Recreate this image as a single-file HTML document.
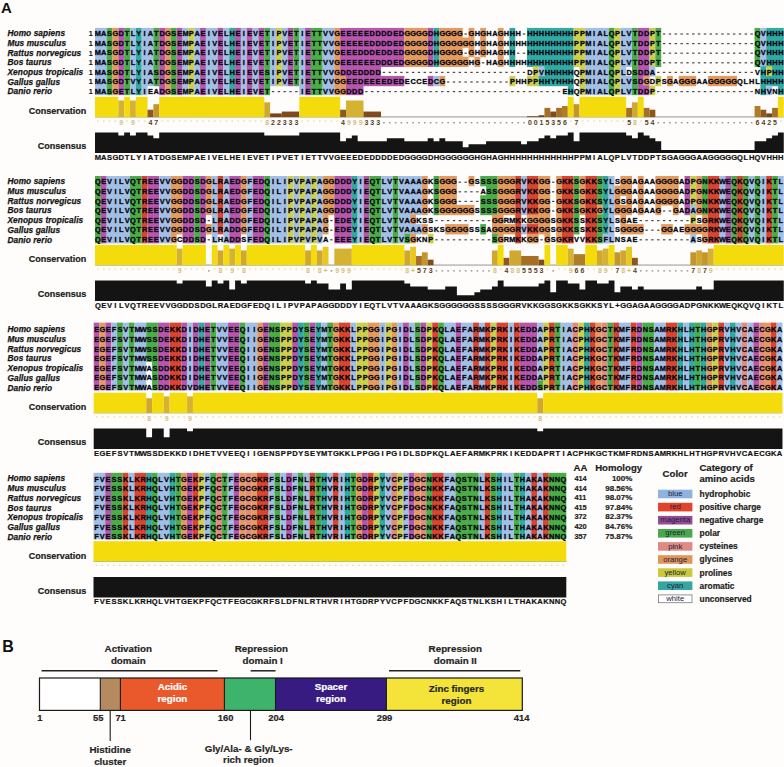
<!DOCTYPE html><html><head><meta charset="utf-8"><style>html,body{margin:0;padding:0;background:#fefdfb;width:784px;height:767px;overflow:hidden}svg{display:block}.sq{font:bold 7.4px "Liberation Sans",sans-serif;fill:#050510;stroke:#050510;stroke-opacity:0.7;stroke-width:0.45}.nm{font:italic bold 8.3px "Liberation Sans",sans-serif;fill:#141414;stroke:#141414;stroke-width:0.25;letter-spacing:0.09px}.lb{font:bold 9px "Liberation Sans",sans-serif;fill:#1a1a1a;stroke:#1a1a1a;stroke-width:0.2}.cs{font:bold 7.6px "Liberation Sans",sans-serif;fill:#111;stroke:#111;stroke-width:0.2}.cn{font:bold 7px "Liberation Sans",sans-serif}.n1{font:bold 8px "Liberation Sans",sans-serif;fill:#1a1a1a}</style></head><body>
<svg width="784" height="767" viewBox="0 0 784 767">
<rect width="784" height="767" fill="#fefdfb"/>
<text x="1.0" y="12.9" style="font:bold 15px 'Liberation Sans',sans-serif;fill:#111">A</text>
<text class="nm" x="7.4" y="36.1">Homo sapiens</text>
<text class="n1" x="88.4" y="36.3">1</text>
<text class="nm" x="7.4" y="45.83">Mus musculus</text>
<text class="n1" x="88.4" y="45.9">1</text>
<text class="nm" x="7.4" y="55.56">Rattus norvegicus</text>
<text class="n1" x="88.4" y="55.5">1</text>
<text class="nm" x="7.4" y="65.29">Bos taurus</text>
<text class="n1" x="88.4" y="65.1">1</text>
<text class="nm" x="7.4" y="75.02">Xenopus tropicalis</text>
<text class="n1" x="88.4" y="74.7">1</text>
<text class="nm" x="7.4" y="84.75">Gallus gallus</text>
<text class="n1" x="88.4" y="84.3">1</text>
<text class="nm" x="7.4" y="94.48">Danio rerio</text>
<text class="n1" x="88.4" y="93.9">1</text>
<rect x="95" y="27.9" width="11.67" height="10.3" fill="#a2bfe5"/>
<rect x="106.67" y="27.9" width="5.84" height="10.3" fill="#4aad45"/>
<rect x="112.51" y="27.9" width="5.84" height="10.3" fill="#e59b5c"/>
<rect x="118.35" y="27.9" width="5.84" height="10.3" fill="#b856ad"/>
<rect x="124.19" y="27.9" width="5.84" height="10.3" fill="#4aad45"/>
<rect x="130.02" y="27.9" width="5.84" height="10.3" fill="#a2bfe5"/>
<rect x="135.86" y="27.9" width="5.84" height="10.3" fill="#30aaa2"/>
<rect x="141.7" y="27.9" width="11.67" height="10.3" fill="#a2bfe5"/>
<rect x="153.37" y="27.9" width="5.84" height="10.3" fill="#4aad45"/>
<rect x="159.21" y="27.9" width="5.84" height="10.3" fill="#b856ad"/>
<rect x="165.04" y="27.9" width="5.84" height="10.3" fill="#e59b5c"/>
<rect x="170.88" y="27.9" width="5.84" height="10.3" fill="#4aad45"/>
<rect x="176.72" y="27.9" width="5.84" height="10.3" fill="#b856ad"/>
<rect x="182.56" y="27.9" width="5.84" height="10.3" fill="#a2bfe5"/>
<rect x="188.39" y="27.9" width="5.84" height="10.3" fill="#cdd04a"/>
<rect x="194.23" y="27.9" width="5.84" height="10.3" fill="#a2bfe5"/>
<rect x="200.07" y="27.9" width="5.84" height="10.3" fill="#b856ad"/>
<rect x="205.9" y="27.9" width="11.67" height="10.3" fill="#a2bfe5"/>
<rect x="217.58" y="27.9" width="5.84" height="10.3" fill="#b856ad"/>
<rect x="223.41" y="27.9" width="5.84" height="10.3" fill="#a2bfe5"/>
<rect x="229.25" y="27.9" width="5.84" height="10.3" fill="#30aaa2"/>
<rect x="235.09" y="27.9" width="5.84" height="10.3" fill="#b856ad"/>
<rect x="240.92" y="27.9" width="5.84" height="10.3" fill="#a2bfe5"/>
<rect x="246.76" y="27.9" width="5.84" height="10.3" fill="#b856ad"/>
<rect x="252.6" y="27.9" width="5.84" height="10.3" fill="#a2bfe5"/>
<rect x="258.44" y="27.9" width="5.84" height="10.3" fill="#b856ad"/>
<rect x="264.27" y="27.9" width="5.84" height="10.3" fill="#4aad45"/>
<rect x="270.11" y="27.9" width="5.84" height="10.3" fill="#a2bfe5"/>
<rect x="275.95" y="27.9" width="5.84" height="10.3" fill="#cdd04a"/>
<rect x="281.78" y="27.9" width="5.84" height="10.3" fill="#a2bfe5"/>
<rect x="287.62" y="27.9" width="5.84" height="10.3" fill="#b856ad"/>
<rect x="293.46" y="27.9" width="5.84" height="10.3" fill="#4aad45"/>
<rect x="299.29" y="27.9" width="5.84" height="10.3" fill="#a2bfe5"/>
<rect x="305.13" y="27.9" width="5.84" height="10.3" fill="#b856ad"/>
<rect x="310.97" y="27.9" width="11.67" height="10.3" fill="#4aad45"/>
<rect x="322.64" y="27.9" width="11.67" height="10.3" fill="#a2bfe5"/>
<rect x="334.32" y="27.9" width="5.84" height="10.3" fill="#e59b5c"/>
<rect x="340.15" y="27.9" width="64.21" height="10.3" fill="#b856ad"/>
<rect x="404.36" y="27.9" width="23.35" height="10.3" fill="#e59b5c"/>
<rect x="427.71" y="27.9" width="5.84" height="10.3" fill="#b856ad"/>
<rect x="433.55" y="27.9" width="5.84" height="10.3" fill="#30aaa2"/>
<rect x="439.38" y="27.9" width="23.35" height="10.3" fill="#e59b5c"/>
<rect x="468.57" y="27.9" width="5.84" height="10.3" fill="#e59b5c"/>
<rect x="480.24" y="27.9" width="5.84" height="10.3" fill="#e59b5c"/>
<rect x="497.75" y="27.9" width="5.84" height="10.3" fill="#e59b5c"/>
<rect x="509.43" y="27.9" width="5.84" height="10.3" fill="#30aaa2"/>
<rect x="526.94" y="27.9" width="46.7" height="10.3" fill="#30aaa2"/>
<rect x="573.63" y="27.9" width="11.67" height="10.3" fill="#cdd04a"/>
<rect x="585.31" y="27.9" width="23.35" height="10.3" fill="#a2bfe5"/>
<rect x="608.66" y="27.9" width="5.84" height="10.3" fill="#4aad45"/>
<rect x="614.49" y="27.9" width="5.84" height="10.3" fill="#cdd04a"/>
<rect x="620.33" y="27.9" width="11.67" height="10.3" fill="#a2bfe5"/>
<rect x="632" y="27.9" width="5.84" height="10.3" fill="#4aad45"/>
<rect x="637.84" y="27.9" width="11.67" height="10.3" fill="#b856ad"/>
<rect x="649.51" y="27.9" width="5.84" height="10.3" fill="#cdd04a"/>
<rect x="655.35" y="27.9" width="5.84" height="10.3" fill="#4aad45"/>
<rect x="754.58" y="27.9" width="5.84" height="10.3" fill="#4aad45"/>
<rect x="760.42" y="27.9" width="5.84" height="10.3" fill="#a2bfe5"/>
<rect x="766.25" y="27.9" width="17.51" height="10.3" fill="#30aaa2"/>
<rect x="95" y="37.5" width="11.67" height="10.3" fill="#a2bfe5"/>
<rect x="106.67" y="37.5" width="5.84" height="10.3" fill="#4aad45"/>
<rect x="112.51" y="37.5" width="5.84" height="10.3" fill="#e59b5c"/>
<rect x="118.35" y="37.5" width="5.84" height="10.3" fill="#b856ad"/>
<rect x="124.19" y="37.5" width="5.84" height="10.3" fill="#4aad45"/>
<rect x="130.02" y="37.5" width="5.84" height="10.3" fill="#a2bfe5"/>
<rect x="135.86" y="37.5" width="5.84" height="10.3" fill="#30aaa2"/>
<rect x="141.7" y="37.5" width="11.67" height="10.3" fill="#a2bfe5"/>
<rect x="153.37" y="37.5" width="5.84" height="10.3" fill="#4aad45"/>
<rect x="159.21" y="37.5" width="5.84" height="10.3" fill="#b856ad"/>
<rect x="165.04" y="37.5" width="5.84" height="10.3" fill="#e59b5c"/>
<rect x="170.88" y="37.5" width="5.84" height="10.3" fill="#4aad45"/>
<rect x="176.72" y="37.5" width="5.84" height="10.3" fill="#b856ad"/>
<rect x="182.56" y="37.5" width="5.84" height="10.3" fill="#a2bfe5"/>
<rect x="188.39" y="37.5" width="5.84" height="10.3" fill="#cdd04a"/>
<rect x="194.23" y="37.5" width="5.84" height="10.3" fill="#a2bfe5"/>
<rect x="200.07" y="37.5" width="5.84" height="10.3" fill="#b856ad"/>
<rect x="205.9" y="37.5" width="11.67" height="10.3" fill="#a2bfe5"/>
<rect x="217.58" y="37.5" width="5.84" height="10.3" fill="#b856ad"/>
<rect x="223.41" y="37.5" width="5.84" height="10.3" fill="#a2bfe5"/>
<rect x="229.25" y="37.5" width="5.84" height="10.3" fill="#30aaa2"/>
<rect x="235.09" y="37.5" width="5.84" height="10.3" fill="#b856ad"/>
<rect x="240.92" y="37.5" width="5.84" height="10.3" fill="#a2bfe5"/>
<rect x="246.76" y="37.5" width="5.84" height="10.3" fill="#b856ad"/>
<rect x="252.6" y="37.5" width="5.84" height="10.3" fill="#a2bfe5"/>
<rect x="258.44" y="37.5" width="5.84" height="10.3" fill="#b856ad"/>
<rect x="264.27" y="37.5" width="5.84" height="10.3" fill="#4aad45"/>
<rect x="270.11" y="37.5" width="5.84" height="10.3" fill="#a2bfe5"/>
<rect x="275.95" y="37.5" width="5.84" height="10.3" fill="#cdd04a"/>
<rect x="281.78" y="37.5" width="5.84" height="10.3" fill="#a2bfe5"/>
<rect x="287.62" y="37.5" width="5.84" height="10.3" fill="#b856ad"/>
<rect x="293.46" y="37.5" width="5.84" height="10.3" fill="#4aad45"/>
<rect x="299.29" y="37.5" width="5.84" height="10.3" fill="#a2bfe5"/>
<rect x="305.13" y="37.5" width="5.84" height="10.3" fill="#b856ad"/>
<rect x="310.97" y="37.5" width="11.67" height="10.3" fill="#4aad45"/>
<rect x="322.64" y="37.5" width="11.67" height="10.3" fill="#a2bfe5"/>
<rect x="334.32" y="37.5" width="5.84" height="10.3" fill="#e59b5c"/>
<rect x="340.15" y="37.5" width="64.21" height="10.3" fill="#b856ad"/>
<rect x="404.36" y="37.5" width="23.35" height="10.3" fill="#e59b5c"/>
<rect x="427.71" y="37.5" width="5.84" height="10.3" fill="#b856ad"/>
<rect x="433.55" y="37.5" width="5.84" height="10.3" fill="#30aaa2"/>
<rect x="439.38" y="37.5" width="35.02" height="10.3" fill="#e59b5c"/>
<rect x="480.24" y="37.5" width="5.84" height="10.3" fill="#e59b5c"/>
<rect x="497.75" y="37.5" width="5.84" height="10.3" fill="#e59b5c"/>
<rect x="509.43" y="37.5" width="5.84" height="10.3" fill="#30aaa2"/>
<rect x="526.94" y="37.5" width="46.7" height="10.3" fill="#30aaa2"/>
<rect x="573.63" y="37.5" width="11.67" height="10.3" fill="#cdd04a"/>
<rect x="585.31" y="37.5" width="23.35" height="10.3" fill="#a2bfe5"/>
<rect x="608.66" y="37.5" width="5.84" height="10.3" fill="#4aad45"/>
<rect x="614.49" y="37.5" width="5.84" height="10.3" fill="#cdd04a"/>
<rect x="620.33" y="37.5" width="11.67" height="10.3" fill="#a2bfe5"/>
<rect x="632" y="37.5" width="5.84" height="10.3" fill="#4aad45"/>
<rect x="637.84" y="37.5" width="11.67" height="10.3" fill="#b856ad"/>
<rect x="649.51" y="37.5" width="5.84" height="10.3" fill="#cdd04a"/>
<rect x="655.35" y="37.5" width="5.84" height="10.3" fill="#4aad45"/>
<rect x="754.58" y="37.5" width="5.84" height="10.3" fill="#4aad45"/>
<rect x="760.42" y="37.5" width="5.84" height="10.3" fill="#a2bfe5"/>
<rect x="766.25" y="37.5" width="17.51" height="10.3" fill="#30aaa2"/>
<rect x="95" y="47.1" width="11.67" height="10.3" fill="#a2bfe5"/>
<rect x="106.67" y="47.1" width="5.84" height="10.3" fill="#4aad45"/>
<rect x="112.51" y="47.1" width="5.84" height="10.3" fill="#e59b5c"/>
<rect x="118.35" y="47.1" width="5.84" height="10.3" fill="#b856ad"/>
<rect x="124.19" y="47.1" width="5.84" height="10.3" fill="#4aad45"/>
<rect x="130.02" y="47.1" width="5.84" height="10.3" fill="#a2bfe5"/>
<rect x="135.86" y="47.1" width="5.84" height="10.3" fill="#30aaa2"/>
<rect x="141.7" y="47.1" width="11.67" height="10.3" fill="#a2bfe5"/>
<rect x="153.37" y="47.1" width="5.84" height="10.3" fill="#4aad45"/>
<rect x="159.21" y="47.1" width="5.84" height="10.3" fill="#b856ad"/>
<rect x="165.04" y="47.1" width="5.84" height="10.3" fill="#e59b5c"/>
<rect x="170.88" y="47.1" width="5.84" height="10.3" fill="#4aad45"/>
<rect x="176.72" y="47.1" width="5.84" height="10.3" fill="#b856ad"/>
<rect x="182.56" y="47.1" width="5.84" height="10.3" fill="#a2bfe5"/>
<rect x="188.39" y="47.1" width="5.84" height="10.3" fill="#cdd04a"/>
<rect x="194.23" y="47.1" width="5.84" height="10.3" fill="#a2bfe5"/>
<rect x="200.07" y="47.1" width="5.84" height="10.3" fill="#b856ad"/>
<rect x="205.9" y="47.1" width="11.67" height="10.3" fill="#a2bfe5"/>
<rect x="217.58" y="47.1" width="5.84" height="10.3" fill="#b856ad"/>
<rect x="223.41" y="47.1" width="5.84" height="10.3" fill="#a2bfe5"/>
<rect x="229.25" y="47.1" width="5.84" height="10.3" fill="#30aaa2"/>
<rect x="235.09" y="47.1" width="5.84" height="10.3" fill="#b856ad"/>
<rect x="240.92" y="47.1" width="5.84" height="10.3" fill="#a2bfe5"/>
<rect x="246.76" y="47.1" width="5.84" height="10.3" fill="#b856ad"/>
<rect x="252.6" y="47.1" width="5.84" height="10.3" fill="#a2bfe5"/>
<rect x="258.44" y="47.1" width="5.84" height="10.3" fill="#b856ad"/>
<rect x="264.27" y="47.1" width="5.84" height="10.3" fill="#4aad45"/>
<rect x="270.11" y="47.1" width="5.84" height="10.3" fill="#a2bfe5"/>
<rect x="275.95" y="47.1" width="5.84" height="10.3" fill="#cdd04a"/>
<rect x="281.78" y="47.1" width="5.84" height="10.3" fill="#a2bfe5"/>
<rect x="287.62" y="47.1" width="5.84" height="10.3" fill="#b856ad"/>
<rect x="293.46" y="47.1" width="5.84" height="10.3" fill="#4aad45"/>
<rect x="299.29" y="47.1" width="5.84" height="10.3" fill="#a2bfe5"/>
<rect x="305.13" y="47.1" width="5.84" height="10.3" fill="#b856ad"/>
<rect x="310.97" y="47.1" width="11.67" height="10.3" fill="#4aad45"/>
<rect x="322.64" y="47.1" width="11.67" height="10.3" fill="#a2bfe5"/>
<rect x="334.32" y="47.1" width="5.84" height="10.3" fill="#e59b5c"/>
<rect x="340.15" y="47.1" width="64.21" height="10.3" fill="#b856ad"/>
<rect x="404.36" y="47.1" width="23.35" height="10.3" fill="#e59b5c"/>
<rect x="427.71" y="47.1" width="5.84" height="10.3" fill="#b856ad"/>
<rect x="433.55" y="47.1" width="5.84" height="10.3" fill="#30aaa2"/>
<rect x="439.38" y="47.1" width="23.35" height="10.3" fill="#e59b5c"/>
<rect x="468.57" y="47.1" width="5.84" height="10.3" fill="#e59b5c"/>
<rect x="480.24" y="47.1" width="5.84" height="10.3" fill="#e59b5c"/>
<rect x="497.75" y="47.1" width="5.84" height="10.3" fill="#e59b5c"/>
<rect x="509.43" y="47.1" width="5.84" height="10.3" fill="#30aaa2"/>
<rect x="526.94" y="47.1" width="46.7" height="10.3" fill="#30aaa2"/>
<rect x="573.63" y="47.1" width="11.67" height="10.3" fill="#cdd04a"/>
<rect x="585.31" y="47.1" width="23.35" height="10.3" fill="#a2bfe5"/>
<rect x="608.66" y="47.1" width="5.84" height="10.3" fill="#4aad45"/>
<rect x="614.49" y="47.1" width="5.84" height="10.3" fill="#cdd04a"/>
<rect x="620.33" y="47.1" width="11.67" height="10.3" fill="#a2bfe5"/>
<rect x="632" y="47.1" width="5.84" height="10.3" fill="#4aad45"/>
<rect x="637.84" y="47.1" width="11.67" height="10.3" fill="#b856ad"/>
<rect x="649.51" y="47.1" width="5.84" height="10.3" fill="#cdd04a"/>
<rect x="655.35" y="47.1" width="5.84" height="10.3" fill="#4aad45"/>
<rect x="754.58" y="47.1" width="5.84" height="10.3" fill="#4aad45"/>
<rect x="760.42" y="47.1" width="5.84" height="10.3" fill="#a2bfe5"/>
<rect x="766.25" y="47.1" width="17.51" height="10.3" fill="#30aaa2"/>
<rect x="95" y="56.7" width="11.67" height="10.3" fill="#a2bfe5"/>
<rect x="106.67" y="56.7" width="5.84" height="10.3" fill="#4aad45"/>
<rect x="112.51" y="56.7" width="5.84" height="10.3" fill="#e59b5c"/>
<rect x="118.35" y="56.7" width="5.84" height="10.3" fill="#b856ad"/>
<rect x="124.19" y="56.7" width="5.84" height="10.3" fill="#4aad45"/>
<rect x="130.02" y="56.7" width="5.84" height="10.3" fill="#a2bfe5"/>
<rect x="135.86" y="56.7" width="5.84" height="10.3" fill="#30aaa2"/>
<rect x="141.7" y="56.7" width="11.67" height="10.3" fill="#a2bfe5"/>
<rect x="153.37" y="56.7" width="5.84" height="10.3" fill="#4aad45"/>
<rect x="159.21" y="56.7" width="5.84" height="10.3" fill="#b856ad"/>
<rect x="165.04" y="56.7" width="5.84" height="10.3" fill="#e59b5c"/>
<rect x="170.88" y="56.7" width="5.84" height="10.3" fill="#4aad45"/>
<rect x="176.72" y="56.7" width="5.84" height="10.3" fill="#b856ad"/>
<rect x="182.56" y="56.7" width="5.84" height="10.3" fill="#a2bfe5"/>
<rect x="188.39" y="56.7" width="5.84" height="10.3" fill="#cdd04a"/>
<rect x="194.23" y="56.7" width="5.84" height="10.3" fill="#a2bfe5"/>
<rect x="200.07" y="56.7" width="5.84" height="10.3" fill="#b856ad"/>
<rect x="205.9" y="56.7" width="11.67" height="10.3" fill="#a2bfe5"/>
<rect x="217.58" y="56.7" width="5.84" height="10.3" fill="#b856ad"/>
<rect x="223.41" y="56.7" width="5.84" height="10.3" fill="#a2bfe5"/>
<rect x="229.25" y="56.7" width="5.84" height="10.3" fill="#30aaa2"/>
<rect x="235.09" y="56.7" width="5.84" height="10.3" fill="#b856ad"/>
<rect x="240.92" y="56.7" width="5.84" height="10.3" fill="#a2bfe5"/>
<rect x="246.76" y="56.7" width="5.84" height="10.3" fill="#b856ad"/>
<rect x="252.6" y="56.7" width="5.84" height="10.3" fill="#a2bfe5"/>
<rect x="258.44" y="56.7" width="5.84" height="10.3" fill="#b856ad"/>
<rect x="264.27" y="56.7" width="5.84" height="10.3" fill="#4aad45"/>
<rect x="270.11" y="56.7" width="5.84" height="10.3" fill="#a2bfe5"/>
<rect x="275.95" y="56.7" width="5.84" height="10.3" fill="#cdd04a"/>
<rect x="281.78" y="56.7" width="5.84" height="10.3" fill="#a2bfe5"/>
<rect x="287.62" y="56.7" width="5.84" height="10.3" fill="#b856ad"/>
<rect x="293.46" y="56.7" width="5.84" height="10.3" fill="#4aad45"/>
<rect x="299.29" y="56.7" width="5.84" height="10.3" fill="#a2bfe5"/>
<rect x="305.13" y="56.7" width="5.84" height="10.3" fill="#b856ad"/>
<rect x="310.97" y="56.7" width="11.67" height="10.3" fill="#4aad45"/>
<rect x="322.64" y="56.7" width="11.67" height="10.3" fill="#a2bfe5"/>
<rect x="334.32" y="56.7" width="5.84" height="10.3" fill="#e59b5c"/>
<rect x="340.15" y="56.7" width="64.21" height="10.3" fill="#b856ad"/>
<rect x="404.36" y="56.7" width="23.35" height="10.3" fill="#e59b5c"/>
<rect x="427.71" y="56.7" width="5.84" height="10.3" fill="#b856ad"/>
<rect x="433.55" y="56.7" width="5.84" height="10.3" fill="#30aaa2"/>
<rect x="439.38" y="56.7" width="29.18" height="10.3" fill="#e59b5c"/>
<rect x="474.4" y="56.7" width="5.84" height="10.3" fill="#e59b5c"/>
<rect x="497.75" y="56.7" width="5.84" height="10.3" fill="#e59b5c"/>
<rect x="509.43" y="56.7" width="5.84" height="10.3" fill="#30aaa2"/>
<rect x="526.94" y="56.7" width="46.7" height="10.3" fill="#30aaa2"/>
<rect x="573.63" y="56.7" width="11.67" height="10.3" fill="#cdd04a"/>
<rect x="585.31" y="56.7" width="23.35" height="10.3" fill="#a2bfe5"/>
<rect x="608.66" y="56.7" width="5.84" height="10.3" fill="#4aad45"/>
<rect x="614.49" y="56.7" width="5.84" height="10.3" fill="#cdd04a"/>
<rect x="620.33" y="56.7" width="11.67" height="10.3" fill="#a2bfe5"/>
<rect x="632" y="56.7" width="5.84" height="10.3" fill="#4aad45"/>
<rect x="637.84" y="56.7" width="11.67" height="10.3" fill="#b856ad"/>
<rect x="649.51" y="56.7" width="5.84" height="10.3" fill="#cdd04a"/>
<rect x="655.35" y="56.7" width="5.84" height="10.3" fill="#4aad45"/>
<rect x="754.58" y="56.7" width="5.84" height="10.3" fill="#4aad45"/>
<rect x="760.42" y="56.7" width="5.84" height="10.3" fill="#a2bfe5"/>
<rect x="766.25" y="56.7" width="17.51" height="10.3" fill="#30aaa2"/>
<rect x="95" y="66.3" width="11.67" height="10.3" fill="#a2bfe5"/>
<rect x="106.67" y="66.3" width="5.84" height="10.3" fill="#4aad45"/>
<rect x="112.51" y="66.3" width="5.84" height="10.3" fill="#e59b5c"/>
<rect x="118.35" y="66.3" width="5.84" height="10.3" fill="#b856ad"/>
<rect x="124.19" y="66.3" width="5.84" height="10.3" fill="#4aad45"/>
<rect x="130.02" y="66.3" width="5.84" height="10.3" fill="#a2bfe5"/>
<rect x="135.86" y="66.3" width="5.84" height="10.3" fill="#30aaa2"/>
<rect x="141.7" y="66.3" width="11.67" height="10.3" fill="#a2bfe5"/>
<rect x="153.37" y="66.3" width="5.84" height="10.3" fill="#4aad45"/>
<rect x="159.21" y="66.3" width="5.84" height="10.3" fill="#b856ad"/>
<rect x="165.04" y="66.3" width="5.84" height="10.3" fill="#e59b5c"/>
<rect x="170.88" y="66.3" width="5.84" height="10.3" fill="#4aad45"/>
<rect x="176.72" y="66.3" width="5.84" height="10.3" fill="#b856ad"/>
<rect x="182.56" y="66.3" width="5.84" height="10.3" fill="#a2bfe5"/>
<rect x="188.39" y="66.3" width="5.84" height="10.3" fill="#cdd04a"/>
<rect x="194.23" y="66.3" width="5.84" height="10.3" fill="#a2bfe5"/>
<rect x="200.07" y="66.3" width="5.84" height="10.3" fill="#b856ad"/>
<rect x="205.9" y="66.3" width="11.67" height="10.3" fill="#a2bfe5"/>
<rect x="217.58" y="66.3" width="5.84" height="10.3" fill="#b856ad"/>
<rect x="223.41" y="66.3" width="5.84" height="10.3" fill="#a2bfe5"/>
<rect x="229.25" y="66.3" width="5.84" height="10.3" fill="#30aaa2"/>
<rect x="235.09" y="66.3" width="5.84" height="10.3" fill="#b856ad"/>
<rect x="240.92" y="66.3" width="5.84" height="10.3" fill="#a2bfe5"/>
<rect x="246.76" y="66.3" width="5.84" height="10.3" fill="#b856ad"/>
<rect x="252.6" y="66.3" width="5.84" height="10.3" fill="#a2bfe5"/>
<rect x="258.44" y="66.3" width="5.84" height="10.3" fill="#b856ad"/>
<rect x="264.27" y="66.3" width="5.84" height="10.3" fill="#4aad45"/>
<rect x="270.11" y="66.3" width="5.84" height="10.3" fill="#a2bfe5"/>
<rect x="275.95" y="66.3" width="5.84" height="10.3" fill="#cdd04a"/>
<rect x="281.78" y="66.3" width="5.84" height="10.3" fill="#a2bfe5"/>
<rect x="287.62" y="66.3" width="5.84" height="10.3" fill="#b856ad"/>
<rect x="293.46" y="66.3" width="5.84" height="10.3" fill="#4aad45"/>
<rect x="299.29" y="66.3" width="5.84" height="10.3" fill="#a2bfe5"/>
<rect x="305.13" y="66.3" width="5.84" height="10.3" fill="#b856ad"/>
<rect x="310.97" y="66.3" width="11.67" height="10.3" fill="#4aad45"/>
<rect x="322.64" y="66.3" width="11.67" height="10.3" fill="#a2bfe5"/>
<rect x="334.32" y="66.3" width="5.84" height="10.3" fill="#e59b5c"/>
<rect x="340.15" y="66.3" width="40.86" height="10.3" fill="#b856ad"/>
<rect x="532.77" y="66.3" width="5.84" height="10.3" fill="#cdd04a"/>
<rect x="538.61" y="66.3" width="5.84" height="10.3" fill="#a2bfe5"/>
<rect x="544.45" y="66.3" width="29.18" height="10.3" fill="#30aaa2"/>
<rect x="579.47" y="66.3" width="5.84" height="10.3" fill="#cdd04a"/>
<rect x="585.31" y="66.3" width="23.35" height="10.3" fill="#a2bfe5"/>
<rect x="608.66" y="66.3" width="5.84" height="10.3" fill="#4aad45"/>
<rect x="614.49" y="66.3" width="5.84" height="10.3" fill="#cdd04a"/>
<rect x="620.33" y="66.3" width="5.84" height="10.3" fill="#a2bfe5"/>
<rect x="632" y="66.3" width="5.84" height="10.3" fill="#4aad45"/>
<rect x="637.84" y="66.3" width="11.67" height="10.3" fill="#b856ad"/>
<rect x="649.51" y="66.3" width="5.84" height="10.3" fill="#a2bfe5"/>
<rect x="760.42" y="66.3" width="5.84" height="10.3" fill="#30aaa2"/>
<rect x="766.25" y="66.3" width="5.84" height="10.3" fill="#cdd04a"/>
<rect x="772.09" y="66.3" width="11.67" height="10.3" fill="#30aaa2"/>
<rect x="95" y="75.9" width="11.67" height="10.3" fill="#a2bfe5"/>
<rect x="106.67" y="75.9" width="5.84" height="10.3" fill="#4aad45"/>
<rect x="112.51" y="75.9" width="5.84" height="10.3" fill="#e59b5c"/>
<rect x="118.35" y="75.9" width="5.84" height="10.3" fill="#b856ad"/>
<rect x="124.19" y="75.9" width="5.84" height="10.3" fill="#4aad45"/>
<rect x="130.02" y="75.9" width="5.84" height="10.3" fill="#a2bfe5"/>
<rect x="135.86" y="75.9" width="5.84" height="10.3" fill="#30aaa2"/>
<rect x="141.7" y="75.9" width="11.67" height="10.3" fill="#a2bfe5"/>
<rect x="153.37" y="75.9" width="5.84" height="10.3" fill="#4aad45"/>
<rect x="159.21" y="75.9" width="5.84" height="10.3" fill="#b856ad"/>
<rect x="165.04" y="75.9" width="5.84" height="10.3" fill="#e59b5c"/>
<rect x="170.88" y="75.9" width="5.84" height="10.3" fill="#4aad45"/>
<rect x="176.72" y="75.9" width="5.84" height="10.3" fill="#b856ad"/>
<rect x="182.56" y="75.9" width="5.84" height="10.3" fill="#a2bfe5"/>
<rect x="188.39" y="75.9" width="5.84" height="10.3" fill="#cdd04a"/>
<rect x="194.23" y="75.9" width="5.84" height="10.3" fill="#a2bfe5"/>
<rect x="200.07" y="75.9" width="5.84" height="10.3" fill="#b856ad"/>
<rect x="205.9" y="75.9" width="11.67" height="10.3" fill="#a2bfe5"/>
<rect x="217.58" y="75.9" width="5.84" height="10.3" fill="#b856ad"/>
<rect x="223.41" y="75.9" width="5.84" height="10.3" fill="#a2bfe5"/>
<rect x="229.25" y="75.9" width="5.84" height="10.3" fill="#30aaa2"/>
<rect x="235.09" y="75.9" width="5.84" height="10.3" fill="#b856ad"/>
<rect x="240.92" y="75.9" width="5.84" height="10.3" fill="#a2bfe5"/>
<rect x="246.76" y="75.9" width="5.84" height="10.3" fill="#b856ad"/>
<rect x="252.6" y="75.9" width="5.84" height="10.3" fill="#a2bfe5"/>
<rect x="258.44" y="75.9" width="5.84" height="10.3" fill="#b856ad"/>
<rect x="264.27" y="75.9" width="5.84" height="10.3" fill="#4aad45"/>
<rect x="270.11" y="75.9" width="5.84" height="10.3" fill="#a2bfe5"/>
<rect x="275.95" y="75.9" width="5.84" height="10.3" fill="#cdd04a"/>
<rect x="281.78" y="75.9" width="5.84" height="10.3" fill="#a2bfe5"/>
<rect x="287.62" y="75.9" width="5.84" height="10.3" fill="#b856ad"/>
<rect x="293.46" y="75.9" width="5.84" height="10.3" fill="#4aad45"/>
<rect x="299.29" y="75.9" width="5.84" height="10.3" fill="#a2bfe5"/>
<rect x="305.13" y="75.9" width="5.84" height="10.3" fill="#b856ad"/>
<rect x="310.97" y="75.9" width="11.67" height="10.3" fill="#4aad45"/>
<rect x="322.64" y="75.9" width="11.67" height="10.3" fill="#a2bfe5"/>
<rect x="334.32" y="75.9" width="11.67" height="10.3" fill="#e59b5c"/>
<rect x="345.99" y="75.9" width="58.37" height="10.3" fill="#b856ad"/>
<rect x="427.71" y="75.9" width="5.84" height="10.3" fill="#b856ad"/>
<rect x="433.55" y="75.9" width="5.84" height="10.3" fill="#a2bfe5"/>
<rect x="439.38" y="75.9" width="5.84" height="10.3" fill="#e59b5c"/>
<rect x="509.43" y="75.9" width="5.84" height="10.3" fill="#cdd04a"/>
<rect x="526.94" y="75.9" width="11.67" height="10.3" fill="#cdd04a"/>
<rect x="538.61" y="75.9" width="35.02" height="10.3" fill="#30aaa2"/>
<rect x="579.47" y="75.9" width="5.84" height="10.3" fill="#cdd04a"/>
<rect x="585.31" y="75.9" width="23.35" height="10.3" fill="#a2bfe5"/>
<rect x="608.66" y="75.9" width="5.84" height="10.3" fill="#4aad45"/>
<rect x="614.49" y="75.9" width="5.84" height="10.3" fill="#cdd04a"/>
<rect x="620.33" y="75.9" width="11.67" height="10.3" fill="#a2bfe5"/>
<rect x="632" y="75.9" width="5.84" height="10.3" fill="#4aad45"/>
<rect x="637.84" y="75.9" width="5.84" height="10.3" fill="#b856ad"/>
<rect x="643.68" y="75.9" width="5.84" height="10.3" fill="#e59b5c"/>
<rect x="655.35" y="75.9" width="5.84" height="10.3" fill="#cdd04a"/>
<rect x="667.03" y="75.9" width="5.84" height="10.3" fill="#e59b5c"/>
<rect x="678.7" y="75.9" width="17.51" height="10.3" fill="#e59b5c"/>
<rect x="707.88" y="75.9" width="29.18" height="10.3" fill="#e59b5c"/>
<rect x="760.42" y="75.9" width="23.35" height="10.3" fill="#30aaa2"/>
<rect x="95" y="85.5" width="11.67" height="9.65" fill="#a2bfe5"/>
<rect x="106.67" y="85.5" width="5.84" height="9.65" fill="#4aad45"/>
<rect x="112.51" y="85.5" width="5.84" height="9.65" fill="#e59b5c"/>
<rect x="118.35" y="85.5" width="5.84" height="9.65" fill="#b856ad"/>
<rect x="124.19" y="85.5" width="5.84" height="9.65" fill="#4aad45"/>
<rect x="130.02" y="85.5" width="5.84" height="9.65" fill="#a2bfe5"/>
<rect x="135.86" y="85.5" width="5.84" height="9.65" fill="#30aaa2"/>
<rect x="141.7" y="85.5" width="5.84" height="9.65" fill="#a2bfe5"/>
<rect x="159.21" y="85.5" width="5.84" height="9.65" fill="#b856ad"/>
<rect x="165.04" y="85.5" width="5.84" height="9.65" fill="#e59b5c"/>
<rect x="170.88" y="85.5" width="5.84" height="9.65" fill="#4aad45"/>
<rect x="176.72" y="85.5" width="5.84" height="9.65" fill="#b856ad"/>
<rect x="182.56" y="85.5" width="5.84" height="9.65" fill="#a2bfe5"/>
<rect x="188.39" y="85.5" width="5.84" height="9.65" fill="#cdd04a"/>
<rect x="194.23" y="85.5" width="5.84" height="9.65" fill="#a2bfe5"/>
<rect x="200.07" y="85.5" width="5.84" height="9.65" fill="#b856ad"/>
<rect x="205.9" y="85.5" width="11.67" height="9.65" fill="#a2bfe5"/>
<rect x="217.58" y="85.5" width="5.84" height="9.65" fill="#b856ad"/>
<rect x="223.41" y="85.5" width="5.84" height="9.65" fill="#a2bfe5"/>
<rect x="229.25" y="85.5" width="5.84" height="9.65" fill="#30aaa2"/>
<rect x="235.09" y="85.5" width="5.84" height="9.65" fill="#b856ad"/>
<rect x="240.92" y="85.5" width="5.84" height="9.65" fill="#a2bfe5"/>
<rect x="246.76" y="85.5" width="5.84" height="9.65" fill="#b856ad"/>
<rect x="252.6" y="85.5" width="5.84" height="9.65" fill="#a2bfe5"/>
<rect x="258.44" y="85.5" width="5.84" height="9.65" fill="#b856ad"/>
<rect x="264.27" y="85.5" width="5.84" height="9.65" fill="#4aad45"/>
<rect x="299.29" y="85.5" width="5.84" height="9.65" fill="#a2bfe5"/>
<rect x="305.13" y="85.5" width="5.84" height="9.65" fill="#b856ad"/>
<rect x="310.97" y="85.5" width="11.67" height="9.65" fill="#4aad45"/>
<rect x="322.64" y="85.5" width="11.67" height="9.65" fill="#a2bfe5"/>
<rect x="334.32" y="85.5" width="11.67" height="9.65" fill="#e59b5c"/>
<rect x="345.99" y="85.5" width="17.51" height="9.65" fill="#b856ad"/>
<rect x="567.8" y="85.5" width="5.84" height="9.65" fill="#30aaa2"/>
<rect x="579.47" y="85.5" width="5.84" height="9.65" fill="#cdd04a"/>
<rect x="585.31" y="85.5" width="23.35" height="9.65" fill="#a2bfe5"/>
<rect x="608.66" y="85.5" width="5.84" height="9.65" fill="#4aad45"/>
<rect x="614.49" y="85.5" width="5.84" height="9.65" fill="#cdd04a"/>
<rect x="620.33" y="85.5" width="11.67" height="9.65" fill="#a2bfe5"/>
<rect x="632" y="85.5" width="5.84" height="9.65" fill="#4aad45"/>
<rect x="637.84" y="85.5" width="11.67" height="9.65" fill="#b856ad"/>
<rect x="649.51" y="85.5" width="5.84" height="9.65" fill="#cdd04a"/>
<rect x="760.42" y="85.5" width="5.84" height="9.65" fill="#30aaa2"/>
<rect x="766.25" y="85.5" width="5.84" height="9.65" fill="#a2bfe5"/>
<rect x="777.93" y="85.5" width="5.84" height="9.65" fill="#30aaa2"/>
<text class="sq" text-anchor="middle" x="97.92 103.76 109.59 115.43 121.27 127.1 132.94 138.78 144.61 150.45 156.29 162.13 167.96 173.8 179.64 185.47 191.31 197.15 202.98 208.82 214.66 220.5 226.33 232.17 238.01 243.84 249.68 255.52 261.35 267.19 273.03 278.87 284.7 290.54 296.38 302.21 308.05 313.89 319.72 325.56 331.4 337.24 343.07 348.91 354.75 360.58 366.42 372.26 378.09 383.93 389.77 395.61 401.44 407.28 413.12 418.95 424.79 430.63 436.46 442.3 448.14 453.98 459.81 471.49 477.32 483.16 489 494.83 500.67 506.51 512.35 518.18 529.86 535.69 541.53 547.37 553.2 559.04 564.88 570.72 576.55 582.39 588.23 594.06 599.9 605.74 611.57 617.41 623.25 629.09 634.92 640.76 646.6 652.43 658.27 757.5 763.34 769.17 775.01 780.85" y="36.2">MASGDTLYIATDGSEMPAEIVELHEIEVETIPVETIETTVVGEEEEEDDDDEDGGGGDHGGGGGHGHAGHHHHHHHHHHHPPMIALQPLVTDDPTQVHHH</text>
<rect x="464.45" y="33.4" width="2.4" height="1.2" fill="#4a4a4a"/>
<rect x="522.82" y="33.4" width="2.4" height="1.2" fill="#4a4a4a"/>
<rect x="662.91" y="33.4" width="2.4" height="1.2" fill="#4a4a4a"/>
<rect x="668.74" y="33.4" width="2.4" height="1.2" fill="#4a4a4a"/>
<rect x="674.58" y="33.4" width="2.4" height="1.2" fill="#4a4a4a"/>
<rect x="680.42" y="33.4" width="2.4" height="1.2" fill="#4a4a4a"/>
<rect x="686.26" y="33.4" width="2.4" height="1.2" fill="#4a4a4a"/>
<rect x="692.09" y="33.4" width="2.4" height="1.2" fill="#4a4a4a"/>
<rect x="697.93" y="33.4" width="2.4" height="1.2" fill="#4a4a4a"/>
<rect x="703.77" y="33.4" width="2.4" height="1.2" fill="#4a4a4a"/>
<rect x="709.6" y="33.4" width="2.4" height="1.2" fill="#4a4a4a"/>
<rect x="715.44" y="33.4" width="2.4" height="1.2" fill="#4a4a4a"/>
<rect x="721.28" y="33.4" width="2.4" height="1.2" fill="#4a4a4a"/>
<rect x="727.11" y="33.4" width="2.4" height="1.2" fill="#4a4a4a"/>
<rect x="732.95" y="33.4" width="2.4" height="1.2" fill="#4a4a4a"/>
<rect x="738.79" y="33.4" width="2.4" height="1.2" fill="#4a4a4a"/>
<rect x="744.63" y="33.4" width="2.4" height="1.2" fill="#4a4a4a"/>
<rect x="750.46" y="33.4" width="2.4" height="1.2" fill="#4a4a4a"/>
<text class="sq" text-anchor="middle" x="97.92 103.76 109.59 115.43 121.27 127.1 132.94 138.78 144.61 150.45 156.29 162.13 167.96 173.8 179.64 185.47 191.31 197.15 202.98 208.82 214.66 220.5 226.33 232.17 238.01 243.84 249.68 255.52 261.35 267.19 273.03 278.87 284.7 290.54 296.38 302.21 308.05 313.89 319.72 325.56 331.4 337.24 343.07 348.91 354.75 360.58 366.42 372.26 378.09 383.93 389.77 395.61 401.44 407.28 413.12 418.95 424.79 430.63 436.46 442.3 448.14 453.98 459.81 465.65 471.49 477.32 483.16 489 494.83 500.67 506.51 512.35 518.18 524.02 529.86 535.69 541.53 547.37 553.2 559.04 564.88 570.72 576.55 582.39 588.23 594.06 599.9 605.74 611.57 617.41 623.25 629.09 634.92 640.76 646.6 652.43 658.27 757.5 763.34 769.17 775.01 780.85" y="45.8">MASGDTLYIATDGSEMPAEIVELHEIEVETIPVETIETTVVGEEEEEDDDDEDGGGGDHGGGGGGHGHAGHHHHHHHHHHHHPPMIALQPLVTDDPTQVHHH</text>
<rect x="662.91" y="43" width="2.4" height="1.2" fill="#4a4a4a"/>
<rect x="668.74" y="43" width="2.4" height="1.2" fill="#4a4a4a"/>
<rect x="674.58" y="43" width="2.4" height="1.2" fill="#4a4a4a"/>
<rect x="680.42" y="43" width="2.4" height="1.2" fill="#4a4a4a"/>
<rect x="686.26" y="43" width="2.4" height="1.2" fill="#4a4a4a"/>
<rect x="692.09" y="43" width="2.4" height="1.2" fill="#4a4a4a"/>
<rect x="697.93" y="43" width="2.4" height="1.2" fill="#4a4a4a"/>
<rect x="703.77" y="43" width="2.4" height="1.2" fill="#4a4a4a"/>
<rect x="709.6" y="43" width="2.4" height="1.2" fill="#4a4a4a"/>
<rect x="715.44" y="43" width="2.4" height="1.2" fill="#4a4a4a"/>
<rect x="721.28" y="43" width="2.4" height="1.2" fill="#4a4a4a"/>
<rect x="727.11" y="43" width="2.4" height="1.2" fill="#4a4a4a"/>
<rect x="732.95" y="43" width="2.4" height="1.2" fill="#4a4a4a"/>
<rect x="738.79" y="43" width="2.4" height="1.2" fill="#4a4a4a"/>
<rect x="744.63" y="43" width="2.4" height="1.2" fill="#4a4a4a"/>
<rect x="750.46" y="43" width="2.4" height="1.2" fill="#4a4a4a"/>
<text class="sq" text-anchor="middle" x="97.92 103.76 109.59 115.43 121.27 127.1 132.94 138.78 144.61 150.45 156.29 162.13 167.96 173.8 179.64 185.47 191.31 197.15 202.98 208.82 214.66 220.5 226.33 232.17 238.01 243.84 249.68 255.52 261.35 267.19 273.03 278.87 284.7 290.54 296.38 302.21 308.05 313.89 319.72 325.56 331.4 337.24 343.07 348.91 354.75 360.58 366.42 372.26 378.09 383.93 389.77 395.61 401.44 407.28 413.12 418.95 424.79 430.63 436.46 442.3 448.14 453.98 459.81 471.49 477.32 483.16 489 494.83 500.67 506.51 512.35 529.86 535.69 541.53 547.37 553.2 559.04 564.88 570.72 576.55 582.39 588.23 594.06 599.9 605.74 611.57 617.41 623.25 629.09 634.92 640.76 646.6 652.43 658.27 757.5 763.34 769.17 775.01 780.85" y="55.4">MASGDTLYIATDGSEMPAEIVELHEIEVETIPVETIETTVVGEEEDDDEDDEDGGGGDHGGGGGHGHAGHHHHHHHHHHPPMIALQPLVTDDPTQVHHH</text>
<rect x="464.45" y="52.6" width="2.4" height="1.2" fill="#4a4a4a"/>
<rect x="516.98" y="52.6" width="2.4" height="1.2" fill="#4a4a4a"/>
<rect x="522.82" y="52.6" width="2.4" height="1.2" fill="#4a4a4a"/>
<rect x="662.91" y="52.6" width="2.4" height="1.2" fill="#4a4a4a"/>
<rect x="668.74" y="52.6" width="2.4" height="1.2" fill="#4a4a4a"/>
<rect x="674.58" y="52.6" width="2.4" height="1.2" fill="#4a4a4a"/>
<rect x="680.42" y="52.6" width="2.4" height="1.2" fill="#4a4a4a"/>
<rect x="686.26" y="52.6" width="2.4" height="1.2" fill="#4a4a4a"/>
<rect x="692.09" y="52.6" width="2.4" height="1.2" fill="#4a4a4a"/>
<rect x="697.93" y="52.6" width="2.4" height="1.2" fill="#4a4a4a"/>
<rect x="703.77" y="52.6" width="2.4" height="1.2" fill="#4a4a4a"/>
<rect x="709.6" y="52.6" width="2.4" height="1.2" fill="#4a4a4a"/>
<rect x="715.44" y="52.6" width="2.4" height="1.2" fill="#4a4a4a"/>
<rect x="721.28" y="52.6" width="2.4" height="1.2" fill="#4a4a4a"/>
<rect x="727.11" y="52.6" width="2.4" height="1.2" fill="#4a4a4a"/>
<rect x="732.95" y="52.6" width="2.4" height="1.2" fill="#4a4a4a"/>
<rect x="738.79" y="52.6" width="2.4" height="1.2" fill="#4a4a4a"/>
<rect x="744.63" y="52.6" width="2.4" height="1.2" fill="#4a4a4a"/>
<rect x="750.46" y="52.6" width="2.4" height="1.2" fill="#4a4a4a"/>
<text class="sq" text-anchor="middle" x="97.92 103.76 109.59 115.43 121.27 127.1 132.94 138.78 144.61 150.45 156.29 162.13 167.96 173.8 179.64 185.47 191.31 197.15 202.98 208.82 214.66 220.5 226.33 232.17 238.01 243.84 249.68 255.52 261.35 267.19 273.03 278.87 284.7 290.54 296.38 302.21 308.05 313.89 319.72 325.56 331.4 337.24 343.07 348.91 354.75 360.58 366.42 372.26 378.09 383.93 389.77 395.61 401.44 407.28 413.12 418.95 424.79 430.63 436.46 442.3 448.14 453.98 459.81 465.65 471.49 477.32 489 494.83 500.67 506.51 512.35 518.18 524.02 529.86 535.69 541.53 547.37 553.2 559.04 564.88 570.72 576.55 582.39 588.23 594.06 599.9 605.74 611.57 617.41 623.25 629.09 634.92 640.76 646.6 652.43 658.27 757.5 763.34 769.17 775.01 780.85" y="65">MASGDTLYIATDGSEMPAEIVELHEIEVETIPVETIETTVVGEEEEEEDDDEDGGGGDHGGGGGHGHAGHHHHHHHHHHHHPPMIALQPLVTDDPTQVHHH</text>
<rect x="481.96" y="62.2" width="2.4" height="1.2" fill="#4a4a4a"/>
<rect x="662.91" y="62.2" width="2.4" height="1.2" fill="#4a4a4a"/>
<rect x="668.74" y="62.2" width="2.4" height="1.2" fill="#4a4a4a"/>
<rect x="674.58" y="62.2" width="2.4" height="1.2" fill="#4a4a4a"/>
<rect x="680.42" y="62.2" width="2.4" height="1.2" fill="#4a4a4a"/>
<rect x="686.26" y="62.2" width="2.4" height="1.2" fill="#4a4a4a"/>
<rect x="692.09" y="62.2" width="2.4" height="1.2" fill="#4a4a4a"/>
<rect x="697.93" y="62.2" width="2.4" height="1.2" fill="#4a4a4a"/>
<rect x="703.77" y="62.2" width="2.4" height="1.2" fill="#4a4a4a"/>
<rect x="709.6" y="62.2" width="2.4" height="1.2" fill="#4a4a4a"/>
<rect x="715.44" y="62.2" width="2.4" height="1.2" fill="#4a4a4a"/>
<rect x="721.28" y="62.2" width="2.4" height="1.2" fill="#4a4a4a"/>
<rect x="727.11" y="62.2" width="2.4" height="1.2" fill="#4a4a4a"/>
<rect x="732.95" y="62.2" width="2.4" height="1.2" fill="#4a4a4a"/>
<rect x="738.79" y="62.2" width="2.4" height="1.2" fill="#4a4a4a"/>
<rect x="744.63" y="62.2" width="2.4" height="1.2" fill="#4a4a4a"/>
<rect x="750.46" y="62.2" width="2.4" height="1.2" fill="#4a4a4a"/>
<text class="sq" text-anchor="middle" x="97.92 103.76 109.59 115.43 121.27 127.1 132.94 138.78 144.61 150.45 156.29 162.13 167.96 173.8 179.64 185.47 191.31 197.15 202.98 208.82 214.66 220.5 226.33 232.17 238.01 243.84 249.68 255.52 261.35 267.19 273.03 278.87 284.7 290.54 296.38 302.21 308.05 313.89 319.72 325.56 331.4 337.24 343.07 348.91 354.75 360.58 366.42 372.26 378.09 529.86 535.69 541.53 547.37 553.2 559.04 564.88 570.72 576.55 582.39 588.23 594.06 599.9 605.74 611.57 617.41 623.25 629.09 634.92 640.76 646.6 652.43 757.5 763.34 769.17 775.01 780.85" y="74.6">MASGDTLYIASDGSEMPAEIVELHEIEVESIPVETIETTVVGDDEDDDDDPVHHHHHQPMIALQPLDSDDAVHPHH</text>
<rect x="382.73" y="71.8" width="2.4" height="1.2" fill="#4a4a4a"/>
<rect x="388.57" y="71.8" width="2.4" height="1.2" fill="#4a4a4a"/>
<rect x="394.41" y="71.8" width="2.4" height="1.2" fill="#4a4a4a"/>
<rect x="400.24" y="71.8" width="2.4" height="1.2" fill="#4a4a4a"/>
<rect x="406.08" y="71.8" width="2.4" height="1.2" fill="#4a4a4a"/>
<rect x="411.92" y="71.8" width="2.4" height="1.2" fill="#4a4a4a"/>
<rect x="417.75" y="71.8" width="2.4" height="1.2" fill="#4a4a4a"/>
<rect x="423.59" y="71.8" width="2.4" height="1.2" fill="#4a4a4a"/>
<rect x="429.43" y="71.8" width="2.4" height="1.2" fill="#4a4a4a"/>
<rect x="435.26" y="71.8" width="2.4" height="1.2" fill="#4a4a4a"/>
<rect x="441.1" y="71.8" width="2.4" height="1.2" fill="#4a4a4a"/>
<rect x="446.94" y="71.8" width="2.4" height="1.2" fill="#4a4a4a"/>
<rect x="452.78" y="71.8" width="2.4" height="1.2" fill="#4a4a4a"/>
<rect x="458.61" y="71.8" width="2.4" height="1.2" fill="#4a4a4a"/>
<rect x="464.45" y="71.8" width="2.4" height="1.2" fill="#4a4a4a"/>
<rect x="470.29" y="71.8" width="2.4" height="1.2" fill="#4a4a4a"/>
<rect x="476.12" y="71.8" width="2.4" height="1.2" fill="#4a4a4a"/>
<rect x="481.96" y="71.8" width="2.4" height="1.2" fill="#4a4a4a"/>
<rect x="487.8" y="71.8" width="2.4" height="1.2" fill="#4a4a4a"/>
<rect x="493.63" y="71.8" width="2.4" height="1.2" fill="#4a4a4a"/>
<rect x="499.47" y="71.8" width="2.4" height="1.2" fill="#4a4a4a"/>
<rect x="505.31" y="71.8" width="2.4" height="1.2" fill="#4a4a4a"/>
<rect x="511.15" y="71.8" width="2.4" height="1.2" fill="#4a4a4a"/>
<rect x="516.98" y="71.8" width="2.4" height="1.2" fill="#4a4a4a"/>
<rect x="522.82" y="71.8" width="2.4" height="1.2" fill="#4a4a4a"/>
<rect x="657.07" y="71.8" width="2.4" height="1.2" fill="#4a4a4a"/>
<rect x="662.91" y="71.8" width="2.4" height="1.2" fill="#4a4a4a"/>
<rect x="668.74" y="71.8" width="2.4" height="1.2" fill="#4a4a4a"/>
<rect x="674.58" y="71.8" width="2.4" height="1.2" fill="#4a4a4a"/>
<rect x="680.42" y="71.8" width="2.4" height="1.2" fill="#4a4a4a"/>
<rect x="686.26" y="71.8" width="2.4" height="1.2" fill="#4a4a4a"/>
<rect x="692.09" y="71.8" width="2.4" height="1.2" fill="#4a4a4a"/>
<rect x="697.93" y="71.8" width="2.4" height="1.2" fill="#4a4a4a"/>
<rect x="703.77" y="71.8" width="2.4" height="1.2" fill="#4a4a4a"/>
<rect x="709.6" y="71.8" width="2.4" height="1.2" fill="#4a4a4a"/>
<rect x="715.44" y="71.8" width="2.4" height="1.2" fill="#4a4a4a"/>
<rect x="721.28" y="71.8" width="2.4" height="1.2" fill="#4a4a4a"/>
<rect x="727.11" y="71.8" width="2.4" height="1.2" fill="#4a4a4a"/>
<rect x="732.95" y="71.8" width="2.4" height="1.2" fill="#4a4a4a"/>
<rect x="738.79" y="71.8" width="2.4" height="1.2" fill="#4a4a4a"/>
<rect x="744.63" y="71.8" width="2.4" height="1.2" fill="#4a4a4a"/>
<rect x="750.46" y="71.8" width="2.4" height="1.2" fill="#4a4a4a"/>
<text class="sq" text-anchor="middle" x="97.92 103.76 109.59 115.43 121.27 127.1 132.94 138.78 144.61 150.45 156.29 162.13 167.96 173.8 179.64 185.47 191.31 197.15 202.98 208.82 214.66 220.5 226.33 232.17 238.01 243.84 249.68 255.52 261.35 267.19 273.03 278.87 284.7 290.54 296.38 302.21 308.05 313.89 319.72 325.56 331.4 337.24 343.07 348.91 354.75 360.58 366.42 372.26 378.09 383.93 389.77 395.61 401.44 407.28 413.12 418.95 424.79 430.63 436.46 442.3 512.35 518.18 524.02 529.86 535.69 541.53 547.37 553.2 559.04 564.88 570.72 576.55 582.39 588.23 594.06 599.9 605.74 611.57 617.41 623.25 629.09 634.92 640.76 646.6 652.43 658.27 664.11 669.94 675.78 681.62 687.46 693.29 699.13 704.97 710.8 716.64 722.48 728.31 734.15 739.99 745.83 751.66 757.5 763.34 769.17 775.01 780.85" y="84.2">MASGDTVYIATDGSEMPAEIVELHEIEVETIPVETIETTVVGGEEDEEEEDEDECCEDCGPHHPPHHYHHHQPMIALQPLVSDGDPSGAGGGAAGGGGGQLHLHHHH</text>
<rect x="446.94" y="81.4" width="2.4" height="1.2" fill="#4a4a4a"/>
<rect x="452.78" y="81.4" width="2.4" height="1.2" fill="#4a4a4a"/>
<rect x="458.61" y="81.4" width="2.4" height="1.2" fill="#4a4a4a"/>
<rect x="464.45" y="81.4" width="2.4" height="1.2" fill="#4a4a4a"/>
<rect x="470.29" y="81.4" width="2.4" height="1.2" fill="#4a4a4a"/>
<rect x="476.12" y="81.4" width="2.4" height="1.2" fill="#4a4a4a"/>
<rect x="481.96" y="81.4" width="2.4" height="1.2" fill="#4a4a4a"/>
<rect x="487.8" y="81.4" width="2.4" height="1.2" fill="#4a4a4a"/>
<rect x="493.63" y="81.4" width="2.4" height="1.2" fill="#4a4a4a"/>
<rect x="499.47" y="81.4" width="2.4" height="1.2" fill="#4a4a4a"/>
<rect x="505.31" y="81.4" width="2.4" height="1.2" fill="#4a4a4a"/>
<text class="sq" text-anchor="middle" x="97.92 103.76 109.59 115.43 121.27 127.1 132.94 138.78 144.61 150.45 156.29 162.13 167.96 173.8 179.64 185.47 191.31 197.15 202.98 208.82 214.66 220.5 226.33 232.17 238.01 243.84 249.68 255.52 261.35 267.19 302.21 308.05 313.89 319.72 325.56 331.4 337.24 343.07 348.91 354.75 360.58 564.88 570.72 576.55 582.39 588.23 594.06 599.9 605.74 611.57 617.41 623.25 629.09 634.92 640.76 646.6 652.43 757.5 763.34 769.17 775.01 780.85" y="93.8">MASGETLYIEADGSEMPAEIVELHEIEVETIETTVVGGDDDEHQPMIALQPLVTDDPNHVNH</text>
<rect x="271.83" y="91" width="2.4" height="1.2" fill="#4a4a4a"/>
<rect x="277.67" y="91" width="2.4" height="1.2" fill="#4a4a4a"/>
<rect x="283.5" y="91" width="2.4" height="1.2" fill="#4a4a4a"/>
<rect x="289.34" y="91" width="2.4" height="1.2" fill="#4a4a4a"/>
<rect x="295.18" y="91" width="2.4" height="1.2" fill="#4a4a4a"/>
<rect x="365.22" y="91" width="2.4" height="1.2" fill="#4a4a4a"/>
<rect x="371.06" y="91" width="2.4" height="1.2" fill="#4a4a4a"/>
<rect x="376.89" y="91" width="2.4" height="1.2" fill="#4a4a4a"/>
<rect x="382.73" y="91" width="2.4" height="1.2" fill="#4a4a4a"/>
<rect x="388.57" y="91" width="2.4" height="1.2" fill="#4a4a4a"/>
<rect x="394.41" y="91" width="2.4" height="1.2" fill="#4a4a4a"/>
<rect x="400.24" y="91" width="2.4" height="1.2" fill="#4a4a4a"/>
<rect x="406.08" y="91" width="2.4" height="1.2" fill="#4a4a4a"/>
<rect x="411.92" y="91" width="2.4" height="1.2" fill="#4a4a4a"/>
<rect x="417.75" y="91" width="2.4" height="1.2" fill="#4a4a4a"/>
<rect x="423.59" y="91" width="2.4" height="1.2" fill="#4a4a4a"/>
<rect x="429.43" y="91" width="2.4" height="1.2" fill="#4a4a4a"/>
<rect x="435.26" y="91" width="2.4" height="1.2" fill="#4a4a4a"/>
<rect x="441.1" y="91" width="2.4" height="1.2" fill="#4a4a4a"/>
<rect x="446.94" y="91" width="2.4" height="1.2" fill="#4a4a4a"/>
<rect x="452.78" y="91" width="2.4" height="1.2" fill="#4a4a4a"/>
<rect x="458.61" y="91" width="2.4" height="1.2" fill="#4a4a4a"/>
<rect x="464.45" y="91" width="2.4" height="1.2" fill="#4a4a4a"/>
<rect x="470.29" y="91" width="2.4" height="1.2" fill="#4a4a4a"/>
<rect x="476.12" y="91" width="2.4" height="1.2" fill="#4a4a4a"/>
<rect x="481.96" y="91" width="2.4" height="1.2" fill="#4a4a4a"/>
<rect x="487.8" y="91" width="2.4" height="1.2" fill="#4a4a4a"/>
<rect x="493.63" y="91" width="2.4" height="1.2" fill="#4a4a4a"/>
<rect x="499.47" y="91" width="2.4" height="1.2" fill="#4a4a4a"/>
<rect x="505.31" y="91" width="2.4" height="1.2" fill="#4a4a4a"/>
<rect x="511.15" y="91" width="2.4" height="1.2" fill="#4a4a4a"/>
<rect x="516.98" y="91" width="2.4" height="1.2" fill="#4a4a4a"/>
<rect x="522.82" y="91" width="2.4" height="1.2" fill="#4a4a4a"/>
<rect x="528.66" y="91" width="2.4" height="1.2" fill="#4a4a4a"/>
<rect x="534.49" y="91" width="2.4" height="1.2" fill="#4a4a4a"/>
<rect x="540.33" y="91" width="2.4" height="1.2" fill="#4a4a4a"/>
<rect x="546.17" y="91" width="2.4" height="1.2" fill="#4a4a4a"/>
<rect x="552" y="91" width="2.4" height="1.2" fill="#4a4a4a"/>
<rect x="557.84" y="91" width="2.4" height="1.2" fill="#4a4a4a"/>
<rect x="657.07" y="91" width="2.4" height="1.2" fill="#4a4a4a"/>
<rect x="662.91" y="91" width="2.4" height="1.2" fill="#4a4a4a"/>
<rect x="668.74" y="91" width="2.4" height="1.2" fill="#4a4a4a"/>
<rect x="674.58" y="91" width="2.4" height="1.2" fill="#4a4a4a"/>
<rect x="680.42" y="91" width="2.4" height="1.2" fill="#4a4a4a"/>
<rect x="686.26" y="91" width="2.4" height="1.2" fill="#4a4a4a"/>
<rect x="692.09" y="91" width="2.4" height="1.2" fill="#4a4a4a"/>
<rect x="697.93" y="91" width="2.4" height="1.2" fill="#4a4a4a"/>
<rect x="703.77" y="91" width="2.4" height="1.2" fill="#4a4a4a"/>
<rect x="709.6" y="91" width="2.4" height="1.2" fill="#4a4a4a"/>
<rect x="715.44" y="91" width="2.4" height="1.2" fill="#4a4a4a"/>
<rect x="721.28" y="91" width="2.4" height="1.2" fill="#4a4a4a"/>
<rect x="727.11" y="91" width="2.4" height="1.2" fill="#4a4a4a"/>
<rect x="732.95" y="91" width="2.4" height="1.2" fill="#4a4a4a"/>
<rect x="738.79" y="91" width="2.4" height="1.2" fill="#4a4a4a"/>
<rect x="744.63" y="91" width="2.4" height="1.2" fill="#4a4a4a"/>
<rect x="750.46" y="91" width="2.4" height="1.2" fill="#4a4a4a"/>
<text class="lb" text-anchor="end" x="86.2" y="114.2">Conservation</text>
<rect x="95" y="116.5" width="688.77" height="0.9" fill="#8a8a8a"/>
<rect x="95" y="96.8" width="23.35" height="20.3" fill="rgb(244,220,12)"/>
<rect x="118.35" y="100.49" width="5.84" height="16.61" fill="rgb(214,178,50)"/>
<rect x="124.19" y="96.8" width="5.84" height="20.3" fill="rgb(244,220,12)"/>
<rect x="130.02" y="100.49" width="5.84" height="16.61" fill="rgb(214,178,50)"/>
<rect x="135.86" y="96.8" width="11.67" height="20.3" fill="rgb(244,220,12)"/>
<rect x="147.53" y="109.72" width="5.84" height="7.38" fill="rgb(140,88,30)"/>
<rect x="153.37" y="104.18" width="5.84" height="12.92" fill="rgb(195,150,45)"/>
<rect x="159.21" y="96.8" width="105.07" height="20.3" fill="rgb(244,220,12)"/>
<rect x="264.27" y="102.34" width="5.84" height="14.76" fill="rgb(208,168,48)"/>
<rect x="270.11" y="113.41" width="11.67" height="3.69" fill="rgb(120,68,24)"/>
<rect x="281.78" y="111.56" width="17.51" height="5.54" fill="rgb(128,74,26)"/>
<rect x="299.29" y="96.8" width="40.86" height="20.3" fill="rgb(244,220,12)"/>
<rect x="340.15" y="109.72" width="5.84" height="7.38" fill="rgb(140,88,30)"/>
<rect x="345.99" y="100.49" width="17.51" height="16.61" fill="rgb(214,178,50)"/>
<rect x="363.5" y="111.56" width="17.51" height="5.54" fill="rgb(128,74,26)"/>
<rect x="526.94" y="116.3" width="11.67" height="0.8" fill="rgb(112,62,22)"/>
<rect x="538.61" y="115.25" width="5.84" height="1.85" fill="rgb(115,65,22)"/>
<rect x="544.45" y="107.87" width="5.84" height="9.23" fill="rgb(165,112,38)"/>
<rect x="550.29" y="111.56" width="5.84" height="5.54" fill="rgb(128,74,26)"/>
<rect x="556.12" y="107.87" width="5.84" height="9.23" fill="rgb(165,112,38)"/>
<rect x="561.96" y="106.03" width="5.84" height="11.07" fill="rgb(175,125,40)"/>
<rect x="567.8" y="96.8" width="5.84" height="20.3" fill="rgb(244,220,12)"/>
<rect x="573.63" y="104.18" width="5.84" height="12.92" fill="rgb(195,150,45)"/>
<rect x="579.47" y="96.8" width="46.7" height="20.3" fill="rgb(244,220,12)"/>
<rect x="626.17" y="107.87" width="5.84" height="9.23" fill="rgb(165,112,38)"/>
<rect x="632" y="102.34" width="5.84" height="14.76" fill="rgb(208,168,48)"/>
<rect x="637.84" y="96.8" width="5.84" height="20.3" fill="rgb(244,220,12)"/>
<rect x="643.68" y="107.87" width="5.84" height="9.23" fill="rgb(165,112,38)"/>
<rect x="649.51" y="109.72" width="5.84" height="7.38" fill="rgb(140,88,30)"/>
<rect x="754.58" y="106.03" width="5.84" height="11.07" fill="rgb(175,125,40)"/>
<rect x="760.42" y="109.72" width="5.84" height="7.38" fill="rgb(140,88,30)"/>
<rect x="766.25" y="113.41" width="5.84" height="3.69" fill="rgb(120,68,24)"/>
<rect x="772.09" y="107.87" width="5.84" height="9.23" fill="rgb(165,112,38)"/>
<rect x="777.93" y="96.8" width="5.84" height="20.3" fill="rgb(244,220,12)"/>
<rect x="97.12" y="120.4" width="1.6" height="1.2" fill="#e6dc8c"/>
<rect x="102.96" y="120.4" width="1.6" height="1.2" fill="#e6dc8c"/>
<rect x="108.79" y="120.4" width="1.6" height="1.2" fill="#e6dc8c"/>
<rect x="114.63" y="120.4" width="1.6" height="1.2" fill="#e6dc8c"/>
<text class="cn" text-anchor="middle" x="121.27" y="124.6" fill="rgb(214,190,130)">9</text>
<rect x="126.3" y="120.4" width="1.6" height="1.2" fill="#e6dc8c"/>
<text class="cn" text-anchor="middle" x="132.94" y="124.6" fill="rgb(214,190,130)">9</text>
<rect x="137.98" y="120.4" width="1.6" height="1.2" fill="#e6dc8c"/>
<rect x="143.81" y="120.4" width="1.6" height="1.2" fill="#e6dc8c"/>
<text class="cn" text-anchor="middle" x="150.45" y="124.6" fill="rgb(88,62,38)">4</text>
<text class="cn" text-anchor="middle" x="156.29" y="124.6" fill="rgb(88,62,38)">7</text>
<rect x="161.33" y="120.4" width="1.6" height="1.2" fill="#e6dc8c"/>
<rect x="167.16" y="120.4" width="1.6" height="1.2" fill="#e6dc8c"/>
<rect x="173" y="120.4" width="1.6" height="1.2" fill="#e6dc8c"/>
<rect x="178.84" y="120.4" width="1.6" height="1.2" fill="#e6dc8c"/>
<rect x="184.67" y="120.4" width="1.6" height="1.2" fill="#e6dc8c"/>
<rect x="190.51" y="120.4" width="1.6" height="1.2" fill="#e6dc8c"/>
<rect x="196.35" y="120.4" width="1.6" height="1.2" fill="#e6dc8c"/>
<rect x="202.18" y="120.4" width="1.6" height="1.2" fill="#e6dc8c"/>
<rect x="208.02" y="120.4" width="1.6" height="1.2" fill="#e6dc8c"/>
<rect x="213.86" y="120.4" width="1.6" height="1.2" fill="#e6dc8c"/>
<rect x="219.7" y="120.4" width="1.6" height="1.2" fill="#e6dc8c"/>
<rect x="225.53" y="120.4" width="1.6" height="1.2" fill="#e6dc8c"/>
<rect x="231.37" y="120.4" width="1.6" height="1.2" fill="#e6dc8c"/>
<rect x="237.21" y="120.4" width="1.6" height="1.2" fill="#e6dc8c"/>
<rect x="243.04" y="120.4" width="1.6" height="1.2" fill="#e6dc8c"/>
<rect x="248.88" y="120.4" width="1.6" height="1.2" fill="#e6dc8c"/>
<rect x="254.72" y="120.4" width="1.6" height="1.2" fill="#e6dc8c"/>
<rect x="260.55" y="120.4" width="1.6" height="1.2" fill="#e6dc8c"/>
<text class="cn" text-anchor="middle" x="267.19" y="124.6" fill="rgb(214,190,130)">8</text>
<text class="cn" text-anchor="middle" x="273.03" y="124.6" fill="rgb(88,62,38)">2</text>
<text class="cn" text-anchor="middle" x="278.87" y="124.6" fill="rgb(88,62,38)">2</text>
<text class="cn" text-anchor="middle" x="284.7" y="124.6" fill="rgb(88,62,38)">3</text>
<text class="cn" text-anchor="middle" x="290.54" y="124.6" fill="rgb(88,62,38)">3</text>
<text class="cn" text-anchor="middle" x="296.38" y="124.6" fill="rgb(88,62,38)">3</text>
<rect x="301.41" y="120.4" width="1.6" height="1.2" fill="#e6dc8c"/>
<rect x="307.25" y="120.4" width="1.6" height="1.2" fill="#e6dc8c"/>
<rect x="313.09" y="120.4" width="1.6" height="1.2" fill="#e6dc8c"/>
<rect x="318.92" y="120.4" width="1.6" height="1.2" fill="#e6dc8c"/>
<rect x="324.76" y="120.4" width="1.6" height="1.2" fill="#e6dc8c"/>
<rect x="330.6" y="120.4" width="1.6" height="1.2" fill="#e6dc8c"/>
<rect x="336.44" y="120.4" width="1.6" height="1.2" fill="#e6dc8c"/>
<text class="cn" text-anchor="middle" x="343.07" y="124.6" fill="rgb(88,62,38)">4</text>
<text class="cn" text-anchor="middle" x="348.91" y="124.6" fill="rgb(214,190,130)">9</text>
<text class="cn" text-anchor="middle" x="354.75" y="124.6" fill="rgb(214,190,130)">9</text>
<text class="cn" text-anchor="middle" x="360.58" y="124.6" fill="rgb(214,190,130)">9</text>
<text class="cn" text-anchor="middle" x="366.42" y="124.6" fill="rgb(88,62,38)">3</text>
<text class="cn" text-anchor="middle" x="372.26" y="124.6" fill="rgb(88,62,38)">3</text>
<text class="cn" text-anchor="middle" x="378.09" y="124.6" fill="rgb(88,62,38)">3</text>
<rect x="383.13" y="122.3" width="1.6" height="1.0" fill="#6a6a6a"/>
<rect x="388.97" y="122.3" width="1.6" height="1.0" fill="#6a6a6a"/>
<rect x="394.81" y="122.3" width="1.6" height="1.0" fill="#6a6a6a"/>
<rect x="400.64" y="122.3" width="1.6" height="1.0" fill="#6a6a6a"/>
<rect x="406.48" y="122.3" width="1.6" height="1.0" fill="#6a6a6a"/>
<rect x="412.32" y="122.3" width="1.6" height="1.0" fill="#6a6a6a"/>
<rect x="418.15" y="122.3" width="1.6" height="1.0" fill="#6a6a6a"/>
<rect x="423.99" y="122.3" width="1.6" height="1.0" fill="#6a6a6a"/>
<rect x="429.83" y="122.3" width="1.6" height="1.0" fill="#6a6a6a"/>
<rect x="435.66" y="122.3" width="1.6" height="1.0" fill="#6a6a6a"/>
<rect x="441.5" y="122.3" width="1.6" height="1.0" fill="#6a6a6a"/>
<rect x="447.34" y="122.3" width="1.6" height="1.0" fill="#6a6a6a"/>
<rect x="453.18" y="122.3" width="1.6" height="1.0" fill="#6a6a6a"/>
<rect x="459.01" y="122.3" width="1.6" height="1.0" fill="#6a6a6a"/>
<rect x="464.85" y="122.3" width="1.6" height="1.0" fill="#6a6a6a"/>
<rect x="470.69" y="122.3" width="1.6" height="1.0" fill="#6a6a6a"/>
<rect x="476.52" y="122.3" width="1.6" height="1.0" fill="#6a6a6a"/>
<rect x="482.36" y="122.3" width="1.6" height="1.0" fill="#6a6a6a"/>
<rect x="488.2" y="122.3" width="1.6" height="1.0" fill="#6a6a6a"/>
<rect x="494.03" y="122.3" width="1.6" height="1.0" fill="#6a6a6a"/>
<rect x="499.87" y="122.3" width="1.6" height="1.0" fill="#6a6a6a"/>
<rect x="505.71" y="122.3" width="1.6" height="1.0" fill="#6a6a6a"/>
<rect x="511.55" y="122.3" width="1.6" height="1.0" fill="#6a6a6a"/>
<rect x="517.38" y="122.3" width="1.6" height="1.0" fill="#6a6a6a"/>
<rect x="523.22" y="122.3" width="1.6" height="1.0" fill="#6a6a6a"/>
<text class="cn" text-anchor="middle" x="529.86" y="124.6" fill="rgb(88,62,38)">0</text>
<text class="cn" text-anchor="middle" x="535.69" y="124.6" fill="rgb(88,62,38)">0</text>
<text class="cn" text-anchor="middle" x="541.53" y="124.6" fill="rgb(88,62,38)">1</text>
<text class="cn" text-anchor="middle" x="547.37" y="124.6" fill="rgb(88,62,38)">5</text>
<text class="cn" text-anchor="middle" x="553.2" y="124.6" fill="rgb(88,62,38)">3</text>
<text class="cn" text-anchor="middle" x="559.04" y="124.6" fill="rgb(88,62,38)">5</text>
<text class="cn" text-anchor="middle" x="564.88" y="124.6" fill="rgb(88,62,38)">6</text>
<rect x="569.92" y="120.4" width="1.6" height="1.2" fill="#e6dc8c"/>
<text class="cn" text-anchor="middle" x="576.55" y="124.6" fill="rgb(88,62,38)">7</text>
<rect x="581.59" y="120.4" width="1.6" height="1.2" fill="#e6dc8c"/>
<rect x="587.43" y="120.4" width="1.6" height="1.2" fill="#e6dc8c"/>
<rect x="593.26" y="120.4" width="1.6" height="1.2" fill="#e6dc8c"/>
<rect x="599.1" y="120.4" width="1.6" height="1.2" fill="#e6dc8c"/>
<rect x="604.94" y="120.4" width="1.6" height="1.2" fill="#e6dc8c"/>
<rect x="610.77" y="120.4" width="1.6" height="1.2" fill="#e6dc8c"/>
<rect x="616.61" y="120.4" width="1.6" height="1.2" fill="#e6dc8c"/>
<rect x="622.45" y="120.4" width="1.6" height="1.2" fill="#e6dc8c"/>
<text class="cn" text-anchor="middle" x="629.09" y="124.6" fill="rgb(88,62,38)">5</text>
<text class="cn" text-anchor="middle" x="634.92" y="124.6" fill="rgb(214,190,130)">8</text>
<rect x="639.96" y="120.4" width="1.6" height="1.2" fill="#e6dc8c"/>
<text class="cn" text-anchor="middle" x="646.6" y="124.6" fill="rgb(88,62,38)">5</text>
<text class="cn" text-anchor="middle" x="652.43" y="124.6" fill="rgb(88,62,38)">4</text>
<rect x="657.47" y="122.3" width="1.6" height="1.0" fill="#6a6a6a"/>
<rect x="663.31" y="122.3" width="1.6" height="1.0" fill="#6a6a6a"/>
<rect x="669.14" y="122.3" width="1.6" height="1.0" fill="#6a6a6a"/>
<rect x="674.98" y="122.3" width="1.6" height="1.0" fill="#6a6a6a"/>
<rect x="680.82" y="122.3" width="1.6" height="1.0" fill="#6a6a6a"/>
<rect x="686.66" y="122.3" width="1.6" height="1.0" fill="#6a6a6a"/>
<rect x="692.49" y="122.3" width="1.6" height="1.0" fill="#6a6a6a"/>
<rect x="698.33" y="122.3" width="1.6" height="1.0" fill="#6a6a6a"/>
<rect x="704.17" y="122.3" width="1.6" height="1.0" fill="#6a6a6a"/>
<rect x="710" y="122.3" width="1.6" height="1.0" fill="#6a6a6a"/>
<rect x="715.84" y="122.3" width="1.6" height="1.0" fill="#6a6a6a"/>
<rect x="721.68" y="122.3" width="1.6" height="1.0" fill="#6a6a6a"/>
<rect x="727.51" y="122.3" width="1.6" height="1.0" fill="#6a6a6a"/>
<rect x="733.35" y="122.3" width="1.6" height="1.0" fill="#6a6a6a"/>
<rect x="739.19" y="122.3" width="1.6" height="1.0" fill="#6a6a6a"/>
<rect x="745.03" y="122.3" width="1.6" height="1.0" fill="#6a6a6a"/>
<rect x="750.86" y="122.3" width="1.6" height="1.0" fill="#6a6a6a"/>
<text class="cn" text-anchor="middle" x="757.5" y="124.6" fill="rgb(88,62,38)">6</text>
<text class="cn" text-anchor="middle" x="763.34" y="124.6" fill="rgb(88,62,38)">4</text>
<text class="cn" text-anchor="middle" x="769.17" y="124.6" fill="rgb(88,62,38)">2</text>
<text class="cn" text-anchor="middle" x="775.01" y="124.6" fill="rgb(88,62,38)">5</text>
<rect x="780.05" y="120.4" width="1.6" height="1.2" fill="#e6dc8c"/>
<text class="lb" text-anchor="end" x="86.2" y="149.3">Consensus</text>
<path d="M95 153 L95 132.5 L100.84 132.5 L100.84 132.5 L106.67 132.5 L106.67 132.5 L112.51 132.5 L112.51 132.5 L118.35 132.5 L118.35 135.43 L124.19 135.43 L124.19 132.5 L130.02 132.5 L130.02 135.43 L135.86 135.43 L135.86 132.5 L141.7 132.5 L141.7 132.5 L147.53 132.5 L147.53 135.43 L153.37 135.43 L153.37 138.36 L159.21 138.36 L159.21 132.5 L165.04 132.5 L165.04 132.5 L170.88 132.5 L170.88 132.5 L176.72 132.5 L176.72 132.5 L182.55 132.5 L182.56 132.5 L188.39 132.5 L188.39 132.5 L194.23 132.5 L194.23 132.5 L200.07 132.5 L200.07 132.5 L205.9 132.5 L205.9 132.5 L211.74 132.5 L211.74 132.5 L217.58 132.5 L217.58 132.5 L223.41 132.5 L223.41 132.5 L229.25 132.5 L229.25 132.5 L235.09 132.5 L235.09 132.5 L240.92 132.5 L240.92 132.5 L246.76 132.5 L246.76 132.5 L252.6 132.5 L252.6 132.5 L258.44 132.5 L258.44 132.5 L264.27 132.5 L264.27 135.43 L270.11 135.43 L270.11 135.43 L275.95 135.43 L275.95 135.43 L281.78 135.43 L281.78 135.43 L287.62 135.43 L287.62 135.43 L293.46 135.43 L293.46 135.43 L299.29 135.43 L299.29 132.5 L305.13 132.5 L305.13 132.5 L310.97 132.5 L310.97 132.5 L316.81 132.5 L316.81 132.5 L322.64 132.5 L322.64 132.5 L328.48 132.5 L328.48 132.5 L334.32 132.5 L334.32 132.5 L340.15 132.5 L340.15 141.29 L345.99 141.29 L345.99 138.36 L351.83 138.36 L351.83 135.43 L357.66 135.43 L357.66 141.29 L363.5 141.29 L363.5 141.29 L369.34 141.29 L369.34 141.29 L375.18 141.29 L375.18 141.29 L381.01 141.29 L381.01 141.29 L386.85 141.29 L386.85 138.36 L392.69 138.36 L392.69 138.36 L398.52 138.36 L398.52 138.36 L404.36 138.36 L404.36 141.29 L410.2 141.29 L410.2 141.29 L416.03 141.29 L416.03 141.29 L421.87 141.29 L421.87 141.29 L427.71 141.29 L427.71 138.36 L433.55 138.36 L433.55 141.29 L439.38 141.29 L439.38 138.36 L445.22 138.36 L445.22 141.29 L451.06 141.29 L451.06 141.29 L456.89 141.29 L456.89 141.29 L462.73 141.29 L462.73 147.14 L468.57 147.14 L468.57 144.21 L474.4 144.21 L474.4 144.21 L480.24 144.21 L480.24 144.21 L486.08 144.21 L486.08 141.29 L491.92 141.29 L491.92 141.29 L497.75 141.29 L497.75 141.29 L503.59 141.29 L503.59 141.29 L509.43 141.29 L509.43 141.29 L515.26 141.29 L515.26 141.29 L521.1 141.29 L521.1 144.21 L526.94 144.21 L526.94 141.29 L532.77 141.29 L532.77 141.29 L538.61 141.29 L538.61 138.36 L544.45 138.36 L544.45 135.43 L550.29 135.43 L550.29 138.36 L556.12 138.36 L556.12 135.43 L561.96 135.43 L561.96 135.43 L567.8 135.43 L567.8 132.5 L573.63 132.5 L573.63 141.29 L579.47 141.29 L579.47 132.5 L585.31 132.5 L585.31 132.5 L591.14 132.5 L591.14 132.5 L596.98 132.5 L596.98 132.5 L602.82 132.5 L602.82 132.5 L608.66 132.5 L608.66 132.5 L614.49 132.5 L614.49 132.5 L620.33 132.5 L620.33 132.5 L626.17 132.5 L626.17 135.43 L632 135.43 L632 138.36 L637.84 138.36 L637.84 132.5 L643.68 132.5 L643.68 135.43 L649.51 135.43 L649.51 138.36 L655.35 138.36 L655.35 141.29 L661.19 141.29 L661.19 150.07 L667.03 150.07 L667.03 150.07 L672.86 150.07 L672.86 150.07 L678.7 150.07 L678.7 150.07 L684.54 150.07 L684.54 150.07 L690.37 150.07 L690.37 150.07 L696.21 150.07 L696.21 150.07 L702.05 150.07 L702.05 150.07 L707.88 150.07 L707.88 150.07 L713.72 150.07 L713.72 150.07 L719.56 150.07 L719.56 150.07 L725.4 150.07 L725.4 150.07 L731.23 150.07 L731.23 150.07 L737.07 150.07 L737.07 150.07 L742.91 150.07 L742.91 150.07 L748.74 150.07 L748.74 150.07 L754.58 150.07 L754.58 141.29 L760.42 141.29 L760.42 141.29 L766.25 141.29 L766.25 138.36 L772.09 138.36 L772.09 135.43 L777.93 135.43 L777.93 132.5 L783.77 132.5 L783.77 153 Z" fill="#141414"/>
<text class="cs" text-anchor="middle" x="97.92 103.76 109.59 115.43 121.27 127.1 132.94 138.78 144.61 150.45 156.29 162.13 167.96 173.8 179.64 185.47 191.31 197.15 202.98 208.82 214.66 220.5 226.33 232.17 238.01 243.84 249.68 255.52 261.35 267.19 273.03 278.87 284.7 290.54 296.38 302.21 308.05 313.89 319.72 325.56 331.4 337.24 343.07 348.91 354.75 360.58 366.42 372.26 378.09 383.93 389.77 395.61 401.44 407.28 413.12 418.95 424.79 430.63 436.46 442.3 448.14 453.98 459.81 465.65 471.49 477.32 483.16 489 494.83 500.67 506.51 512.35 518.18 524.02 529.86 535.69 541.53 547.37 553.2 559.04 564.88 570.72 576.55 582.39 588.23 594.06 599.9 605.74 611.57 617.41 623.25 629.09 634.92 640.76 646.6 652.43 658.27 664.11 669.94 675.78 681.62 687.46 693.29 699.13 704.97 710.8 716.64 722.48 728.31 734.15 739.99 745.83 751.66 757.5 763.34 769.17 775.01 780.85" y="159.9">MASGDTLYIATDGSEMPAEIVELHEIEVETIPVETIETTVVGEEEDEDDDDEDGGGGDHGGGGGGHGHAGHHHHHHHHHHHHPPMIALQPLVTDDPTSGAGGGAAGGGGGQLHQVHHH</text>
<text class="nm" x="7.4" y="184.3">Homo sapiens</text>
<text class="nm" x="7.4" y="194.03">Mus musculus</text>
<text class="nm" x="7.4" y="203.76">Rattus norvegicus</text>
<text class="nm" x="7.4" y="213.49">Bos taurus</text>
<text class="nm" x="7.4" y="223.22">Xenopus tropicalis</text>
<text class="nm" x="7.4" y="232.95">Gallus gallus</text>
<text class="nm" x="7.4" y="242.68">Danio rerio</text>
<rect x="95" y="176" width="5.84" height="10.32" fill="#4aad45"/>
<rect x="100.84" y="176" width="5.84" height="10.32" fill="#b856ad"/>
<rect x="106.67" y="176" width="23.35" height="10.32" fill="#a2bfe5"/>
<rect x="130.02" y="176" width="11.67" height="10.32" fill="#4aad45"/>
<rect x="141.7" y="176" width="5.84" height="10.32" fill="#d9452f"/>
<rect x="147.53" y="176" width="11.67" height="10.32" fill="#b856ad"/>
<rect x="159.21" y="176" width="11.67" height="10.32" fill="#a2bfe5"/>
<rect x="170.88" y="176" width="11.67" height="10.32" fill="#e59b5c"/>
<rect x="182.56" y="176" width="11.67" height="10.32" fill="#b856ad"/>
<rect x="194.23" y="176" width="5.84" height="10.32" fill="#4aad45"/>
<rect x="200.07" y="176" width="5.84" height="10.32" fill="#b856ad"/>
<rect x="205.9" y="176" width="5.84" height="10.32" fill="#e59b5c"/>
<rect x="211.74" y="176" width="5.84" height="10.32" fill="#a2bfe5"/>
<rect x="217.58" y="176" width="5.84" height="10.32" fill="#d9452f"/>
<rect x="223.41" y="176" width="5.84" height="10.32" fill="#a2bfe5"/>
<rect x="229.25" y="176" width="11.67" height="10.32" fill="#b856ad"/>
<rect x="240.92" y="176" width="5.84" height="10.32" fill="#e59b5c"/>
<rect x="246.76" y="176" width="5.84" height="10.32" fill="#a2bfe5"/>
<rect x="252.6" y="176" width="11.67" height="10.32" fill="#b856ad"/>
<rect x="264.27" y="176" width="5.84" height="10.32" fill="#4aad45"/>
<rect x="270.11" y="176" width="17.51" height="10.32" fill="#a2bfe5"/>
<rect x="287.62" y="176" width="5.84" height="10.32" fill="#cdd04a"/>
<rect x="293.46" y="176" width="5.84" height="10.32" fill="#a2bfe5"/>
<rect x="299.29" y="176" width="5.84" height="10.32" fill="#cdd04a"/>
<rect x="305.13" y="176" width="5.84" height="10.32" fill="#a2bfe5"/>
<rect x="310.97" y="176" width="5.84" height="10.32" fill="#cdd04a"/>
<rect x="316.81" y="176" width="5.84" height="10.32" fill="#a2bfe5"/>
<rect x="322.64" y="176" width="11.67" height="10.32" fill="#e59b5c"/>
<rect x="334.32" y="176" width="17.51" height="10.32" fill="#b856ad"/>
<rect x="351.83" y="176" width="5.84" height="10.32" fill="#30aaa2"/>
<rect x="357.66" y="176" width="5.84" height="10.32" fill="#a2bfe5"/>
<rect x="363.5" y="176" width="5.84" height="10.32" fill="#b856ad"/>
<rect x="369.34" y="176" width="11.67" height="10.32" fill="#4aad45"/>
<rect x="381.01" y="176" width="11.67" height="10.32" fill="#a2bfe5"/>
<rect x="392.69" y="176" width="5.84" height="10.32" fill="#4aad45"/>
<rect x="398.52" y="176" width="23.35" height="10.32" fill="#a2bfe5"/>
<rect x="421.87" y="176" width="5.84" height="10.32" fill="#e59b5c"/>
<rect x="433.55" y="176" width="5.84" height="10.32" fill="#4aad45"/>
<rect x="439.38" y="176" width="17.51" height="10.32" fill="#e59b5c"/>
<rect x="468.57" y="176" width="5.84" height="10.32" fill="#e59b5c"/>
<rect x="480.24" y="176" width="17.51" height="10.32" fill="#4aad45"/>
<rect x="497.75" y="176" width="17.51" height="10.32" fill="#e59b5c"/>
<rect x="515.26" y="176" width="5.84" height="10.32" fill="#d9452f"/>
<rect x="521.1" y="176" width="5.84" height="10.32" fill="#a2bfe5"/>
<rect x="526.94" y="176" width="11.67" height="10.32" fill="#d9452f"/>
<rect x="538.61" y="176" width="11.67" height="10.32" fill="#e59b5c"/>
<rect x="556.12" y="176" width="5.84" height="10.32" fill="#e59b5c"/>
<rect x="561.96" y="176" width="11.67" height="10.32" fill="#d9452f"/>
<rect x="573.63" y="176" width="5.84" height="10.32" fill="#4aad45"/>
<rect x="579.47" y="176" width="5.84" height="10.32" fill="#e59b5c"/>
<rect x="585.31" y="176" width="11.67" height="10.32" fill="#d9452f"/>
<rect x="596.98" y="176" width="5.84" height="10.32" fill="#4aad45"/>
<rect x="602.82" y="176" width="5.84" height="10.32" fill="#30aaa2"/>
<rect x="608.66" y="176" width="5.84" height="10.32" fill="#a2bfe5"/>
<rect x="620.33" y="176" width="11.67" height="10.32" fill="#e59b5c"/>
<rect x="637.84" y="176" width="5.84" height="10.32" fill="#e59b5c"/>
<rect x="655.35" y="176" width="23.35" height="10.32" fill="#e59b5c"/>
<rect x="684.54" y="176" width="5.84" height="10.32" fill="#b856ad"/>
<rect x="690.37" y="176" width="5.84" height="10.32" fill="#cdd04a"/>
<rect x="696.21" y="176" width="5.84" height="10.32" fill="#e59b5c"/>
<rect x="702.05" y="176" width="5.84" height="10.32" fill="#4aad45"/>
<rect x="707.88" y="176" width="11.67" height="10.32" fill="#d9452f"/>
<rect x="719.56" y="176" width="5.84" height="10.32" fill="#a2bfe5"/>
<rect x="725.4" y="176" width="5.84" height="10.32" fill="#b856ad"/>
<rect x="731.23" y="176" width="5.84" height="10.32" fill="#4aad45"/>
<rect x="737.07" y="176" width="5.84" height="10.32" fill="#d9452f"/>
<rect x="742.91" y="176" width="5.84" height="10.32" fill="#4aad45"/>
<rect x="748.74" y="176" width="5.84" height="10.32" fill="#a2bfe5"/>
<rect x="754.58" y="176" width="5.84" height="10.32" fill="#4aad45"/>
<rect x="760.42" y="176" width="5.84" height="10.32" fill="#a2bfe5"/>
<rect x="766.25" y="176" width="5.84" height="10.32" fill="#d9452f"/>
<rect x="772.09" y="176" width="5.84" height="10.32" fill="#4aad45"/>
<rect x="777.93" y="176" width="5.84" height="10.32" fill="#a2bfe5"/>
<rect x="95" y="185.62" width="5.84" height="10.32" fill="#4aad45"/>
<rect x="100.84" y="185.62" width="5.84" height="10.32" fill="#b856ad"/>
<rect x="106.67" y="185.62" width="23.35" height="10.32" fill="#a2bfe5"/>
<rect x="130.02" y="185.62" width="11.67" height="10.32" fill="#4aad45"/>
<rect x="141.7" y="185.62" width="5.84" height="10.32" fill="#d9452f"/>
<rect x="147.53" y="185.62" width="11.67" height="10.32" fill="#b856ad"/>
<rect x="159.21" y="185.62" width="11.67" height="10.32" fill="#a2bfe5"/>
<rect x="170.88" y="185.62" width="11.67" height="10.32" fill="#e59b5c"/>
<rect x="182.56" y="185.62" width="11.67" height="10.32" fill="#b856ad"/>
<rect x="194.23" y="185.62" width="5.84" height="10.32" fill="#4aad45"/>
<rect x="200.07" y="185.62" width="5.84" height="10.32" fill="#b856ad"/>
<rect x="205.9" y="185.62" width="5.84" height="10.32" fill="#e59b5c"/>
<rect x="211.74" y="185.62" width="5.84" height="10.32" fill="#a2bfe5"/>
<rect x="217.58" y="185.62" width="5.84" height="10.32" fill="#d9452f"/>
<rect x="223.41" y="185.62" width="5.84" height="10.32" fill="#a2bfe5"/>
<rect x="229.25" y="185.62" width="11.67" height="10.32" fill="#b856ad"/>
<rect x="240.92" y="185.62" width="5.84" height="10.32" fill="#e59b5c"/>
<rect x="246.76" y="185.62" width="5.84" height="10.32" fill="#a2bfe5"/>
<rect x="252.6" y="185.62" width="11.67" height="10.32" fill="#b856ad"/>
<rect x="264.27" y="185.62" width="5.84" height="10.32" fill="#4aad45"/>
<rect x="270.11" y="185.62" width="17.51" height="10.32" fill="#a2bfe5"/>
<rect x="287.62" y="185.62" width="5.84" height="10.32" fill="#cdd04a"/>
<rect x="293.46" y="185.62" width="5.84" height="10.32" fill="#a2bfe5"/>
<rect x="299.29" y="185.62" width="5.84" height="10.32" fill="#cdd04a"/>
<rect x="305.13" y="185.62" width="5.84" height="10.32" fill="#a2bfe5"/>
<rect x="310.97" y="185.62" width="5.84" height="10.32" fill="#cdd04a"/>
<rect x="316.81" y="185.62" width="5.84" height="10.32" fill="#a2bfe5"/>
<rect x="322.64" y="185.62" width="11.67" height="10.32" fill="#e59b5c"/>
<rect x="334.32" y="185.62" width="17.51" height="10.32" fill="#b856ad"/>
<rect x="351.83" y="185.62" width="5.84" height="10.32" fill="#30aaa2"/>
<rect x="357.66" y="185.62" width="5.84" height="10.32" fill="#a2bfe5"/>
<rect x="363.5" y="185.62" width="5.84" height="10.32" fill="#b856ad"/>
<rect x="369.34" y="185.62" width="11.67" height="10.32" fill="#4aad45"/>
<rect x="381.01" y="185.62" width="11.67" height="10.32" fill="#a2bfe5"/>
<rect x="392.69" y="185.62" width="5.84" height="10.32" fill="#4aad45"/>
<rect x="398.52" y="185.62" width="23.35" height="10.32" fill="#a2bfe5"/>
<rect x="421.87" y="185.62" width="5.84" height="10.32" fill="#e59b5c"/>
<rect x="433.55" y="185.62" width="5.84" height="10.32" fill="#4aad45"/>
<rect x="439.38" y="185.62" width="17.51" height="10.32" fill="#e59b5c"/>
<rect x="486.08" y="185.62" width="11.67" height="10.32" fill="#4aad45"/>
<rect x="497.75" y="185.62" width="17.51" height="10.32" fill="#e59b5c"/>
<rect x="515.26" y="185.62" width="5.84" height="10.32" fill="#d9452f"/>
<rect x="521.1" y="185.62" width="5.84" height="10.32" fill="#a2bfe5"/>
<rect x="526.94" y="185.62" width="11.67" height="10.32" fill="#d9452f"/>
<rect x="538.61" y="185.62" width="11.67" height="10.32" fill="#e59b5c"/>
<rect x="556.12" y="185.62" width="5.84" height="10.32" fill="#e59b5c"/>
<rect x="561.96" y="185.62" width="11.67" height="10.32" fill="#d9452f"/>
<rect x="573.63" y="185.62" width="5.84" height="10.32" fill="#4aad45"/>
<rect x="579.47" y="185.62" width="5.84" height="10.32" fill="#e59b5c"/>
<rect x="585.31" y="185.62" width="11.67" height="10.32" fill="#d9452f"/>
<rect x="596.98" y="185.62" width="5.84" height="10.32" fill="#4aad45"/>
<rect x="602.82" y="185.62" width="5.84" height="10.32" fill="#30aaa2"/>
<rect x="608.66" y="185.62" width="5.84" height="10.32" fill="#a2bfe5"/>
<rect x="614.49" y="185.62" width="17.51" height="10.32" fill="#e59b5c"/>
<rect x="637.84" y="185.62" width="5.84" height="10.32" fill="#e59b5c"/>
<rect x="655.35" y="185.62" width="23.35" height="10.32" fill="#e59b5c"/>
<rect x="684.54" y="185.62" width="5.84" height="10.32" fill="#b856ad"/>
<rect x="690.37" y="185.62" width="5.84" height="10.32" fill="#cdd04a"/>
<rect x="696.21" y="185.62" width="5.84" height="10.32" fill="#e59b5c"/>
<rect x="702.05" y="185.62" width="5.84" height="10.32" fill="#4aad45"/>
<rect x="707.88" y="185.62" width="11.67" height="10.32" fill="#d9452f"/>
<rect x="719.56" y="185.62" width="5.84" height="10.32" fill="#a2bfe5"/>
<rect x="725.4" y="185.62" width="5.84" height="10.32" fill="#b856ad"/>
<rect x="731.23" y="185.62" width="5.84" height="10.32" fill="#4aad45"/>
<rect x="737.07" y="185.62" width="5.84" height="10.32" fill="#d9452f"/>
<rect x="742.91" y="185.62" width="5.84" height="10.32" fill="#4aad45"/>
<rect x="748.74" y="185.62" width="5.84" height="10.32" fill="#a2bfe5"/>
<rect x="754.58" y="185.62" width="5.84" height="10.32" fill="#4aad45"/>
<rect x="760.42" y="185.62" width="5.84" height="10.32" fill="#a2bfe5"/>
<rect x="766.25" y="185.62" width="5.84" height="10.32" fill="#d9452f"/>
<rect x="772.09" y="185.62" width="5.84" height="10.32" fill="#4aad45"/>
<rect x="777.93" y="185.62" width="5.84" height="10.32" fill="#a2bfe5"/>
<rect x="95" y="195.24" width="5.84" height="10.32" fill="#4aad45"/>
<rect x="100.84" y="195.24" width="5.84" height="10.32" fill="#b856ad"/>
<rect x="106.67" y="195.24" width="23.35" height="10.32" fill="#a2bfe5"/>
<rect x="130.02" y="195.24" width="11.67" height="10.32" fill="#4aad45"/>
<rect x="141.7" y="195.24" width="5.84" height="10.32" fill="#d9452f"/>
<rect x="147.53" y="195.24" width="11.67" height="10.32" fill="#b856ad"/>
<rect x="159.21" y="195.24" width="11.67" height="10.32" fill="#a2bfe5"/>
<rect x="170.88" y="195.24" width="11.67" height="10.32" fill="#e59b5c"/>
<rect x="182.56" y="195.24" width="11.67" height="10.32" fill="#b856ad"/>
<rect x="194.23" y="195.24" width="5.84" height="10.32" fill="#4aad45"/>
<rect x="200.07" y="195.24" width="5.84" height="10.32" fill="#b856ad"/>
<rect x="205.9" y="195.24" width="5.84" height="10.32" fill="#e59b5c"/>
<rect x="211.74" y="195.24" width="5.84" height="10.32" fill="#a2bfe5"/>
<rect x="217.58" y="195.24" width="5.84" height="10.32" fill="#d9452f"/>
<rect x="223.41" y="195.24" width="5.84" height="10.32" fill="#a2bfe5"/>
<rect x="229.25" y="195.24" width="11.67" height="10.32" fill="#b856ad"/>
<rect x="240.92" y="195.24" width="5.84" height="10.32" fill="#e59b5c"/>
<rect x="246.76" y="195.24" width="5.84" height="10.32" fill="#a2bfe5"/>
<rect x="252.6" y="195.24" width="11.67" height="10.32" fill="#b856ad"/>
<rect x="264.27" y="195.24" width="5.84" height="10.32" fill="#4aad45"/>
<rect x="270.11" y="195.24" width="17.51" height="10.32" fill="#a2bfe5"/>
<rect x="287.62" y="195.24" width="5.84" height="10.32" fill="#cdd04a"/>
<rect x="293.46" y="195.24" width="5.84" height="10.32" fill="#a2bfe5"/>
<rect x="299.29" y="195.24" width="5.84" height="10.32" fill="#cdd04a"/>
<rect x="305.13" y="195.24" width="5.84" height="10.32" fill="#a2bfe5"/>
<rect x="310.97" y="195.24" width="5.84" height="10.32" fill="#cdd04a"/>
<rect x="316.81" y="195.24" width="5.84" height="10.32" fill="#a2bfe5"/>
<rect x="322.64" y="195.24" width="11.67" height="10.32" fill="#e59b5c"/>
<rect x="334.32" y="195.24" width="17.51" height="10.32" fill="#b856ad"/>
<rect x="351.83" y="195.24" width="5.84" height="10.32" fill="#30aaa2"/>
<rect x="357.66" y="195.24" width="5.84" height="10.32" fill="#a2bfe5"/>
<rect x="363.5" y="195.24" width="5.84" height="10.32" fill="#b856ad"/>
<rect x="369.34" y="195.24" width="11.67" height="10.32" fill="#4aad45"/>
<rect x="381.01" y="195.24" width="11.67" height="10.32" fill="#a2bfe5"/>
<rect x="392.69" y="195.24" width="5.84" height="10.32" fill="#4aad45"/>
<rect x="398.52" y="195.24" width="23.35" height="10.32" fill="#a2bfe5"/>
<rect x="421.87" y="195.24" width="5.84" height="10.32" fill="#e59b5c"/>
<rect x="433.55" y="195.24" width="5.84" height="10.32" fill="#4aad45"/>
<rect x="439.38" y="195.24" width="17.51" height="10.32" fill="#e59b5c"/>
<rect x="480.24" y="195.24" width="17.51" height="10.32" fill="#4aad45"/>
<rect x="497.75" y="195.24" width="17.51" height="10.32" fill="#e59b5c"/>
<rect x="515.26" y="195.24" width="5.84" height="10.32" fill="#d9452f"/>
<rect x="521.1" y="195.24" width="5.84" height="10.32" fill="#a2bfe5"/>
<rect x="526.94" y="195.24" width="11.67" height="10.32" fill="#d9452f"/>
<rect x="538.61" y="195.24" width="11.67" height="10.32" fill="#e59b5c"/>
<rect x="556.12" y="195.24" width="5.84" height="10.32" fill="#e59b5c"/>
<rect x="561.96" y="195.24" width="11.67" height="10.32" fill="#d9452f"/>
<rect x="573.63" y="195.24" width="5.84" height="10.32" fill="#4aad45"/>
<rect x="579.47" y="195.24" width="5.84" height="10.32" fill="#e59b5c"/>
<rect x="585.31" y="195.24" width="11.67" height="10.32" fill="#d9452f"/>
<rect x="596.98" y="195.24" width="5.84" height="10.32" fill="#4aad45"/>
<rect x="602.82" y="195.24" width="5.84" height="10.32" fill="#30aaa2"/>
<rect x="608.66" y="195.24" width="5.84" height="10.32" fill="#a2bfe5"/>
<rect x="614.49" y="195.24" width="5.84" height="10.32" fill="#e59b5c"/>
<rect x="626.17" y="195.24" width="5.84" height="10.32" fill="#e59b5c"/>
<rect x="637.84" y="195.24" width="5.84" height="10.32" fill="#e59b5c"/>
<rect x="655.35" y="195.24" width="23.35" height="10.32" fill="#e59b5c"/>
<rect x="684.54" y="195.24" width="5.84" height="10.32" fill="#b856ad"/>
<rect x="690.37" y="195.24" width="5.84" height="10.32" fill="#cdd04a"/>
<rect x="696.21" y="195.24" width="5.84" height="10.32" fill="#e59b5c"/>
<rect x="702.05" y="195.24" width="5.84" height="10.32" fill="#4aad45"/>
<rect x="707.88" y="195.24" width="11.67" height="10.32" fill="#d9452f"/>
<rect x="719.56" y="195.24" width="5.84" height="10.32" fill="#a2bfe5"/>
<rect x="725.4" y="195.24" width="5.84" height="10.32" fill="#b856ad"/>
<rect x="731.23" y="195.24" width="5.84" height="10.32" fill="#4aad45"/>
<rect x="737.07" y="195.24" width="5.84" height="10.32" fill="#d9452f"/>
<rect x="742.91" y="195.24" width="5.84" height="10.32" fill="#4aad45"/>
<rect x="748.74" y="195.24" width="5.84" height="10.32" fill="#a2bfe5"/>
<rect x="754.58" y="195.24" width="5.84" height="10.32" fill="#4aad45"/>
<rect x="760.42" y="195.24" width="5.84" height="10.32" fill="#a2bfe5"/>
<rect x="766.25" y="195.24" width="5.84" height="10.32" fill="#d9452f"/>
<rect x="772.09" y="195.24" width="5.84" height="10.32" fill="#4aad45"/>
<rect x="777.93" y="195.24" width="5.84" height="10.32" fill="#a2bfe5"/>
<rect x="95" y="204.86" width="5.84" height="10.32" fill="#4aad45"/>
<rect x="100.84" y="204.86" width="5.84" height="10.32" fill="#b856ad"/>
<rect x="106.67" y="204.86" width="23.35" height="10.32" fill="#a2bfe5"/>
<rect x="130.02" y="204.86" width="11.67" height="10.32" fill="#4aad45"/>
<rect x="141.7" y="204.86" width="5.84" height="10.32" fill="#d9452f"/>
<rect x="147.53" y="204.86" width="11.67" height="10.32" fill="#b856ad"/>
<rect x="159.21" y="204.86" width="11.67" height="10.32" fill="#a2bfe5"/>
<rect x="170.88" y="204.86" width="11.67" height="10.32" fill="#e59b5c"/>
<rect x="182.56" y="204.86" width="11.67" height="10.32" fill="#b856ad"/>
<rect x="194.23" y="204.86" width="5.84" height="10.32" fill="#4aad45"/>
<rect x="200.07" y="204.86" width="5.84" height="10.32" fill="#b856ad"/>
<rect x="205.9" y="204.86" width="5.84" height="10.32" fill="#e59b5c"/>
<rect x="211.74" y="204.86" width="5.84" height="10.32" fill="#a2bfe5"/>
<rect x="217.58" y="204.86" width="5.84" height="10.32" fill="#d9452f"/>
<rect x="223.41" y="204.86" width="5.84" height="10.32" fill="#a2bfe5"/>
<rect x="229.25" y="204.86" width="11.67" height="10.32" fill="#b856ad"/>
<rect x="240.92" y="204.86" width="5.84" height="10.32" fill="#e59b5c"/>
<rect x="246.76" y="204.86" width="5.84" height="10.32" fill="#a2bfe5"/>
<rect x="252.6" y="204.86" width="11.67" height="10.32" fill="#b856ad"/>
<rect x="264.27" y="204.86" width="5.84" height="10.32" fill="#4aad45"/>
<rect x="270.11" y="204.86" width="17.51" height="10.32" fill="#a2bfe5"/>
<rect x="287.62" y="204.86" width="5.84" height="10.32" fill="#cdd04a"/>
<rect x="293.46" y="204.86" width="5.84" height="10.32" fill="#a2bfe5"/>
<rect x="299.29" y="204.86" width="5.84" height="10.32" fill="#cdd04a"/>
<rect x="305.13" y="204.86" width="5.84" height="10.32" fill="#a2bfe5"/>
<rect x="310.97" y="204.86" width="5.84" height="10.32" fill="#cdd04a"/>
<rect x="316.81" y="204.86" width="5.84" height="10.32" fill="#a2bfe5"/>
<rect x="322.64" y="204.86" width="11.67" height="10.32" fill="#e59b5c"/>
<rect x="334.32" y="204.86" width="17.51" height="10.32" fill="#b856ad"/>
<rect x="351.83" y="204.86" width="5.84" height="10.32" fill="#30aaa2"/>
<rect x="357.66" y="204.86" width="5.84" height="10.32" fill="#a2bfe5"/>
<rect x="363.5" y="204.86" width="5.84" height="10.32" fill="#b856ad"/>
<rect x="369.34" y="204.86" width="11.67" height="10.32" fill="#4aad45"/>
<rect x="381.01" y="204.86" width="11.67" height="10.32" fill="#a2bfe5"/>
<rect x="392.69" y="204.86" width="5.84" height="10.32" fill="#4aad45"/>
<rect x="398.52" y="204.86" width="23.35" height="10.32" fill="#a2bfe5"/>
<rect x="421.87" y="204.86" width="5.84" height="10.32" fill="#e59b5c"/>
<rect x="433.55" y="204.86" width="5.84" height="10.32" fill="#4aad45"/>
<rect x="439.38" y="204.86" width="35.02" height="10.32" fill="#e59b5c"/>
<rect x="480.24" y="204.86" width="17.51" height="10.32" fill="#4aad45"/>
<rect x="497.75" y="204.86" width="17.51" height="10.32" fill="#e59b5c"/>
<rect x="515.26" y="204.86" width="5.84" height="10.32" fill="#d9452f"/>
<rect x="521.1" y="204.86" width="5.84" height="10.32" fill="#a2bfe5"/>
<rect x="526.94" y="204.86" width="11.67" height="10.32" fill="#d9452f"/>
<rect x="538.61" y="204.86" width="11.67" height="10.32" fill="#e59b5c"/>
<rect x="556.12" y="204.86" width="5.84" height="10.32" fill="#e59b5c"/>
<rect x="561.96" y="204.86" width="11.67" height="10.32" fill="#d9452f"/>
<rect x="573.63" y="204.86" width="5.84" height="10.32" fill="#4aad45"/>
<rect x="579.47" y="204.86" width="5.84" height="10.32" fill="#e59b5c"/>
<rect x="585.31" y="204.86" width="11.67" height="10.32" fill="#d9452f"/>
<rect x="596.98" y="204.86" width="5.84" height="10.32" fill="#e59b5c"/>
<rect x="602.82" y="204.86" width="5.84" height="10.32" fill="#30aaa2"/>
<rect x="608.66" y="204.86" width="5.84" height="10.32" fill="#a2bfe5"/>
<rect x="614.49" y="204.86" width="17.51" height="10.32" fill="#e59b5c"/>
<rect x="637.84" y="204.86" width="5.84" height="10.32" fill="#e59b5c"/>
<rect x="655.35" y="204.86" width="5.84" height="10.32" fill="#e59b5c"/>
<rect x="672.86" y="204.86" width="5.84" height="10.32" fill="#e59b5c"/>
<rect x="684.54" y="204.86" width="5.84" height="10.32" fill="#b856ad"/>
<rect x="690.37" y="204.86" width="5.84" height="10.32" fill="#a2bfe5"/>
<rect x="696.21" y="204.86" width="5.84" height="10.32" fill="#e59b5c"/>
<rect x="702.05" y="204.86" width="5.84" height="10.32" fill="#4aad45"/>
<rect x="707.88" y="204.86" width="11.67" height="10.32" fill="#d9452f"/>
<rect x="719.56" y="204.86" width="5.84" height="10.32" fill="#a2bfe5"/>
<rect x="725.4" y="204.86" width="5.84" height="10.32" fill="#b856ad"/>
<rect x="731.23" y="204.86" width="5.84" height="10.32" fill="#4aad45"/>
<rect x="737.07" y="204.86" width="5.84" height="10.32" fill="#d9452f"/>
<rect x="742.91" y="204.86" width="5.84" height="10.32" fill="#4aad45"/>
<rect x="748.74" y="204.86" width="5.84" height="10.32" fill="#a2bfe5"/>
<rect x="754.58" y="204.86" width="5.84" height="10.32" fill="#4aad45"/>
<rect x="760.42" y="204.86" width="5.84" height="10.32" fill="#a2bfe5"/>
<rect x="766.25" y="204.86" width="5.84" height="10.32" fill="#d9452f"/>
<rect x="772.09" y="204.86" width="5.84" height="10.32" fill="#4aad45"/>
<rect x="777.93" y="204.86" width="5.84" height="10.32" fill="#a2bfe5"/>
<rect x="95" y="214.48" width="5.84" height="10.32" fill="#4aad45"/>
<rect x="100.84" y="214.48" width="5.84" height="10.32" fill="#b856ad"/>
<rect x="106.67" y="214.48" width="23.35" height="10.32" fill="#a2bfe5"/>
<rect x="130.02" y="214.48" width="11.67" height="10.32" fill="#4aad45"/>
<rect x="141.7" y="214.48" width="5.84" height="10.32" fill="#d9452f"/>
<rect x="147.53" y="214.48" width="11.67" height="10.32" fill="#b856ad"/>
<rect x="159.21" y="214.48" width="11.67" height="10.32" fill="#a2bfe5"/>
<rect x="170.88" y="214.48" width="11.67" height="10.32" fill="#e59b5c"/>
<rect x="182.56" y="214.48" width="11.67" height="10.32" fill="#b856ad"/>
<rect x="194.23" y="214.48" width="5.84" height="10.32" fill="#4aad45"/>
<rect x="200.07" y="214.48" width="5.84" height="10.32" fill="#b856ad"/>
<rect x="211.74" y="214.48" width="5.84" height="10.32" fill="#a2bfe5"/>
<rect x="217.58" y="214.48" width="5.84" height="10.32" fill="#d9452f"/>
<rect x="223.41" y="214.48" width="5.84" height="10.32" fill="#a2bfe5"/>
<rect x="229.25" y="214.48" width="11.67" height="10.32" fill="#b856ad"/>
<rect x="240.92" y="214.48" width="5.84" height="10.32" fill="#e59b5c"/>
<rect x="246.76" y="214.48" width="5.84" height="10.32" fill="#a2bfe5"/>
<rect x="252.6" y="214.48" width="11.67" height="10.32" fill="#b856ad"/>
<rect x="264.27" y="214.48" width="5.84" height="10.32" fill="#4aad45"/>
<rect x="270.11" y="214.48" width="17.51" height="10.32" fill="#a2bfe5"/>
<rect x="287.62" y="214.48" width="5.84" height="10.32" fill="#cdd04a"/>
<rect x="293.46" y="214.48" width="5.84" height="10.32" fill="#a2bfe5"/>
<rect x="299.29" y="214.48" width="5.84" height="10.32" fill="#cdd04a"/>
<rect x="305.13" y="214.48" width="5.84" height="10.32" fill="#a2bfe5"/>
<rect x="310.97" y="214.48" width="5.84" height="10.32" fill="#cdd04a"/>
<rect x="316.81" y="214.48" width="5.84" height="10.32" fill="#a2bfe5"/>
<rect x="322.64" y="214.48" width="5.84" height="10.32" fill="#e59b5c"/>
<rect x="334.32" y="214.48" width="17.51" height="10.32" fill="#b856ad"/>
<rect x="351.83" y="214.48" width="5.84" height="10.32" fill="#30aaa2"/>
<rect x="357.66" y="214.48" width="5.84" height="10.32" fill="#a2bfe5"/>
<rect x="363.5" y="214.48" width="5.84" height="10.32" fill="#b856ad"/>
<rect x="369.34" y="214.48" width="11.67" height="10.32" fill="#4aad45"/>
<rect x="381.01" y="214.48" width="11.67" height="10.32" fill="#a2bfe5"/>
<rect x="392.69" y="214.48" width="5.84" height="10.32" fill="#4aad45"/>
<rect x="398.52" y="214.48" width="11.67" height="10.32" fill="#a2bfe5"/>
<rect x="410.2" y="214.48" width="5.84" height="10.32" fill="#e59b5c"/>
<rect x="491.92" y="214.48" width="11.67" height="10.32" fill="#e59b5c"/>
<rect x="515.26" y="214.48" width="5.84" height="10.32" fill="#d9452f"/>
<rect x="526.94" y="214.48" width="23.35" height="10.32" fill="#e59b5c"/>
<rect x="556.12" y="214.48" width="5.84" height="10.32" fill="#e59b5c"/>
<rect x="561.96" y="214.48" width="11.67" height="10.32" fill="#d9452f"/>
<rect x="573.63" y="214.48" width="5.84" height="10.32" fill="#4aad45"/>
<rect x="585.31" y="214.48" width="11.67" height="10.32" fill="#d9452f"/>
<rect x="596.98" y="214.48" width="5.84" height="10.32" fill="#4aad45"/>
<rect x="602.82" y="214.48" width="5.84" height="10.32" fill="#30aaa2"/>
<rect x="608.66" y="214.48" width="5.84" height="10.32" fill="#a2bfe5"/>
<rect x="620.33" y="214.48" width="5.84" height="10.32" fill="#e59b5c"/>
<rect x="690.37" y="214.48" width="5.84" height="10.32" fill="#cdd04a"/>
<rect x="702.05" y="214.48" width="5.84" height="10.32" fill="#e59b5c"/>
<rect x="707.88" y="214.48" width="11.67" height="10.32" fill="#d9452f"/>
<rect x="719.56" y="214.48" width="5.84" height="10.32" fill="#a2bfe5"/>
<rect x="725.4" y="214.48" width="5.84" height="10.32" fill="#b856ad"/>
<rect x="731.23" y="214.48" width="5.84" height="10.32" fill="#4aad45"/>
<rect x="737.07" y="214.48" width="5.84" height="10.32" fill="#d9452f"/>
<rect x="742.91" y="214.48" width="5.84" height="10.32" fill="#4aad45"/>
<rect x="748.74" y="214.48" width="5.84" height="10.32" fill="#a2bfe5"/>
<rect x="754.58" y="214.48" width="5.84" height="10.32" fill="#4aad45"/>
<rect x="760.42" y="214.48" width="5.84" height="10.32" fill="#a2bfe5"/>
<rect x="766.25" y="214.48" width="5.84" height="10.32" fill="#d9452f"/>
<rect x="772.09" y="214.48" width="5.84" height="10.32" fill="#4aad45"/>
<rect x="777.93" y="214.48" width="5.84" height="10.32" fill="#a2bfe5"/>
<rect x="95" y="224.1" width="5.84" height="10.32" fill="#4aad45"/>
<rect x="100.84" y="224.1" width="5.84" height="10.32" fill="#b856ad"/>
<rect x="106.67" y="224.1" width="23.35" height="10.32" fill="#a2bfe5"/>
<rect x="130.02" y="224.1" width="11.67" height="10.32" fill="#4aad45"/>
<rect x="141.7" y="224.1" width="5.84" height="10.32" fill="#d9452f"/>
<rect x="147.53" y="224.1" width="11.67" height="10.32" fill="#b856ad"/>
<rect x="159.21" y="224.1" width="11.67" height="10.32" fill="#a2bfe5"/>
<rect x="170.88" y="224.1" width="11.67" height="10.32" fill="#e59b5c"/>
<rect x="182.56" y="224.1" width="11.67" height="10.32" fill="#b856ad"/>
<rect x="194.23" y="224.1" width="5.84" height="10.32" fill="#4aad45"/>
<rect x="200.07" y="224.1" width="5.84" height="10.32" fill="#b856ad"/>
<rect x="205.9" y="224.1" width="5.84" height="10.32" fill="#e59b5c"/>
<rect x="211.74" y="224.1" width="5.84" height="10.32" fill="#a2bfe5"/>
<rect x="217.58" y="224.1" width="5.84" height="10.32" fill="#d9452f"/>
<rect x="223.41" y="224.1" width="5.84" height="10.32" fill="#a2bfe5"/>
<rect x="229.25" y="224.1" width="11.67" height="10.32" fill="#b856ad"/>
<rect x="240.92" y="224.1" width="5.84" height="10.32" fill="#e59b5c"/>
<rect x="246.76" y="224.1" width="5.84" height="10.32" fill="#a2bfe5"/>
<rect x="252.6" y="224.1" width="11.67" height="10.32" fill="#b856ad"/>
<rect x="264.27" y="224.1" width="5.84" height="10.32" fill="#4aad45"/>
<rect x="270.11" y="224.1" width="17.51" height="10.32" fill="#a2bfe5"/>
<rect x="287.62" y="224.1" width="5.84" height="10.32" fill="#cdd04a"/>
<rect x="293.46" y="224.1" width="5.84" height="10.32" fill="#a2bfe5"/>
<rect x="299.29" y="224.1" width="5.84" height="10.32" fill="#cdd04a"/>
<rect x="305.13" y="224.1" width="5.84" height="10.32" fill="#a2bfe5"/>
<rect x="310.97" y="224.1" width="5.84" height="10.32" fill="#cdd04a"/>
<rect x="316.81" y="224.1" width="5.84" height="10.32" fill="#a2bfe5"/>
<rect x="322.64" y="224.1" width="5.84" height="10.32" fill="#e59b5c"/>
<rect x="334.32" y="224.1" width="17.51" height="10.32" fill="#b856ad"/>
<rect x="351.83" y="224.1" width="5.84" height="10.32" fill="#30aaa2"/>
<rect x="357.66" y="224.1" width="5.84" height="10.32" fill="#a2bfe5"/>
<rect x="363.5" y="224.1" width="5.84" height="10.32" fill="#b856ad"/>
<rect x="369.34" y="224.1" width="11.67" height="10.32" fill="#4aad45"/>
<rect x="381.01" y="224.1" width="11.67" height="10.32" fill="#a2bfe5"/>
<rect x="392.69" y="224.1" width="5.84" height="10.32" fill="#4aad45"/>
<rect x="398.52" y="224.1" width="23.35" height="10.32" fill="#a2bfe5"/>
<rect x="421.87" y="224.1" width="5.84" height="10.32" fill="#e59b5c"/>
<rect x="445.22" y="224.1" width="23.35" height="10.32" fill="#e59b5c"/>
<rect x="480.24" y="224.1" width="5.84" height="10.32" fill="#4aad45"/>
<rect x="491.92" y="224.1" width="23.35" height="10.32" fill="#e59b5c"/>
<rect x="515.26" y="224.1" width="5.84" height="10.32" fill="#d9452f"/>
<rect x="521.1" y="224.1" width="5.84" height="10.32" fill="#a2bfe5"/>
<rect x="526.94" y="224.1" width="11.67" height="10.32" fill="#d9452f"/>
<rect x="538.61" y="224.1" width="11.67" height="10.32" fill="#e59b5c"/>
<rect x="556.12" y="224.1" width="5.84" height="10.32" fill="#e59b5c"/>
<rect x="561.96" y="224.1" width="11.67" height="10.32" fill="#d9452f"/>
<rect x="573.63" y="224.1" width="5.84" height="10.32" fill="#4aad45"/>
<rect x="585.31" y="224.1" width="11.67" height="10.32" fill="#d9452f"/>
<rect x="596.98" y="224.1" width="5.84" height="10.32" fill="#4aad45"/>
<rect x="602.82" y="224.1" width="5.84" height="10.32" fill="#30aaa2"/>
<rect x="608.66" y="224.1" width="5.84" height="10.32" fill="#a2bfe5"/>
<rect x="620.33" y="224.1" width="23.35" height="10.32" fill="#e59b5c"/>
<rect x="661.19" y="224.1" width="11.67" height="10.32" fill="#e59b5c"/>
<rect x="684.54" y="224.1" width="23.35" height="10.32" fill="#e59b5c"/>
<rect x="707.88" y="224.1" width="11.67" height="10.32" fill="#d9452f"/>
<rect x="719.56" y="224.1" width="5.84" height="10.32" fill="#a2bfe5"/>
<rect x="725.4" y="224.1" width="5.84" height="10.32" fill="#b856ad"/>
<rect x="731.23" y="224.1" width="5.84" height="10.32" fill="#4aad45"/>
<rect x="737.07" y="224.1" width="5.84" height="10.32" fill="#d9452f"/>
<rect x="742.91" y="224.1" width="5.84" height="10.32" fill="#4aad45"/>
<rect x="748.74" y="224.1" width="5.84" height="10.32" fill="#a2bfe5"/>
<rect x="754.58" y="224.1" width="5.84" height="10.32" fill="#4aad45"/>
<rect x="760.42" y="224.1" width="5.84" height="10.32" fill="#a2bfe5"/>
<rect x="766.25" y="224.1" width="5.84" height="10.32" fill="#d9452f"/>
<rect x="772.09" y="224.1" width="5.84" height="10.32" fill="#4aad45"/>
<rect x="777.93" y="224.1" width="5.84" height="10.32" fill="#a2bfe5"/>
<rect x="95" y="233.72" width="5.84" height="9.67" fill="#4aad45"/>
<rect x="100.84" y="233.72" width="5.84" height="9.67" fill="#b856ad"/>
<rect x="106.67" y="233.72" width="23.35" height="9.67" fill="#a2bfe5"/>
<rect x="130.02" y="233.72" width="11.67" height="9.67" fill="#4aad45"/>
<rect x="141.7" y="233.72" width="5.84" height="9.67" fill="#d9452f"/>
<rect x="147.53" y="233.72" width="11.67" height="9.67" fill="#b856ad"/>
<rect x="159.21" y="233.72" width="11.67" height="9.67" fill="#a2bfe5"/>
<rect x="170.88" y="233.72" width="5.84" height="9.67" fill="#e59b5c"/>
<rect x="182.56" y="233.72" width="11.67" height="9.67" fill="#b856ad"/>
<rect x="194.23" y="233.72" width="5.84" height="9.67" fill="#4aad45"/>
<rect x="200.07" y="233.72" width="5.84" height="9.67" fill="#b856ad"/>
<rect x="211.74" y="233.72" width="5.84" height="9.67" fill="#a2bfe5"/>
<rect x="223.41" y="233.72" width="5.84" height="9.67" fill="#a2bfe5"/>
<rect x="229.25" y="233.72" width="11.67" height="9.67" fill="#b856ad"/>
<rect x="246.76" y="233.72" width="5.84" height="9.67" fill="#a2bfe5"/>
<rect x="252.6" y="233.72" width="11.67" height="9.67" fill="#b856ad"/>
<rect x="264.27" y="233.72" width="5.84" height="9.67" fill="#4aad45"/>
<rect x="270.11" y="233.72" width="17.51" height="9.67" fill="#a2bfe5"/>
<rect x="287.62" y="233.72" width="5.84" height="9.67" fill="#cdd04a"/>
<rect x="293.46" y="233.72" width="5.84" height="9.67" fill="#a2bfe5"/>
<rect x="299.29" y="233.72" width="5.84" height="9.67" fill="#cdd04a"/>
<rect x="305.13" y="233.72" width="5.84" height="9.67" fill="#a2bfe5"/>
<rect x="310.97" y="233.72" width="5.84" height="9.67" fill="#cdd04a"/>
<rect x="316.81" y="233.72" width="5.84" height="9.67" fill="#a2bfe5"/>
<rect x="334.32" y="233.72" width="17.51" height="9.67" fill="#b856ad"/>
<rect x="351.83" y="233.72" width="5.84" height="9.67" fill="#30aaa2"/>
<rect x="357.66" y="233.72" width="5.84" height="9.67" fill="#a2bfe5"/>
<rect x="363.5" y="233.72" width="5.84" height="9.67" fill="#b856ad"/>
<rect x="369.34" y="233.72" width="11.67" height="9.67" fill="#4aad45"/>
<rect x="381.01" y="233.72" width="11.67" height="9.67" fill="#a2bfe5"/>
<rect x="392.69" y="233.72" width="5.84" height="9.67" fill="#4aad45"/>
<rect x="398.52" y="233.72" width="5.84" height="9.67" fill="#a2bfe5"/>
<rect x="404.36" y="233.72" width="5.84" height="9.67" fill="#4aad45"/>
<rect x="410.2" y="233.72" width="5.84" height="9.67" fill="#e59b5c"/>
<rect x="427.71" y="233.72" width="5.84" height="9.67" fill="#cdd04a"/>
<rect x="491.92" y="233.72" width="5.84" height="9.67" fill="#4aad45"/>
<rect x="497.75" y="233.72" width="5.84" height="9.67" fill="#e59b5c"/>
<rect x="515.26" y="233.72" width="5.84" height="9.67" fill="#d9452f"/>
<rect x="526.94" y="233.72" width="11.67" height="9.67" fill="#e59b5c"/>
<rect x="544.45" y="233.72" width="5.84" height="9.67" fill="#e59b5c"/>
<rect x="556.12" y="233.72" width="5.84" height="9.67" fill="#e59b5c"/>
<rect x="561.96" y="233.72" width="11.67" height="9.67" fill="#d9452f"/>
<rect x="585.31" y="233.72" width="11.67" height="9.67" fill="#d9452f"/>
<rect x="596.98" y="233.72" width="5.84" height="9.67" fill="#4aad45"/>
<rect x="602.82" y="233.72" width="11.67" height="9.67" fill="#a2bfe5"/>
<rect x="690.37" y="233.72" width="5.84" height="9.67" fill="#a2bfe5"/>
<rect x="702.05" y="233.72" width="5.84" height="9.67" fill="#e59b5c"/>
<rect x="707.88" y="233.72" width="11.67" height="9.67" fill="#d9452f"/>
<rect x="719.56" y="233.72" width="5.84" height="9.67" fill="#a2bfe5"/>
<rect x="725.4" y="233.72" width="5.84" height="9.67" fill="#b856ad"/>
<rect x="731.23" y="233.72" width="5.84" height="9.67" fill="#4aad45"/>
<rect x="737.07" y="233.72" width="5.84" height="9.67" fill="#d9452f"/>
<rect x="742.91" y="233.72" width="5.84" height="9.67" fill="#4aad45"/>
<rect x="748.74" y="233.72" width="5.84" height="9.67" fill="#a2bfe5"/>
<rect x="754.58" y="233.72" width="5.84" height="9.67" fill="#4aad45"/>
<rect x="760.42" y="233.72" width="5.84" height="9.67" fill="#a2bfe5"/>
<rect x="766.25" y="233.72" width="5.84" height="9.67" fill="#d9452f"/>
<rect x="772.09" y="233.72" width="5.84" height="9.67" fill="#4aad45"/>
<rect x="777.93" y="233.72" width="5.84" height="9.67" fill="#a2bfe5"/>
<text class="sq" text-anchor="middle" x="97.92 103.76 109.59 115.43 121.27 127.1 132.94 138.78 144.61 150.45 156.29 162.13 167.96 173.8 179.64 185.47 191.31 197.15 202.98 208.82 214.66 220.5 226.33 232.17 238.01 243.84 249.68 255.52 261.35 267.19 273.03 278.87 284.7 290.54 296.38 302.21 308.05 313.89 319.72 325.56 331.4 337.24 343.07 348.91 354.75 360.58 366.42 372.26 378.09 383.93 389.77 395.61 401.44 407.28 413.12 418.95 424.79 430.63 436.46 442.3 448.14 453.98 471.49 477.32 483.16 489 494.83 500.67 506.51 512.35 518.18 524.02 529.86 535.69 541.53 547.37 559.04 564.88 570.72 576.55 582.39 588.23 594.06 599.9 605.74 611.57 617.41 623.25 629.09 634.92 640.76 646.6 652.43 658.27 664.11 669.94 675.78 681.62 687.46 693.29 699.13 704.97 710.8 716.64 722.48 728.31 734.15 739.99 745.83 751.66 757.5 763.34 769.17 775.01 780.85" y="184.4">QEVILVQTREEVVGGDDSDGLRAEDGFEDQILIPVPAPAGGDDDYIEQTLVTVAAAGKSGGGGSSSSGGGRVKKGGGKKSGKKSYLSGGAGAAGGGGADPGNKKWEQKQVQIKTL</text>
<rect x="458.61" y="181.6" width="2.4" height="1.2" fill="#4a4a4a"/>
<rect x="464.45" y="181.6" width="2.4" height="1.2" fill="#4a4a4a"/>
<rect x="552" y="181.6" width="2.4" height="1.2" fill="#4a4a4a"/>
<text class="sq" text-anchor="middle" x="97.92 103.76 109.59 115.43 121.27 127.1 132.94 138.78 144.61 150.45 156.29 162.13 167.96 173.8 179.64 185.47 191.31 197.15 202.98 208.82 214.66 220.5 226.33 232.17 238.01 243.84 249.68 255.52 261.35 267.19 273.03 278.87 284.7 290.54 296.38 302.21 308.05 313.89 319.72 325.56 331.4 337.24 343.07 348.91 354.75 360.58 366.42 372.26 378.09 383.93 389.77 395.61 401.44 407.28 413.12 418.95 424.79 430.63 436.46 442.3 448.14 453.98 483.16 489 494.83 500.67 506.51 512.35 518.18 524.02 529.86 535.69 541.53 547.37 559.04 564.88 570.72 576.55 582.39 588.23 594.06 599.9 605.74 611.57 617.41 623.25 629.09 634.92 640.76 646.6 652.43 658.27 664.11 669.94 675.78 681.62 687.46 693.29 699.13 704.97 710.8 716.64 722.48 728.31 734.15 739.99 745.83 751.66 757.5 763.34 769.17 775.01 780.85" y="194">QEVILVQTREEVVGGDDSDGLRAEDGFEDQILIPVPAPAGGDDDYIEQTLVTVAAAGKSGGGASSGGGRVKKGGGKKSGKKSYLGGGAGAAGGGGADPGNKKWEQKQVQIKTL</text>
<rect x="458.61" y="191.2" width="2.4" height="1.2" fill="#4a4a4a"/>
<rect x="464.45" y="191.2" width="2.4" height="1.2" fill="#4a4a4a"/>
<rect x="470.29" y="191.2" width="2.4" height="1.2" fill="#4a4a4a"/>
<rect x="476.12" y="191.2" width="2.4" height="1.2" fill="#4a4a4a"/>
<rect x="552" y="191.2" width="2.4" height="1.2" fill="#4a4a4a"/>
<text class="sq" text-anchor="middle" x="97.92 103.76 109.59 115.43 121.27 127.1 132.94 138.78 144.61 150.45 156.29 162.13 167.96 173.8 179.64 185.47 191.31 197.15 202.98 208.82 214.66 220.5 226.33 232.17 238.01 243.84 249.68 255.52 261.35 267.19 273.03 278.87 284.7 290.54 296.38 302.21 308.05 313.89 319.72 325.56 331.4 337.24 343.07 348.91 354.75 360.58 366.42 372.26 378.09 383.93 389.77 395.61 401.44 407.28 413.12 418.95 424.79 430.63 436.46 442.3 448.14 453.98 483.16 489 494.83 500.67 506.51 512.35 518.18 524.02 529.86 535.69 541.53 547.37 559.04 564.88 570.72 576.55 582.39 588.23 594.06 599.9 605.74 611.57 617.41 623.25 629.09 634.92 640.76 646.6 652.43 658.27 664.11 669.94 675.78 681.62 687.46 693.29 699.13 704.97 710.8 716.64 722.48 728.31 734.15 739.99 745.83 751.66 757.5 763.34 769.17 775.01 780.85" y="203.6">QEVILVQTREEVVGGDDSDGLRAEDGFEDQILIPVPAPAGGDDDYIEQTLVTVAAAGKSGGGSSSGGGRVKKGGGKKSGKKSYLGSGAGAAGGGGADPGNKKWEQKQVQIKTL</text>
<rect x="458.61" y="200.8" width="2.4" height="1.2" fill="#4a4a4a"/>
<rect x="464.45" y="200.8" width="2.4" height="1.2" fill="#4a4a4a"/>
<rect x="470.29" y="200.8" width="2.4" height="1.2" fill="#4a4a4a"/>
<rect x="476.12" y="200.8" width="2.4" height="1.2" fill="#4a4a4a"/>
<rect x="552" y="200.8" width="2.4" height="1.2" fill="#4a4a4a"/>
<text class="sq" text-anchor="middle" x="97.92 103.76 109.59 115.43 121.27 127.1 132.94 138.78 144.61 150.45 156.29 162.13 167.96 173.8 179.64 185.47 191.31 197.15 202.98 208.82 214.66 220.5 226.33 232.17 238.01 243.84 249.68 255.52 261.35 267.19 273.03 278.87 284.7 290.54 296.38 302.21 308.05 313.89 319.72 325.56 331.4 337.24 343.07 348.91 354.75 360.58 366.42 372.26 378.09 383.93 389.77 395.61 401.44 407.28 413.12 418.95 424.79 430.63 436.46 442.3 448.14 453.98 459.81 465.65 471.49 477.32 483.16 489 494.83 500.67 506.51 512.35 518.18 524.02 529.86 535.69 541.53 547.37 559.04 564.88 570.72 576.55 582.39 588.23 594.06 599.9 605.74 611.57 617.41 623.25 629.09 634.92 640.76 646.6 652.43 658.27 675.78 681.62 687.46 693.29 699.13 704.97 710.8 716.64 722.48 728.31 734.15 739.99 745.83 751.66 757.5 763.34 769.17 775.01 780.85" y="213.2">QEVILVQTREEVVGGDDSDGLRAEDGFEDQILIPVPAPAGGDDDYIEQTLVTVAAAGKSGGGGGGSSSSGGGRVKKGGGKKSGKKGYLGGGAGAAGGADAGNKKWEQKQVQIKTL</text>
<rect x="552" y="210.4" width="2.4" height="1.2" fill="#4a4a4a"/>
<rect x="662.91" y="210.4" width="2.4" height="1.2" fill="#4a4a4a"/>
<rect x="668.74" y="210.4" width="2.4" height="1.2" fill="#4a4a4a"/>
<text class="sq" text-anchor="middle" x="97.92 103.76 109.59 115.43 121.27 127.1 132.94 138.78 144.61 150.45 156.29 162.13 167.96 173.8 179.64 185.47 191.31 197.15 202.98 214.66 220.5 226.33 232.17 238.01 243.84 249.68 255.52 261.35 267.19 273.03 278.87 284.7 290.54 296.38 302.21 308.05 313.89 319.72 325.56 337.24 343.07 348.91 354.75 360.58 366.42 372.26 378.09 383.93 389.77 395.61 401.44 407.28 413.12 418.95 424.79 430.63 494.83 500.67 506.51 512.35 518.18 524.02 529.86 535.69 541.53 547.37 553.2 559.04 564.88 570.72 576.55 582.39 588.23 594.06 599.9 605.74 611.57 617.41 623.25 629.09 634.92 693.29 699.13 704.97 710.8 716.64 722.48 728.31 734.15 739.99 745.83 751.66 757.5 763.34 769.17 775.01 780.85" y="222.8">QEVILVQTREEVVGGDDSDLRADDGFEDQILIPVPAPAGEDEYIEQTLVTVAGKSSGGRMKKGGGGSGKKSSKKSYLSGAEPSGRKWEQKQVQIKTL</text>
<rect x="207.62" y="220" width="2.4" height="1.2" fill="#4a4a4a"/>
<rect x="330.2" y="220" width="2.4" height="1.2" fill="#4a4a4a"/>
<rect x="435.26" y="220" width="2.4" height="1.2" fill="#4a4a4a"/>
<rect x="441.1" y="220" width="2.4" height="1.2" fill="#4a4a4a"/>
<rect x="446.94" y="220" width="2.4" height="1.2" fill="#4a4a4a"/>
<rect x="452.78" y="220" width="2.4" height="1.2" fill="#4a4a4a"/>
<rect x="458.61" y="220" width="2.4" height="1.2" fill="#4a4a4a"/>
<rect x="464.45" y="220" width="2.4" height="1.2" fill="#4a4a4a"/>
<rect x="470.29" y="220" width="2.4" height="1.2" fill="#4a4a4a"/>
<rect x="476.12" y="220" width="2.4" height="1.2" fill="#4a4a4a"/>
<rect x="481.96" y="220" width="2.4" height="1.2" fill="#4a4a4a"/>
<rect x="487.8" y="220" width="2.4" height="1.2" fill="#4a4a4a"/>
<rect x="639.56" y="220" width="2.4" height="1.2" fill="#4a4a4a"/>
<rect x="645.4" y="220" width="2.4" height="1.2" fill="#4a4a4a"/>
<rect x="651.23" y="220" width="2.4" height="1.2" fill="#4a4a4a"/>
<rect x="657.07" y="220" width="2.4" height="1.2" fill="#4a4a4a"/>
<rect x="662.91" y="220" width="2.4" height="1.2" fill="#4a4a4a"/>
<rect x="668.74" y="220" width="2.4" height="1.2" fill="#4a4a4a"/>
<rect x="674.58" y="220" width="2.4" height="1.2" fill="#4a4a4a"/>
<rect x="680.42" y="220" width="2.4" height="1.2" fill="#4a4a4a"/>
<rect x="686.26" y="220" width="2.4" height="1.2" fill="#4a4a4a"/>
<text class="sq" text-anchor="middle" x="97.92 103.76 109.59 115.43 121.27 127.1 132.94 138.78 144.61 150.45 156.29 162.13 167.96 173.8 179.64 185.47 191.31 197.15 202.98 208.82 214.66 220.5 226.33 232.17 238.01 243.84 249.68 255.52 261.35 267.19 273.03 278.87 284.7 290.54 296.38 302.21 308.05 313.89 319.72 325.56 337.24 343.07 348.91 354.75 360.58 366.42 372.26 378.09 383.93 389.77 395.61 401.44 407.28 413.12 418.95 424.79 430.63 436.46 442.3 448.14 453.98 459.81 465.65 471.49 477.32 483.16 489 494.83 500.67 506.51 512.35 518.18 524.02 529.86 535.69 541.53 547.37 553.2 559.04 564.88 570.72 576.55 582.39 588.23 594.06 599.9 605.74 611.57 617.41 623.25 629.09 634.92 640.76 664.11 669.94 675.78 681.62 687.46 693.29 699.13 704.97 710.8 716.64 722.48 728.31 734.15 739.99 745.83 751.66 757.5 763.34 769.17 775.01 780.85" y="232.4">QEVILVQTREEVVGGDDSDGLRADDGFEDQILIPVPAPAGEDEYIEQTLVTVAAAGSKSGGGGSSSAGGGGRVKKGGSGKKSSKKSYLSGGGGGGAEGGGGRKWEQKQVQIKTL</text>
<rect x="330.2" y="229.6" width="2.4" height="1.2" fill="#4a4a4a"/>
<rect x="645.4" y="229.6" width="2.4" height="1.2" fill="#4a4a4a"/>
<rect x="651.23" y="229.6" width="2.4" height="1.2" fill="#4a4a4a"/>
<rect x="657.07" y="229.6" width="2.4" height="1.2" fill="#4a4a4a"/>
<text class="sq" text-anchor="middle" x="97.92 103.76 109.59 115.43 121.27 127.1 132.94 138.78 144.61 150.45 156.29 162.13 167.96 173.8 179.64 185.47 191.31 197.15 202.98 214.66 220.5 226.33 232.17 238.01 243.84 249.68 255.52 261.35 267.19 273.03 278.87 284.7 290.54 296.38 302.21 308.05 313.89 319.72 325.56 337.24 343.07 348.91 354.75 360.58 366.42 372.26 378.09 383.93 389.77 395.61 401.44 407.28 413.12 418.95 424.79 430.63 494.83 500.67 506.51 512.35 518.18 524.02 529.86 535.69 547.37 553.2 559.04 564.88 570.72 576.55 582.39 588.23 594.06 599.9 605.74 611.57 617.41 623.25 629.09 634.92 693.29 699.13 704.97 710.8 716.64 722.48 728.31 734.15 739.99 745.83 751.66 757.5 763.34 769.17 775.01 780.85" y="242">QEVILVQTREEVVGCDDSDLHADDSFEDQILIPVPVPVAEEEYIEQTLVTVSGKNPSGRMKKGGGSGKRVVKKSFLNSAEASGRKWEQKQVQIKTL</text>
<rect x="207.62" y="239.2" width="2.4" height="1.2" fill="#4a4a4a"/>
<rect x="330.2" y="239.2" width="2.4" height="1.2" fill="#4a4a4a"/>
<rect x="435.26" y="239.2" width="2.4" height="1.2" fill="#4a4a4a"/>
<rect x="441.1" y="239.2" width="2.4" height="1.2" fill="#4a4a4a"/>
<rect x="446.94" y="239.2" width="2.4" height="1.2" fill="#4a4a4a"/>
<rect x="452.78" y="239.2" width="2.4" height="1.2" fill="#4a4a4a"/>
<rect x="458.61" y="239.2" width="2.4" height="1.2" fill="#4a4a4a"/>
<rect x="464.45" y="239.2" width="2.4" height="1.2" fill="#4a4a4a"/>
<rect x="470.29" y="239.2" width="2.4" height="1.2" fill="#4a4a4a"/>
<rect x="476.12" y="239.2" width="2.4" height="1.2" fill="#4a4a4a"/>
<rect x="481.96" y="239.2" width="2.4" height="1.2" fill="#4a4a4a"/>
<rect x="487.8" y="239.2" width="2.4" height="1.2" fill="#4a4a4a"/>
<rect x="540.33" y="239.2" width="2.4" height="1.2" fill="#4a4a4a"/>
<rect x="639.56" y="239.2" width="2.4" height="1.2" fill="#4a4a4a"/>
<rect x="645.4" y="239.2" width="2.4" height="1.2" fill="#4a4a4a"/>
<rect x="651.23" y="239.2" width="2.4" height="1.2" fill="#4a4a4a"/>
<rect x="657.07" y="239.2" width="2.4" height="1.2" fill="#4a4a4a"/>
<rect x="662.91" y="239.2" width="2.4" height="1.2" fill="#4a4a4a"/>
<rect x="668.74" y="239.2" width="2.4" height="1.2" fill="#4a4a4a"/>
<rect x="674.58" y="239.2" width="2.4" height="1.2" fill="#4a4a4a"/>
<rect x="680.42" y="239.2" width="2.4" height="1.2" fill="#4a4a4a"/>
<rect x="686.26" y="239.2" width="2.4" height="1.2" fill="#4a4a4a"/>
<text class="lb" text-anchor="end" x="86.2" y="262.3">Conservation</text>
<rect x="95" y="264.6" width="688.77" height="0.9" fill="#8a8a8a"/>
<rect x="95" y="244.9" width="81.72" height="20.3" fill="rgb(244,220,12)"/>
<rect x="176.72" y="248.59" width="5.84" height="16.61" fill="rgb(214,178,50)"/>
<rect x="182.56" y="244.9" width="23.35" height="20.3" fill="rgb(244,220,12)"/>
<rect x="211.74" y="244.9" width="5.84" height="20.3" fill="rgb(244,220,12)"/>
<rect x="217.58" y="250.44" width="5.84" height="14.76" fill="rgb(208,168,48)"/>
<rect x="223.41" y="244.9" width="5.84" height="20.3" fill="rgb(244,220,12)"/>
<rect x="229.25" y="248.59" width="5.84" height="16.61" fill="rgb(214,178,50)"/>
<rect x="235.09" y="244.9" width="5.84" height="20.3" fill="rgb(244,220,12)"/>
<rect x="240.92" y="250.44" width="5.84" height="14.76" fill="rgb(208,168,48)"/>
<rect x="246.76" y="244.9" width="58.37" height="20.3" fill="rgb(244,220,12)"/>
<rect x="305.13" y="250.44" width="5.84" height="14.76" fill="rgb(208,168,48)"/>
<rect x="310.97" y="244.9" width="5.84" height="20.3" fill="rgb(244,220,12)"/>
<rect x="316.81" y="250.44" width="5.84" height="14.76" fill="rgb(208,168,48)"/>
<rect x="322.64" y="246.75" width="5.84" height="18.45" fill="rgb(230,200,30)"/>
<rect x="334.32" y="248.59" width="17.51" height="16.61" fill="rgb(214,178,50)"/>
<rect x="351.83" y="244.9" width="52.53" height="20.3" fill="rgb(244,220,12)"/>
<rect x="404.36" y="250.44" width="5.84" height="14.76" fill="rgb(208,168,48)"/>
<rect x="410.2" y="246.75" width="5.84" height="18.45" fill="rgb(230,200,30)"/>
<rect x="416.03" y="255.97" width="5.84" height="9.23" fill="rgb(165,112,38)"/>
<rect x="421.87" y="252.28" width="5.84" height="12.92" fill="rgb(195,150,45)"/>
<rect x="427.71" y="259.66" width="5.84" height="5.54" fill="rgb(128,74,26)"/>
<rect x="491.92" y="250.44" width="5.84" height="14.76" fill="rgb(208,168,48)"/>
<rect x="497.75" y="244.9" width="5.84" height="20.3" fill="rgb(244,220,12)"/>
<rect x="503.59" y="257.82" width="5.84" height="7.38" fill="rgb(140,88,30)"/>
<rect x="509.43" y="250.44" width="11.67" height="14.76" fill="rgb(208,168,48)"/>
<rect x="521.1" y="255.97" width="17.51" height="9.23" fill="rgb(165,112,38)"/>
<rect x="538.61" y="259.66" width="5.84" height="5.54" fill="rgb(128,74,26)"/>
<rect x="544.45" y="244.9" width="5.84" height="20.3" fill="rgb(244,220,12)"/>
<rect x="556.12" y="244.9" width="11.67" height="20.3" fill="rgb(244,220,12)"/>
<rect x="567.8" y="248.59" width="5.84" height="16.61" fill="rgb(214,178,50)"/>
<rect x="573.63" y="254.13" width="11.67" height="11.07" fill="rgb(175,125,40)"/>
<rect x="585.31" y="244.9" width="11.67" height="20.3" fill="rgb(244,220,12)"/>
<rect x="596.98" y="250.44" width="5.84" height="14.76" fill="rgb(208,168,48)"/>
<rect x="602.82" y="248.59" width="5.84" height="16.61" fill="rgb(214,178,50)"/>
<rect x="608.66" y="244.9" width="5.84" height="20.3" fill="rgb(244,220,12)"/>
<rect x="614.49" y="252.28" width="5.84" height="12.92" fill="rgb(195,150,45)"/>
<rect x="620.33" y="250.44" width="5.84" height="14.76" fill="rgb(208,168,48)"/>
<rect x="626.17" y="246.75" width="5.84" height="18.45" fill="rgb(230,200,30)"/>
<rect x="632" y="257.82" width="5.84" height="7.38" fill="rgb(140,88,30)"/>
<rect x="690.37" y="252.28" width="5.84" height="12.92" fill="rgb(195,150,45)"/>
<rect x="696.21" y="250.44" width="5.84" height="14.76" fill="rgb(208,168,48)"/>
<rect x="702.05" y="252.28" width="5.84" height="12.92" fill="rgb(195,150,45)"/>
<rect x="707.88" y="248.59" width="5.84" height="16.61" fill="rgb(214,178,50)"/>
<rect x="713.72" y="244.9" width="70.04" height="20.3" fill="rgb(244,220,12)"/>
<rect x="97.12" y="268.5" width="1.6" height="1.2" fill="#e6dc8c"/>
<rect x="102.96" y="268.5" width="1.6" height="1.2" fill="#e6dc8c"/>
<rect x="108.79" y="268.5" width="1.6" height="1.2" fill="#e6dc8c"/>
<rect x="114.63" y="268.5" width="1.6" height="1.2" fill="#e6dc8c"/>
<rect x="120.47" y="268.5" width="1.6" height="1.2" fill="#e6dc8c"/>
<rect x="126.3" y="268.5" width="1.6" height="1.2" fill="#e6dc8c"/>
<rect x="132.14" y="268.5" width="1.6" height="1.2" fill="#e6dc8c"/>
<rect x="137.98" y="268.5" width="1.6" height="1.2" fill="#e6dc8c"/>
<rect x="143.81" y="268.5" width="1.6" height="1.2" fill="#e6dc8c"/>
<rect x="149.65" y="268.5" width="1.6" height="1.2" fill="#e6dc8c"/>
<rect x="155.49" y="268.5" width="1.6" height="1.2" fill="#e6dc8c"/>
<rect x="161.33" y="268.5" width="1.6" height="1.2" fill="#e6dc8c"/>
<rect x="167.16" y="268.5" width="1.6" height="1.2" fill="#e6dc8c"/>
<rect x="173" y="268.5" width="1.6" height="1.2" fill="#e6dc8c"/>
<text class="cn" text-anchor="middle" x="179.64" y="272.7" fill="rgb(214,190,130)">9</text>
<rect x="184.67" y="268.5" width="1.6" height="1.2" fill="#e6dc8c"/>
<rect x="190.51" y="268.5" width="1.6" height="1.2" fill="#e6dc8c"/>
<rect x="196.35" y="268.5" width="1.6" height="1.2" fill="#e6dc8c"/>
<rect x="202.18" y="268.5" width="1.6" height="1.2" fill="#e6dc8c"/>
<rect x="208.02" y="270.4" width="1.6" height="1.0" fill="#6a6a6a"/>
<rect x="213.86" y="268.5" width="1.6" height="1.2" fill="#e6dc8c"/>
<text class="cn" text-anchor="middle" x="220.5" y="272.7" fill="rgb(214,190,130)">8</text>
<rect x="225.53" y="268.5" width="1.6" height="1.2" fill="#e6dc8c"/>
<text class="cn" text-anchor="middle" x="232.17" y="272.7" fill="rgb(214,190,130)">9</text>
<rect x="237.21" y="268.5" width="1.6" height="1.2" fill="#e6dc8c"/>
<text class="cn" text-anchor="middle" x="243.84" y="272.7" fill="rgb(214,190,130)">8</text>
<rect x="248.88" y="268.5" width="1.6" height="1.2" fill="#e6dc8c"/>
<rect x="254.72" y="268.5" width="1.6" height="1.2" fill="#e6dc8c"/>
<rect x="260.55" y="268.5" width="1.6" height="1.2" fill="#e6dc8c"/>
<rect x="266.39" y="268.5" width="1.6" height="1.2" fill="#e6dc8c"/>
<rect x="272.23" y="268.5" width="1.6" height="1.2" fill="#e6dc8c"/>
<rect x="278.07" y="268.5" width="1.6" height="1.2" fill="#e6dc8c"/>
<rect x="283.9" y="268.5" width="1.6" height="1.2" fill="#e6dc8c"/>
<rect x="289.74" y="268.5" width="1.6" height="1.2" fill="#e6dc8c"/>
<rect x="295.58" y="268.5" width="1.6" height="1.2" fill="#e6dc8c"/>
<rect x="301.41" y="268.5" width="1.6" height="1.2" fill="#e6dc8c"/>
<text class="cn" text-anchor="middle" x="308.05" y="272.7" fill="rgb(214,190,130)">8</text>
<rect x="313.09" y="268.5" width="1.6" height="1.2" fill="#e6dc8c"/>
<text class="cn" text-anchor="middle" x="319.72" y="272.7" fill="rgb(214,190,130)">8</text>
<text class="cn" text-anchor="middle" x="325.56" y="272.7" fill="#d8c060">+</text>
<rect x="330.6" y="270.4" width="1.6" height="1.0" fill="#6a6a6a"/>
<text class="cn" text-anchor="middle" x="337.24" y="272.7" fill="rgb(214,190,130)">9</text>
<text class="cn" text-anchor="middle" x="343.07" y="272.7" fill="rgb(214,190,130)">9</text>
<text class="cn" text-anchor="middle" x="348.91" y="272.7" fill="rgb(214,190,130)">9</text>
<rect x="353.95" y="268.5" width="1.6" height="1.2" fill="#e6dc8c"/>
<rect x="359.78" y="268.5" width="1.6" height="1.2" fill="#e6dc8c"/>
<rect x="365.62" y="268.5" width="1.6" height="1.2" fill="#e6dc8c"/>
<rect x="371.46" y="268.5" width="1.6" height="1.2" fill="#e6dc8c"/>
<rect x="377.29" y="268.5" width="1.6" height="1.2" fill="#e6dc8c"/>
<rect x="383.13" y="268.5" width="1.6" height="1.2" fill="#e6dc8c"/>
<rect x="388.97" y="268.5" width="1.6" height="1.2" fill="#e6dc8c"/>
<rect x="394.81" y="268.5" width="1.6" height="1.2" fill="#e6dc8c"/>
<rect x="400.64" y="268.5" width="1.6" height="1.2" fill="#e6dc8c"/>
<text class="cn" text-anchor="middle" x="407.28" y="272.7" fill="rgb(214,190,130)">8</text>
<text class="cn" text-anchor="middle" x="413.12" y="272.7" fill="#d8c060">+</text>
<text class="cn" text-anchor="middle" x="418.95" y="272.7" fill="rgb(88,62,38)">5</text>
<text class="cn" text-anchor="middle" x="424.79" y="272.7" fill="rgb(88,62,38)">7</text>
<text class="cn" text-anchor="middle" x="430.63" y="272.7" fill="rgb(88,62,38)">3</text>
<rect x="435.66" y="270.4" width="1.6" height="1.0" fill="#6a6a6a"/>
<rect x="441.5" y="270.4" width="1.6" height="1.0" fill="#6a6a6a"/>
<rect x="447.34" y="270.4" width="1.6" height="1.0" fill="#6a6a6a"/>
<rect x="453.18" y="270.4" width="1.6" height="1.0" fill="#6a6a6a"/>
<rect x="459.01" y="270.4" width="1.6" height="1.0" fill="#6a6a6a"/>
<rect x="464.85" y="270.4" width="1.6" height="1.0" fill="#6a6a6a"/>
<rect x="470.69" y="270.4" width="1.6" height="1.0" fill="#6a6a6a"/>
<rect x="476.52" y="270.4" width="1.6" height="1.0" fill="#6a6a6a"/>
<rect x="482.36" y="270.4" width="1.6" height="1.0" fill="#6a6a6a"/>
<rect x="488.2" y="270.4" width="1.6" height="1.0" fill="#6a6a6a"/>
<text class="cn" text-anchor="middle" x="494.83" y="272.7" fill="rgb(214,190,130)">8</text>
<rect x="499.87" y="268.5" width="1.6" height="1.2" fill="#e6dc8c"/>
<text class="cn" text-anchor="middle" x="506.51" y="272.7" fill="rgb(88,62,38)">4</text>
<text class="cn" text-anchor="middle" x="512.35" y="272.7" fill="rgb(214,190,130)">8</text>
<text class="cn" text-anchor="middle" x="518.18" y="272.7" fill="rgb(214,190,130)">8</text>
<text class="cn" text-anchor="middle" x="524.02" y="272.7" fill="rgb(88,62,38)">5</text>
<text class="cn" text-anchor="middle" x="529.86" y="272.7" fill="rgb(88,62,38)">5</text>
<text class="cn" text-anchor="middle" x="535.69" y="272.7" fill="rgb(88,62,38)">5</text>
<text class="cn" text-anchor="middle" x="541.53" y="272.7" fill="rgb(88,62,38)">3</text>
<rect x="546.57" y="268.5" width="1.6" height="1.2" fill="#e6dc8c"/>
<rect x="552.4" y="270.4" width="1.6" height="1.0" fill="#6a6a6a"/>
<rect x="558.24" y="268.5" width="1.6" height="1.2" fill="#e6dc8c"/>
<rect x="564.08" y="268.5" width="1.6" height="1.2" fill="#e6dc8c"/>
<text class="cn" text-anchor="middle" x="570.72" y="272.7" fill="rgb(214,190,130)">9</text>
<text class="cn" text-anchor="middle" x="576.55" y="272.7" fill="rgb(88,62,38)">6</text>
<text class="cn" text-anchor="middle" x="582.39" y="272.7" fill="rgb(88,62,38)">6</text>
<rect x="587.43" y="268.5" width="1.6" height="1.2" fill="#e6dc8c"/>
<rect x="593.26" y="268.5" width="1.6" height="1.2" fill="#e6dc8c"/>
<text class="cn" text-anchor="middle" x="599.9" y="272.7" fill="rgb(214,190,130)">8</text>
<text class="cn" text-anchor="middle" x="605.74" y="272.7" fill="rgb(214,190,130)">9</text>
<rect x="610.77" y="268.5" width="1.6" height="1.2" fill="#e6dc8c"/>
<text class="cn" text-anchor="middle" x="617.41" y="272.7" fill="rgb(88,62,38)">7</text>
<text class="cn" text-anchor="middle" x="623.25" y="272.7" fill="rgb(214,190,130)">8</text>
<text class="cn" text-anchor="middle" x="629.09" y="272.7" fill="#d8c060">+</text>
<text class="cn" text-anchor="middle" x="634.92" y="272.7" fill="rgb(88,62,38)">4</text>
<rect x="639.96" y="270.4" width="1.6" height="1.0" fill="#6a6a6a"/>
<rect x="645.8" y="270.4" width="1.6" height="1.0" fill="#6a6a6a"/>
<rect x="651.63" y="270.4" width="1.6" height="1.0" fill="#6a6a6a"/>
<rect x="657.47" y="270.4" width="1.6" height="1.0" fill="#6a6a6a"/>
<rect x="663.31" y="270.4" width="1.6" height="1.0" fill="#6a6a6a"/>
<rect x="669.14" y="270.4" width="1.6" height="1.0" fill="#6a6a6a"/>
<rect x="674.98" y="270.4" width="1.6" height="1.0" fill="#6a6a6a"/>
<rect x="680.82" y="270.4" width="1.6" height="1.0" fill="#6a6a6a"/>
<rect x="686.66" y="270.4" width="1.6" height="1.0" fill="#6a6a6a"/>
<text class="cn" text-anchor="middle" x="693.29" y="272.7" fill="rgb(88,62,38)">7</text>
<text class="cn" text-anchor="middle" x="699.13" y="272.7" fill="rgb(214,190,130)">8</text>
<text class="cn" text-anchor="middle" x="704.97" y="272.7" fill="rgb(88,62,38)">7</text>
<text class="cn" text-anchor="middle" x="710.8" y="272.7" fill="rgb(214,190,130)">9</text>
<rect x="715.84" y="268.5" width="1.6" height="1.2" fill="#e6dc8c"/>
<rect x="721.68" y="268.5" width="1.6" height="1.2" fill="#e6dc8c"/>
<rect x="727.51" y="268.5" width="1.6" height="1.2" fill="#e6dc8c"/>
<rect x="733.35" y="268.5" width="1.6" height="1.2" fill="#e6dc8c"/>
<rect x="739.19" y="268.5" width="1.6" height="1.2" fill="#e6dc8c"/>
<rect x="745.03" y="268.5" width="1.6" height="1.2" fill="#e6dc8c"/>
<rect x="750.86" y="268.5" width="1.6" height="1.2" fill="#e6dc8c"/>
<rect x="756.7" y="268.5" width="1.6" height="1.2" fill="#e6dc8c"/>
<rect x="762.54" y="268.5" width="1.6" height="1.2" fill="#e6dc8c"/>
<rect x="768.37" y="268.5" width="1.6" height="1.2" fill="#e6dc8c"/>
<rect x="774.21" y="268.5" width="1.6" height="1.2" fill="#e6dc8c"/>
<rect x="780.05" y="268.5" width="1.6" height="1.2" fill="#e6dc8c"/>
<text class="lb" text-anchor="end" x="86.2" y="297.4">Consensus</text>
<path d="M95 301.1 L95 280.6 L100.84 280.6 L100.84 280.6 L106.67 280.6 L106.67 280.6 L112.51 280.6 L112.51 280.6 L118.35 280.6 L118.35 280.6 L124.19 280.6 L124.19 280.6 L130.02 280.6 L130.02 280.6 L135.86 280.6 L135.86 280.6 L141.7 280.6 L141.7 280.6 L147.53 280.6 L147.53 280.6 L153.37 280.6 L153.37 280.6 L159.21 280.6 L159.21 280.6 L165.04 280.6 L165.04 280.6 L170.88 280.6 L170.88 280.6 L176.72 280.6 L176.72 283.53 L182.55 283.53 L182.56 280.6 L188.39 280.6 L188.39 280.6 L194.23 280.6 L194.23 280.6 L200.07 280.6 L200.07 280.6 L205.9 280.6 L205.9 286.46 L211.74 286.46 L211.74 280.6 L217.58 280.6 L217.58 283.53 L223.41 283.53 L223.41 280.6 L229.25 280.6 L229.25 289.39 L235.09 289.39 L235.09 280.6 L240.92 280.6 L240.92 283.53 L246.76 283.53 L246.76 280.6 L252.6 280.6 L252.6 280.6 L258.44 280.6 L258.44 280.6 L264.27 280.6 L264.27 280.6 L270.11 280.6 L270.11 280.6 L275.95 280.6 L275.95 280.6 L281.78 280.6 L281.78 280.6 L287.62 280.6 L287.62 280.6 L293.46 280.6 L293.46 280.6 L299.29 280.6 L299.29 280.6 L305.13 280.6 L305.13 283.53 L310.97 283.53 L310.97 280.6 L316.81 280.6 L316.81 283.53 L322.64 283.53 L322.64 283.53 L328.48 283.53 L328.48 289.39 L334.32 289.39 L334.32 289.39 L340.15 289.39 L340.15 283.53 L345.99 283.53 L345.99 289.39 L351.83 289.39 L351.83 280.6 L357.66 280.6 L357.66 280.6 L363.5 280.6 L363.5 280.6 L369.34 280.6 L369.34 280.6 L375.18 280.6 L375.18 280.6 L381.01 280.6 L381.01 280.6 L386.85 280.6 L386.85 280.6 L392.69 280.6 L392.69 280.6 L398.52 280.6 L398.52 280.6 L404.36 280.6 L404.36 283.53 L410.2 283.53 L410.2 286.46 L416.03 286.46 L416.03 286.46 L421.87 286.46 L421.87 286.46 L427.71 286.46 L427.71 289.39 L433.55 289.39 L433.55 289.39 L439.38 289.39 L439.38 289.39 L445.22 289.39 L445.22 286.46 L451.06 286.46 L451.06 286.46 L456.89 286.46 L456.89 295.24 L462.73 295.24 L462.73 295.24 L468.57 295.24 L468.57 295.24 L474.4 295.24 L474.4 292.31 L480.24 292.31 L480.24 289.39 L486.08 289.39 L486.08 289.39 L491.92 289.39 L491.92 286.46 L497.75 286.46 L497.75 280.6 L503.59 280.6 L503.59 286.46 L509.43 286.46 L509.43 286.46 L515.26 286.46 L515.26 286.46 L521.1 286.46 L521.1 286.46 L526.94 286.46 L526.94 286.46 L532.77 286.46 L532.77 286.46 L538.61 286.46 L538.61 283.53 L544.45 283.53 L544.45 280.6 L550.29 280.6 L550.29 292.31 L556.12 292.31 L556.12 280.6 L561.96 280.6 L561.96 280.6 L567.8 280.6 L567.8 283.53 L573.63 283.53 L573.63 283.53 L579.47 283.53 L579.47 289.39 L585.31 289.39 L585.31 280.6 L591.14 280.6 L591.14 280.6 L596.98 280.6 L596.98 283.53 L602.82 283.53 L602.82 283.53 L608.66 283.53 L608.66 280.6 L614.49 280.6 L614.49 292.31 L620.33 292.31 L620.33 286.46 L626.17 286.46 L626.17 286.46 L632 286.46 L632 289.39 L637.84 289.39 L637.84 286.46 L643.68 286.46 L643.68 289.39 L649.51 289.39 L649.51 289.39 L655.35 289.39 L655.35 289.39 L661.19 289.39 L661.19 289.39 L667.03 289.39 L667.03 289.39 L672.86 289.39 L672.86 289.39 L678.7 289.39 L678.7 289.39 L684.54 289.39 L684.54 289.39 L690.37 289.39 L690.37 289.39 L696.21 289.39 L696.21 286.46 L702.05 286.46 L702.05 289.39 L707.88 289.39 L707.88 289.39 L713.72 289.39 L713.72 280.6 L719.56 280.6 L719.56 280.6 L725.4 280.6 L725.4 280.6 L731.23 280.6 L731.23 280.6 L737.07 280.6 L737.07 280.6 L742.91 280.6 L742.91 280.6 L748.74 280.6 L748.74 280.6 L754.58 280.6 L754.58 280.6 L760.42 280.6 L760.42 280.6 L766.25 280.6 L766.25 280.6 L772.09 280.6 L772.09 280.6 L777.93 280.6 L777.93 280.6 L783.77 280.6 L783.77 301.1 Z" fill="#141414"/>
<text class="cs" text-anchor="middle" x="97.92 103.76 109.59 115.43 121.27 127.1 132.94 138.78 144.61 150.45 156.29 162.13 167.96 173.8 179.64 185.47 191.31 197.15 202.98 208.82 214.66 220.5 226.33 232.17 238.01 243.84 249.68 255.52 261.35 267.19 273.03 278.87 284.7 290.54 296.38 302.21 308.05 313.89 319.72 325.56 331.4 337.24 343.07 348.91 354.75 360.58 366.42 372.26 378.09 383.93 389.77 395.61 401.44 407.28 413.12 418.95 424.79 430.63 436.46 442.3 448.14 453.98 459.81 465.65 471.49 477.32 483.16 489 494.83 500.67 506.51 512.35 518.18 524.02 529.86 535.69 541.53 547.37 553.2 559.04 564.88 570.72 576.55 582.39 588.23 594.06 599.9 605.74 611.57 617.41 623.25 629.09 634.92 640.76 646.6 652.43 658.27 664.11 669.94 675.78 681.62 687.46 693.29 699.13 704.97 710.8 716.64 722.48 728.31 734.15 739.99 745.83 751.66 757.5 763.34 769.17 775.01 780.85" y="308">QEVILVQTREEVVGGDDSDGLRAEDGFEDQILIPVPAPAGGDDDYIEQTLVTVAAAGKSGGGGGGSSSSGGGRVKKGGSGKKSGKKSYL+GGAGAAGGGGADPGNKKWEQKQVQIKTL</text>
<text class="nm" x="7.4" y="332.2">Homo sapiens</text>
<text class="nm" x="7.4" y="341.93">Mus musculus</text>
<text class="nm" x="7.4" y="351.66">Rattus norvegicus</text>
<text class="nm" x="7.4" y="361.39">Bos taurus</text>
<text class="nm" x="7.4" y="371.12">Xenopus tropicalis</text>
<text class="nm" x="7.4" y="380.85">Gallus gallus</text>
<text class="nm" x="7.4" y="390.58">Danio rerio</text>
<rect x="93.7" y="322.6" width="5.84" height="10.37" fill="#b856ad"/>
<rect x="99.54" y="322.6" width="5.84" height="10.37" fill="#e59b5c"/>
<rect x="105.37" y="322.6" width="5.84" height="10.37" fill="#b856ad"/>
<rect x="111.21" y="322.6" width="5.84" height="10.37" fill="#a2bfe5"/>
<rect x="117.05" y="322.6" width="5.84" height="10.37" fill="#4aad45"/>
<rect x="122.89" y="322.6" width="5.84" height="10.37" fill="#a2bfe5"/>
<rect x="128.72" y="322.6" width="5.84" height="10.37" fill="#4aad45"/>
<rect x="134.56" y="322.6" width="11.67" height="10.37" fill="#a2bfe5"/>
<rect x="146.23" y="322.6" width="11.67" height="10.37" fill="#4aad45"/>
<rect x="157.91" y="322.6" width="11.67" height="10.37" fill="#b856ad"/>
<rect x="169.58" y="322.6" width="11.67" height="10.37" fill="#d9452f"/>
<rect x="181.25" y="322.6" width="5.84" height="10.37" fill="#b856ad"/>
<rect x="187.09" y="322.6" width="5.84" height="10.37" fill="#a2bfe5"/>
<rect x="192.93" y="322.6" width="5.84" height="10.37" fill="#b856ad"/>
<rect x="198.77" y="322.6" width="5.84" height="10.37" fill="#30aaa2"/>
<rect x="204.6" y="322.6" width="5.84" height="10.37" fill="#b856ad"/>
<rect x="210.44" y="322.6" width="5.84" height="10.37" fill="#4aad45"/>
<rect x="216.28" y="322.6" width="11.67" height="10.37" fill="#a2bfe5"/>
<rect x="227.95" y="322.6" width="11.67" height="10.37" fill="#b856ad"/>
<rect x="239.62" y="322.6" width="5.84" height="10.37" fill="#4aad45"/>
<rect x="245.46" y="322.6" width="11.67" height="10.37" fill="#a2bfe5"/>
<rect x="257.14" y="322.6" width="5.84" height="10.37" fill="#e59b5c"/>
<rect x="262.97" y="322.6" width="5.84" height="10.37" fill="#b856ad"/>
<rect x="268.81" y="322.6" width="11.67" height="10.37" fill="#4aad45"/>
<rect x="280.48" y="322.6" width="11.67" height="10.37" fill="#cdd04a"/>
<rect x="292.16" y="322.6" width="5.84" height="10.37" fill="#b856ad"/>
<rect x="298" y="322.6" width="5.84" height="10.37" fill="#30aaa2"/>
<rect x="303.83" y="322.6" width="5.84" height="10.37" fill="#4aad45"/>
<rect x="309.67" y="322.6" width="5.84" height="10.37" fill="#b856ad"/>
<rect x="315.51" y="322.6" width="5.84" height="10.37" fill="#30aaa2"/>
<rect x="321.34" y="322.6" width="5.84" height="10.37" fill="#a2bfe5"/>
<rect x="327.18" y="322.6" width="5.84" height="10.37" fill="#4aad45"/>
<rect x="333.02" y="322.6" width="5.84" height="10.37" fill="#e59b5c"/>
<rect x="338.85" y="322.6" width="11.67" height="10.37" fill="#d9452f"/>
<rect x="350.53" y="322.6" width="5.84" height="10.37" fill="#a2bfe5"/>
<rect x="356.36" y="322.6" width="11.67" height="10.37" fill="#cdd04a"/>
<rect x="368.04" y="322.6" width="11.67" height="10.37" fill="#e59b5c"/>
<rect x="379.71" y="322.6" width="5.84" height="10.37" fill="#a2bfe5"/>
<rect x="385.55" y="322.6" width="5.84" height="10.37" fill="#cdd04a"/>
<rect x="391.39" y="322.6" width="5.84" height="10.37" fill="#e59b5c"/>
<rect x="397.22" y="322.6" width="5.84" height="10.37" fill="#a2bfe5"/>
<rect x="403.06" y="322.6" width="5.84" height="10.37" fill="#b856ad"/>
<rect x="408.9" y="322.6" width="5.84" height="10.37" fill="#a2bfe5"/>
<rect x="414.73" y="322.6" width="5.84" height="10.37" fill="#4aad45"/>
<rect x="420.57" y="322.6" width="5.84" height="10.37" fill="#b856ad"/>
<rect x="426.41" y="322.6" width="5.84" height="10.37" fill="#cdd04a"/>
<rect x="432.25" y="322.6" width="5.84" height="10.37" fill="#d9452f"/>
<rect x="438.08" y="322.6" width="5.84" height="10.37" fill="#4aad45"/>
<rect x="443.92" y="322.6" width="11.67" height="10.37" fill="#a2bfe5"/>
<rect x="455.59" y="322.6" width="5.84" height="10.37" fill="#b856ad"/>
<rect x="461.43" y="322.6" width="11.67" height="10.37" fill="#a2bfe5"/>
<rect x="473.1" y="322.6" width="5.84" height="10.37" fill="#d9452f"/>
<rect x="478.94" y="322.6" width="5.84" height="10.37" fill="#a2bfe5"/>
<rect x="484.78" y="322.6" width="5.84" height="10.37" fill="#d9452f"/>
<rect x="490.62" y="322.6" width="5.84" height="10.37" fill="#cdd04a"/>
<rect x="496.45" y="322.6" width="11.67" height="10.37" fill="#d9452f"/>
<rect x="508.13" y="322.6" width="5.84" height="10.37" fill="#a2bfe5"/>
<rect x="513.96" y="322.6" width="5.84" height="10.37" fill="#d9452f"/>
<rect x="519.8" y="322.6" width="17.51" height="10.37" fill="#b856ad"/>
<rect x="537.31" y="322.6" width="5.84" height="10.37" fill="#a2bfe5"/>
<rect x="543.15" y="322.6" width="5.84" height="10.37" fill="#cdd04a"/>
<rect x="548.99" y="322.6" width="5.84" height="10.37" fill="#d9452f"/>
<rect x="554.82" y="322.6" width="5.84" height="10.37" fill="#4aad45"/>
<rect x="560.66" y="322.6" width="11.67" height="10.37" fill="#a2bfe5"/>
<rect x="572.33" y="322.6" width="5.84" height="10.37" fill="#e28b7e"/>
<rect x="578.17" y="322.6" width="5.84" height="10.37" fill="#cdd04a"/>
<rect x="584.01" y="322.6" width="5.84" height="10.37" fill="#30aaa2"/>
<rect x="589.85" y="322.6" width="5.84" height="10.37" fill="#d9452f"/>
<rect x="595.68" y="322.6" width="5.84" height="10.37" fill="#e59b5c"/>
<rect x="601.52" y="322.6" width="5.84" height="10.37" fill="#e28b7e"/>
<rect x="607.36" y="322.6" width="5.84" height="10.37" fill="#4aad45"/>
<rect x="613.19" y="322.6" width="5.84" height="10.37" fill="#d9452f"/>
<rect x="619.03" y="322.6" width="11.67" height="10.37" fill="#a2bfe5"/>
<rect x="630.7" y="322.6" width="5.84" height="10.37" fill="#d9452f"/>
<rect x="636.54" y="322.6" width="5.84" height="10.37" fill="#b856ad"/>
<rect x="642.38" y="322.6" width="11.67" height="10.37" fill="#4aad45"/>
<rect x="654.05" y="322.6" width="11.67" height="10.37" fill="#a2bfe5"/>
<rect x="665.73" y="322.6" width="11.67" height="10.37" fill="#d9452f"/>
<rect x="677.4" y="322.6" width="5.84" height="10.37" fill="#30aaa2"/>
<rect x="683.24" y="322.6" width="5.84" height="10.37" fill="#a2bfe5"/>
<rect x="689.07" y="322.6" width="5.84" height="10.37" fill="#30aaa2"/>
<rect x="694.91" y="322.6" width="5.84" height="10.37" fill="#4aad45"/>
<rect x="700.75" y="322.6" width="5.84" height="10.37" fill="#30aaa2"/>
<rect x="706.59" y="322.6" width="5.84" height="10.37" fill="#e59b5c"/>
<rect x="712.42" y="322.6" width="5.84" height="10.37" fill="#cdd04a"/>
<rect x="718.26" y="322.6" width="5.84" height="10.37" fill="#d9452f"/>
<rect x="724.1" y="322.6" width="5.84" height="10.37" fill="#a2bfe5"/>
<rect x="729.93" y="322.6" width="5.84" height="10.37" fill="#30aaa2"/>
<rect x="735.77" y="322.6" width="5.84" height="10.37" fill="#a2bfe5"/>
<rect x="741.61" y="322.6" width="5.84" height="10.37" fill="#e28b7e"/>
<rect x="747.44" y="322.6" width="5.84" height="10.37" fill="#a2bfe5"/>
<rect x="753.28" y="322.6" width="5.84" height="10.37" fill="#b856ad"/>
<rect x="759.12" y="322.6" width="5.84" height="10.37" fill="#e28b7e"/>
<rect x="764.96" y="322.6" width="5.84" height="10.37" fill="#e59b5c"/>
<rect x="770.79" y="322.6" width="5.84" height="10.37" fill="#d9452f"/>
<rect x="776.63" y="322.6" width="5.84" height="10.37" fill="#a2bfe5"/>
<rect x="93.7" y="332.27" width="5.84" height="10.37" fill="#b856ad"/>
<rect x="99.54" y="332.27" width="5.84" height="10.37" fill="#e59b5c"/>
<rect x="105.37" y="332.27" width="5.84" height="10.37" fill="#b856ad"/>
<rect x="111.21" y="332.27" width="5.84" height="10.37" fill="#a2bfe5"/>
<rect x="117.05" y="332.27" width="5.84" height="10.37" fill="#4aad45"/>
<rect x="122.89" y="332.27" width="5.84" height="10.37" fill="#a2bfe5"/>
<rect x="128.72" y="332.27" width="5.84" height="10.37" fill="#4aad45"/>
<rect x="134.56" y="332.27" width="11.67" height="10.37" fill="#a2bfe5"/>
<rect x="146.23" y="332.27" width="11.67" height="10.37" fill="#4aad45"/>
<rect x="157.91" y="332.27" width="11.67" height="10.37" fill="#b856ad"/>
<rect x="169.58" y="332.27" width="11.67" height="10.37" fill="#d9452f"/>
<rect x="181.25" y="332.27" width="5.84" height="10.37" fill="#b856ad"/>
<rect x="187.09" y="332.27" width="5.84" height="10.37" fill="#a2bfe5"/>
<rect x="192.93" y="332.27" width="5.84" height="10.37" fill="#b856ad"/>
<rect x="198.77" y="332.27" width="5.84" height="10.37" fill="#30aaa2"/>
<rect x="204.6" y="332.27" width="5.84" height="10.37" fill="#b856ad"/>
<rect x="210.44" y="332.27" width="5.84" height="10.37" fill="#4aad45"/>
<rect x="216.28" y="332.27" width="11.67" height="10.37" fill="#a2bfe5"/>
<rect x="227.95" y="332.27" width="11.67" height="10.37" fill="#b856ad"/>
<rect x="239.62" y="332.27" width="5.84" height="10.37" fill="#4aad45"/>
<rect x="245.46" y="332.27" width="11.67" height="10.37" fill="#a2bfe5"/>
<rect x="257.14" y="332.27" width="5.84" height="10.37" fill="#e59b5c"/>
<rect x="262.97" y="332.27" width="5.84" height="10.37" fill="#b856ad"/>
<rect x="268.81" y="332.27" width="11.67" height="10.37" fill="#4aad45"/>
<rect x="280.48" y="332.27" width="11.67" height="10.37" fill="#cdd04a"/>
<rect x="292.16" y="332.27" width="5.84" height="10.37" fill="#b856ad"/>
<rect x="298" y="332.27" width="5.84" height="10.37" fill="#30aaa2"/>
<rect x="303.83" y="332.27" width="5.84" height="10.37" fill="#4aad45"/>
<rect x="309.67" y="332.27" width="5.84" height="10.37" fill="#b856ad"/>
<rect x="315.51" y="332.27" width="5.84" height="10.37" fill="#30aaa2"/>
<rect x="321.34" y="332.27" width="5.84" height="10.37" fill="#a2bfe5"/>
<rect x="327.18" y="332.27" width="5.84" height="10.37" fill="#4aad45"/>
<rect x="333.02" y="332.27" width="5.84" height="10.37" fill="#e59b5c"/>
<rect x="338.85" y="332.27" width="11.67" height="10.37" fill="#d9452f"/>
<rect x="350.53" y="332.27" width="5.84" height="10.37" fill="#a2bfe5"/>
<rect x="356.36" y="332.27" width="11.67" height="10.37" fill="#cdd04a"/>
<rect x="368.04" y="332.27" width="11.67" height="10.37" fill="#e59b5c"/>
<rect x="379.71" y="332.27" width="5.84" height="10.37" fill="#a2bfe5"/>
<rect x="385.55" y="332.27" width="5.84" height="10.37" fill="#cdd04a"/>
<rect x="391.39" y="332.27" width="5.84" height="10.37" fill="#e59b5c"/>
<rect x="397.22" y="332.27" width="5.84" height="10.37" fill="#a2bfe5"/>
<rect x="403.06" y="332.27" width="5.84" height="10.37" fill="#b856ad"/>
<rect x="408.9" y="332.27" width="5.84" height="10.37" fill="#a2bfe5"/>
<rect x="414.73" y="332.27" width="5.84" height="10.37" fill="#4aad45"/>
<rect x="420.57" y="332.27" width="5.84" height="10.37" fill="#b856ad"/>
<rect x="426.41" y="332.27" width="5.84" height="10.37" fill="#cdd04a"/>
<rect x="432.25" y="332.27" width="5.84" height="10.37" fill="#d9452f"/>
<rect x="438.08" y="332.27" width="5.84" height="10.37" fill="#4aad45"/>
<rect x="443.92" y="332.27" width="11.67" height="10.37" fill="#a2bfe5"/>
<rect x="455.59" y="332.27" width="5.84" height="10.37" fill="#b856ad"/>
<rect x="461.43" y="332.27" width="11.67" height="10.37" fill="#a2bfe5"/>
<rect x="473.1" y="332.27" width="5.84" height="10.37" fill="#d9452f"/>
<rect x="478.94" y="332.27" width="5.84" height="10.37" fill="#a2bfe5"/>
<rect x="484.78" y="332.27" width="5.84" height="10.37" fill="#d9452f"/>
<rect x="490.62" y="332.27" width="5.84" height="10.37" fill="#cdd04a"/>
<rect x="496.45" y="332.27" width="11.67" height="10.37" fill="#d9452f"/>
<rect x="508.13" y="332.27" width="5.84" height="10.37" fill="#a2bfe5"/>
<rect x="513.96" y="332.27" width="5.84" height="10.37" fill="#d9452f"/>
<rect x="519.8" y="332.27" width="17.51" height="10.37" fill="#b856ad"/>
<rect x="537.31" y="332.27" width="5.84" height="10.37" fill="#a2bfe5"/>
<rect x="543.15" y="332.27" width="5.84" height="10.37" fill="#cdd04a"/>
<rect x="548.99" y="332.27" width="5.84" height="10.37" fill="#d9452f"/>
<rect x="554.82" y="332.27" width="5.84" height="10.37" fill="#4aad45"/>
<rect x="560.66" y="332.27" width="11.67" height="10.37" fill="#a2bfe5"/>
<rect x="572.33" y="332.27" width="5.84" height="10.37" fill="#e28b7e"/>
<rect x="578.17" y="332.27" width="5.84" height="10.37" fill="#cdd04a"/>
<rect x="584.01" y="332.27" width="5.84" height="10.37" fill="#30aaa2"/>
<rect x="589.85" y="332.27" width="5.84" height="10.37" fill="#d9452f"/>
<rect x="595.68" y="332.27" width="5.84" height="10.37" fill="#e59b5c"/>
<rect x="601.52" y="332.27" width="5.84" height="10.37" fill="#e28b7e"/>
<rect x="607.36" y="332.27" width="5.84" height="10.37" fill="#4aad45"/>
<rect x="613.19" y="332.27" width="5.84" height="10.37" fill="#d9452f"/>
<rect x="619.03" y="332.27" width="11.67" height="10.37" fill="#a2bfe5"/>
<rect x="630.7" y="332.27" width="5.84" height="10.37" fill="#d9452f"/>
<rect x="636.54" y="332.27" width="5.84" height="10.37" fill="#b856ad"/>
<rect x="642.38" y="332.27" width="11.67" height="10.37" fill="#4aad45"/>
<rect x="654.05" y="332.27" width="11.67" height="10.37" fill="#a2bfe5"/>
<rect x="665.73" y="332.27" width="11.67" height="10.37" fill="#d9452f"/>
<rect x="677.4" y="332.27" width="5.84" height="10.37" fill="#30aaa2"/>
<rect x="683.24" y="332.27" width="5.84" height="10.37" fill="#a2bfe5"/>
<rect x="689.07" y="332.27" width="5.84" height="10.37" fill="#30aaa2"/>
<rect x="694.91" y="332.27" width="5.84" height="10.37" fill="#4aad45"/>
<rect x="700.75" y="332.27" width="5.84" height="10.37" fill="#30aaa2"/>
<rect x="706.59" y="332.27" width="5.84" height="10.37" fill="#e59b5c"/>
<rect x="712.42" y="332.27" width="5.84" height="10.37" fill="#cdd04a"/>
<rect x="718.26" y="332.27" width="5.84" height="10.37" fill="#d9452f"/>
<rect x="724.1" y="332.27" width="5.84" height="10.37" fill="#a2bfe5"/>
<rect x="729.93" y="332.27" width="5.84" height="10.37" fill="#30aaa2"/>
<rect x="735.77" y="332.27" width="5.84" height="10.37" fill="#a2bfe5"/>
<rect x="741.61" y="332.27" width="5.84" height="10.37" fill="#e28b7e"/>
<rect x="747.44" y="332.27" width="5.84" height="10.37" fill="#a2bfe5"/>
<rect x="753.28" y="332.27" width="5.84" height="10.37" fill="#b856ad"/>
<rect x="759.12" y="332.27" width="5.84" height="10.37" fill="#e28b7e"/>
<rect x="764.96" y="332.27" width="5.84" height="10.37" fill="#e59b5c"/>
<rect x="770.79" y="332.27" width="5.84" height="10.37" fill="#d9452f"/>
<rect x="776.63" y="332.27" width="5.84" height="10.37" fill="#a2bfe5"/>
<rect x="93.7" y="341.94" width="5.84" height="10.37" fill="#b856ad"/>
<rect x="99.54" y="341.94" width="5.84" height="10.37" fill="#e59b5c"/>
<rect x="105.37" y="341.94" width="5.84" height="10.37" fill="#b856ad"/>
<rect x="111.21" y="341.94" width="5.84" height="10.37" fill="#a2bfe5"/>
<rect x="117.05" y="341.94" width="5.84" height="10.37" fill="#4aad45"/>
<rect x="122.89" y="341.94" width="5.84" height="10.37" fill="#a2bfe5"/>
<rect x="128.72" y="341.94" width="5.84" height="10.37" fill="#4aad45"/>
<rect x="134.56" y="341.94" width="11.67" height="10.37" fill="#a2bfe5"/>
<rect x="146.23" y="341.94" width="11.67" height="10.37" fill="#4aad45"/>
<rect x="157.91" y="341.94" width="11.67" height="10.37" fill="#b856ad"/>
<rect x="169.58" y="341.94" width="11.67" height="10.37" fill="#d9452f"/>
<rect x="181.25" y="341.94" width="5.84" height="10.37" fill="#b856ad"/>
<rect x="187.09" y="341.94" width="5.84" height="10.37" fill="#a2bfe5"/>
<rect x="192.93" y="341.94" width="5.84" height="10.37" fill="#b856ad"/>
<rect x="198.77" y="341.94" width="5.84" height="10.37" fill="#30aaa2"/>
<rect x="204.6" y="341.94" width="5.84" height="10.37" fill="#b856ad"/>
<rect x="210.44" y="341.94" width="5.84" height="10.37" fill="#4aad45"/>
<rect x="216.28" y="341.94" width="11.67" height="10.37" fill="#a2bfe5"/>
<rect x="227.95" y="341.94" width="11.67" height="10.37" fill="#b856ad"/>
<rect x="239.62" y="341.94" width="5.84" height="10.37" fill="#4aad45"/>
<rect x="245.46" y="341.94" width="11.67" height="10.37" fill="#a2bfe5"/>
<rect x="257.14" y="341.94" width="5.84" height="10.37" fill="#e59b5c"/>
<rect x="262.97" y="341.94" width="5.84" height="10.37" fill="#b856ad"/>
<rect x="268.81" y="341.94" width="11.67" height="10.37" fill="#4aad45"/>
<rect x="280.48" y="341.94" width="11.67" height="10.37" fill="#cdd04a"/>
<rect x="292.16" y="341.94" width="5.84" height="10.37" fill="#b856ad"/>
<rect x="298" y="341.94" width="5.84" height="10.37" fill="#30aaa2"/>
<rect x="303.83" y="341.94" width="5.84" height="10.37" fill="#4aad45"/>
<rect x="309.67" y="341.94" width="5.84" height="10.37" fill="#b856ad"/>
<rect x="315.51" y="341.94" width="5.84" height="10.37" fill="#30aaa2"/>
<rect x="321.34" y="341.94" width="5.84" height="10.37" fill="#a2bfe5"/>
<rect x="327.18" y="341.94" width="5.84" height="10.37" fill="#4aad45"/>
<rect x="333.02" y="341.94" width="5.84" height="10.37" fill="#e59b5c"/>
<rect x="338.85" y="341.94" width="11.67" height="10.37" fill="#d9452f"/>
<rect x="350.53" y="341.94" width="5.84" height="10.37" fill="#a2bfe5"/>
<rect x="356.36" y="341.94" width="11.67" height="10.37" fill="#cdd04a"/>
<rect x="368.04" y="341.94" width="11.67" height="10.37" fill="#e59b5c"/>
<rect x="379.71" y="341.94" width="5.84" height="10.37" fill="#a2bfe5"/>
<rect x="385.55" y="341.94" width="5.84" height="10.37" fill="#cdd04a"/>
<rect x="391.39" y="341.94" width="5.84" height="10.37" fill="#e59b5c"/>
<rect x="397.22" y="341.94" width="5.84" height="10.37" fill="#a2bfe5"/>
<rect x="403.06" y="341.94" width="5.84" height="10.37" fill="#b856ad"/>
<rect x="408.9" y="341.94" width="5.84" height="10.37" fill="#a2bfe5"/>
<rect x="414.73" y="341.94" width="5.84" height="10.37" fill="#4aad45"/>
<rect x="420.57" y="341.94" width="5.84" height="10.37" fill="#b856ad"/>
<rect x="426.41" y="341.94" width="5.84" height="10.37" fill="#cdd04a"/>
<rect x="432.25" y="341.94" width="5.84" height="10.37" fill="#d9452f"/>
<rect x="438.08" y="341.94" width="5.84" height="10.37" fill="#4aad45"/>
<rect x="443.92" y="341.94" width="11.67" height="10.37" fill="#a2bfe5"/>
<rect x="455.59" y="341.94" width="5.84" height="10.37" fill="#b856ad"/>
<rect x="461.43" y="341.94" width="11.67" height="10.37" fill="#a2bfe5"/>
<rect x="473.1" y="341.94" width="5.84" height="10.37" fill="#d9452f"/>
<rect x="478.94" y="341.94" width="5.84" height="10.37" fill="#a2bfe5"/>
<rect x="484.78" y="341.94" width="5.84" height="10.37" fill="#d9452f"/>
<rect x="490.62" y="341.94" width="5.84" height="10.37" fill="#cdd04a"/>
<rect x="496.45" y="341.94" width="11.67" height="10.37" fill="#d9452f"/>
<rect x="508.13" y="341.94" width="5.84" height="10.37" fill="#a2bfe5"/>
<rect x="513.96" y="341.94" width="5.84" height="10.37" fill="#d9452f"/>
<rect x="519.8" y="341.94" width="17.51" height="10.37" fill="#b856ad"/>
<rect x="537.31" y="341.94" width="5.84" height="10.37" fill="#a2bfe5"/>
<rect x="543.15" y="341.94" width="5.84" height="10.37" fill="#cdd04a"/>
<rect x="548.99" y="341.94" width="5.84" height="10.37" fill="#d9452f"/>
<rect x="554.82" y="341.94" width="5.84" height="10.37" fill="#4aad45"/>
<rect x="560.66" y="341.94" width="11.67" height="10.37" fill="#a2bfe5"/>
<rect x="572.33" y="341.94" width="5.84" height="10.37" fill="#e28b7e"/>
<rect x="578.17" y="341.94" width="5.84" height="10.37" fill="#cdd04a"/>
<rect x="584.01" y="341.94" width="5.84" height="10.37" fill="#30aaa2"/>
<rect x="589.85" y="341.94" width="5.84" height="10.37" fill="#d9452f"/>
<rect x="595.68" y="341.94" width="5.84" height="10.37" fill="#e59b5c"/>
<rect x="601.52" y="341.94" width="5.84" height="10.37" fill="#e28b7e"/>
<rect x="607.36" y="341.94" width="5.84" height="10.37" fill="#4aad45"/>
<rect x="613.19" y="341.94" width="5.84" height="10.37" fill="#d9452f"/>
<rect x="619.03" y="341.94" width="11.67" height="10.37" fill="#a2bfe5"/>
<rect x="630.7" y="341.94" width="5.84" height="10.37" fill="#d9452f"/>
<rect x="636.54" y="341.94" width="5.84" height="10.37" fill="#b856ad"/>
<rect x="642.38" y="341.94" width="11.67" height="10.37" fill="#4aad45"/>
<rect x="654.05" y="341.94" width="11.67" height="10.37" fill="#a2bfe5"/>
<rect x="665.73" y="341.94" width="11.67" height="10.37" fill="#d9452f"/>
<rect x="677.4" y="341.94" width="5.84" height="10.37" fill="#30aaa2"/>
<rect x="683.24" y="341.94" width="5.84" height="10.37" fill="#a2bfe5"/>
<rect x="689.07" y="341.94" width="5.84" height="10.37" fill="#30aaa2"/>
<rect x="694.91" y="341.94" width="5.84" height="10.37" fill="#4aad45"/>
<rect x="700.75" y="341.94" width="5.84" height="10.37" fill="#30aaa2"/>
<rect x="706.59" y="341.94" width="5.84" height="10.37" fill="#e59b5c"/>
<rect x="712.42" y="341.94" width="5.84" height="10.37" fill="#cdd04a"/>
<rect x="718.26" y="341.94" width="5.84" height="10.37" fill="#d9452f"/>
<rect x="724.1" y="341.94" width="5.84" height="10.37" fill="#a2bfe5"/>
<rect x="729.93" y="341.94" width="5.84" height="10.37" fill="#30aaa2"/>
<rect x="735.77" y="341.94" width="5.84" height="10.37" fill="#a2bfe5"/>
<rect x="741.61" y="341.94" width="5.84" height="10.37" fill="#e28b7e"/>
<rect x="747.44" y="341.94" width="5.84" height="10.37" fill="#a2bfe5"/>
<rect x="753.28" y="341.94" width="5.84" height="10.37" fill="#b856ad"/>
<rect x="759.12" y="341.94" width="5.84" height="10.37" fill="#e28b7e"/>
<rect x="764.96" y="341.94" width="5.84" height="10.37" fill="#e59b5c"/>
<rect x="770.79" y="341.94" width="5.84" height="10.37" fill="#d9452f"/>
<rect x="776.63" y="341.94" width="5.84" height="10.37" fill="#a2bfe5"/>
<rect x="93.7" y="351.61" width="5.84" height="10.37" fill="#b856ad"/>
<rect x="99.54" y="351.61" width="5.84" height="10.37" fill="#e59b5c"/>
<rect x="105.37" y="351.61" width="5.84" height="10.37" fill="#b856ad"/>
<rect x="111.21" y="351.61" width="5.84" height="10.37" fill="#a2bfe5"/>
<rect x="117.05" y="351.61" width="5.84" height="10.37" fill="#4aad45"/>
<rect x="122.89" y="351.61" width="5.84" height="10.37" fill="#a2bfe5"/>
<rect x="128.72" y="351.61" width="5.84" height="10.37" fill="#4aad45"/>
<rect x="134.56" y="351.61" width="11.67" height="10.37" fill="#a2bfe5"/>
<rect x="146.23" y="351.61" width="11.67" height="10.37" fill="#4aad45"/>
<rect x="157.91" y="351.61" width="11.67" height="10.37" fill="#b856ad"/>
<rect x="169.58" y="351.61" width="11.67" height="10.37" fill="#d9452f"/>
<rect x="181.25" y="351.61" width="5.84" height="10.37" fill="#b856ad"/>
<rect x="187.09" y="351.61" width="5.84" height="10.37" fill="#a2bfe5"/>
<rect x="192.93" y="351.61" width="5.84" height="10.37" fill="#b856ad"/>
<rect x="198.77" y="351.61" width="5.84" height="10.37" fill="#30aaa2"/>
<rect x="204.6" y="351.61" width="5.84" height="10.37" fill="#b856ad"/>
<rect x="210.44" y="351.61" width="5.84" height="10.37" fill="#4aad45"/>
<rect x="216.28" y="351.61" width="11.67" height="10.37" fill="#a2bfe5"/>
<rect x="227.95" y="351.61" width="11.67" height="10.37" fill="#b856ad"/>
<rect x="239.62" y="351.61" width="5.84" height="10.37" fill="#4aad45"/>
<rect x="245.46" y="351.61" width="11.67" height="10.37" fill="#a2bfe5"/>
<rect x="257.14" y="351.61" width="5.84" height="10.37" fill="#e59b5c"/>
<rect x="262.97" y="351.61" width="5.84" height="10.37" fill="#b856ad"/>
<rect x="268.81" y="351.61" width="11.67" height="10.37" fill="#4aad45"/>
<rect x="280.48" y="351.61" width="11.67" height="10.37" fill="#cdd04a"/>
<rect x="292.16" y="351.61" width="5.84" height="10.37" fill="#b856ad"/>
<rect x="298" y="351.61" width="5.84" height="10.37" fill="#30aaa2"/>
<rect x="303.83" y="351.61" width="5.84" height="10.37" fill="#4aad45"/>
<rect x="309.67" y="351.61" width="5.84" height="10.37" fill="#b856ad"/>
<rect x="315.51" y="351.61" width="5.84" height="10.37" fill="#30aaa2"/>
<rect x="321.34" y="351.61" width="5.84" height="10.37" fill="#a2bfe5"/>
<rect x="327.18" y="351.61" width="5.84" height="10.37" fill="#4aad45"/>
<rect x="333.02" y="351.61" width="5.84" height="10.37" fill="#e59b5c"/>
<rect x="338.85" y="351.61" width="11.67" height="10.37" fill="#d9452f"/>
<rect x="350.53" y="351.61" width="5.84" height="10.37" fill="#a2bfe5"/>
<rect x="356.36" y="351.61" width="11.67" height="10.37" fill="#cdd04a"/>
<rect x="368.04" y="351.61" width="11.67" height="10.37" fill="#e59b5c"/>
<rect x="379.71" y="351.61" width="5.84" height="10.37" fill="#a2bfe5"/>
<rect x="385.55" y="351.61" width="5.84" height="10.37" fill="#cdd04a"/>
<rect x="391.39" y="351.61" width="5.84" height="10.37" fill="#e59b5c"/>
<rect x="397.22" y="351.61" width="5.84" height="10.37" fill="#a2bfe5"/>
<rect x="403.06" y="351.61" width="5.84" height="10.37" fill="#b856ad"/>
<rect x="408.9" y="351.61" width="5.84" height="10.37" fill="#a2bfe5"/>
<rect x="414.73" y="351.61" width="5.84" height="10.37" fill="#4aad45"/>
<rect x="420.57" y="351.61" width="5.84" height="10.37" fill="#b856ad"/>
<rect x="426.41" y="351.61" width="5.84" height="10.37" fill="#cdd04a"/>
<rect x="432.25" y="351.61" width="5.84" height="10.37" fill="#d9452f"/>
<rect x="438.08" y="351.61" width="5.84" height="10.37" fill="#4aad45"/>
<rect x="443.92" y="351.61" width="11.67" height="10.37" fill="#a2bfe5"/>
<rect x="455.59" y="351.61" width="5.84" height="10.37" fill="#b856ad"/>
<rect x="461.43" y="351.61" width="11.67" height="10.37" fill="#a2bfe5"/>
<rect x="473.1" y="351.61" width="5.84" height="10.37" fill="#d9452f"/>
<rect x="478.94" y="351.61" width="5.84" height="10.37" fill="#a2bfe5"/>
<rect x="484.78" y="351.61" width="5.84" height="10.37" fill="#d9452f"/>
<rect x="490.62" y="351.61" width="5.84" height="10.37" fill="#cdd04a"/>
<rect x="496.45" y="351.61" width="11.67" height="10.37" fill="#d9452f"/>
<rect x="508.13" y="351.61" width="5.84" height="10.37" fill="#a2bfe5"/>
<rect x="513.96" y="351.61" width="5.84" height="10.37" fill="#d9452f"/>
<rect x="519.8" y="351.61" width="17.51" height="10.37" fill="#b856ad"/>
<rect x="537.31" y="351.61" width="5.84" height="10.37" fill="#a2bfe5"/>
<rect x="543.15" y="351.61" width="5.84" height="10.37" fill="#cdd04a"/>
<rect x="548.99" y="351.61" width="5.84" height="10.37" fill="#d9452f"/>
<rect x="554.82" y="351.61" width="5.84" height="10.37" fill="#4aad45"/>
<rect x="560.66" y="351.61" width="11.67" height="10.37" fill="#a2bfe5"/>
<rect x="572.33" y="351.61" width="5.84" height="10.37" fill="#e28b7e"/>
<rect x="578.17" y="351.61" width="5.84" height="10.37" fill="#cdd04a"/>
<rect x="584.01" y="351.61" width="5.84" height="10.37" fill="#30aaa2"/>
<rect x="589.85" y="351.61" width="5.84" height="10.37" fill="#d9452f"/>
<rect x="595.68" y="351.61" width="5.84" height="10.37" fill="#e59b5c"/>
<rect x="601.52" y="351.61" width="5.84" height="10.37" fill="#e28b7e"/>
<rect x="607.36" y="351.61" width="5.84" height="10.37" fill="#4aad45"/>
<rect x="613.19" y="351.61" width="5.84" height="10.37" fill="#d9452f"/>
<rect x="619.03" y="351.61" width="11.67" height="10.37" fill="#a2bfe5"/>
<rect x="630.7" y="351.61" width="5.84" height="10.37" fill="#d9452f"/>
<rect x="636.54" y="351.61" width="5.84" height="10.37" fill="#b856ad"/>
<rect x="642.38" y="351.61" width="11.67" height="10.37" fill="#4aad45"/>
<rect x="654.05" y="351.61" width="11.67" height="10.37" fill="#a2bfe5"/>
<rect x="665.73" y="351.61" width="11.67" height="10.37" fill="#d9452f"/>
<rect x="677.4" y="351.61" width="5.84" height="10.37" fill="#30aaa2"/>
<rect x="683.24" y="351.61" width="5.84" height="10.37" fill="#a2bfe5"/>
<rect x="689.07" y="351.61" width="5.84" height="10.37" fill="#30aaa2"/>
<rect x="694.91" y="351.61" width="5.84" height="10.37" fill="#4aad45"/>
<rect x="700.75" y="351.61" width="5.84" height="10.37" fill="#30aaa2"/>
<rect x="706.59" y="351.61" width="5.84" height="10.37" fill="#e59b5c"/>
<rect x="712.42" y="351.61" width="5.84" height="10.37" fill="#cdd04a"/>
<rect x="718.26" y="351.61" width="5.84" height="10.37" fill="#d9452f"/>
<rect x="724.1" y="351.61" width="5.84" height="10.37" fill="#a2bfe5"/>
<rect x="729.93" y="351.61" width="5.84" height="10.37" fill="#30aaa2"/>
<rect x="735.77" y="351.61" width="5.84" height="10.37" fill="#a2bfe5"/>
<rect x="741.61" y="351.61" width="5.84" height="10.37" fill="#e28b7e"/>
<rect x="747.44" y="351.61" width="5.84" height="10.37" fill="#a2bfe5"/>
<rect x="753.28" y="351.61" width="5.84" height="10.37" fill="#b856ad"/>
<rect x="759.12" y="351.61" width="5.84" height="10.37" fill="#e28b7e"/>
<rect x="764.96" y="351.61" width="5.84" height="10.37" fill="#e59b5c"/>
<rect x="770.79" y="351.61" width="5.84" height="10.37" fill="#d9452f"/>
<rect x="776.63" y="351.61" width="5.84" height="10.37" fill="#a2bfe5"/>
<rect x="93.7" y="361.28" width="5.84" height="10.37" fill="#b856ad"/>
<rect x="99.54" y="361.28" width="5.84" height="10.37" fill="#e59b5c"/>
<rect x="105.37" y="361.28" width="5.84" height="10.37" fill="#b856ad"/>
<rect x="111.21" y="361.28" width="5.84" height="10.37" fill="#a2bfe5"/>
<rect x="117.05" y="361.28" width="5.84" height="10.37" fill="#4aad45"/>
<rect x="122.89" y="361.28" width="5.84" height="10.37" fill="#a2bfe5"/>
<rect x="128.72" y="361.28" width="5.84" height="10.37" fill="#4aad45"/>
<rect x="134.56" y="361.28" width="11.67" height="10.37" fill="#a2bfe5"/>
<rect x="152.07" y="361.28" width="5.84" height="10.37" fill="#4aad45"/>
<rect x="157.91" y="361.28" width="11.67" height="10.37" fill="#b856ad"/>
<rect x="169.58" y="361.28" width="11.67" height="10.37" fill="#d9452f"/>
<rect x="181.25" y="361.28" width="5.84" height="10.37" fill="#b856ad"/>
<rect x="187.09" y="361.28" width="5.84" height="10.37" fill="#a2bfe5"/>
<rect x="192.93" y="361.28" width="5.84" height="10.37" fill="#b856ad"/>
<rect x="198.77" y="361.28" width="5.84" height="10.37" fill="#30aaa2"/>
<rect x="204.6" y="361.28" width="5.84" height="10.37" fill="#b856ad"/>
<rect x="210.44" y="361.28" width="5.84" height="10.37" fill="#4aad45"/>
<rect x="216.28" y="361.28" width="11.67" height="10.37" fill="#a2bfe5"/>
<rect x="227.95" y="361.28" width="11.67" height="10.37" fill="#b856ad"/>
<rect x="239.62" y="361.28" width="5.84" height="10.37" fill="#4aad45"/>
<rect x="245.46" y="361.28" width="11.67" height="10.37" fill="#a2bfe5"/>
<rect x="257.14" y="361.28" width="5.84" height="10.37" fill="#e59b5c"/>
<rect x="262.97" y="361.28" width="5.84" height="10.37" fill="#b856ad"/>
<rect x="268.81" y="361.28" width="11.67" height="10.37" fill="#4aad45"/>
<rect x="280.48" y="361.28" width="11.67" height="10.37" fill="#cdd04a"/>
<rect x="292.16" y="361.28" width="5.84" height="10.37" fill="#b856ad"/>
<rect x="298" y="361.28" width="5.84" height="10.37" fill="#30aaa2"/>
<rect x="303.83" y="361.28" width="5.84" height="10.37" fill="#4aad45"/>
<rect x="309.67" y="361.28" width="5.84" height="10.37" fill="#b856ad"/>
<rect x="315.51" y="361.28" width="5.84" height="10.37" fill="#30aaa2"/>
<rect x="321.34" y="361.28" width="5.84" height="10.37" fill="#a2bfe5"/>
<rect x="327.18" y="361.28" width="5.84" height="10.37" fill="#4aad45"/>
<rect x="333.02" y="361.28" width="5.84" height="10.37" fill="#e59b5c"/>
<rect x="338.85" y="361.28" width="11.67" height="10.37" fill="#d9452f"/>
<rect x="350.53" y="361.28" width="5.84" height="10.37" fill="#a2bfe5"/>
<rect x="356.36" y="361.28" width="11.67" height="10.37" fill="#cdd04a"/>
<rect x="368.04" y="361.28" width="11.67" height="10.37" fill="#e59b5c"/>
<rect x="379.71" y="361.28" width="5.84" height="10.37" fill="#a2bfe5"/>
<rect x="385.55" y="361.28" width="5.84" height="10.37" fill="#cdd04a"/>
<rect x="391.39" y="361.28" width="5.84" height="10.37" fill="#e59b5c"/>
<rect x="397.22" y="361.28" width="5.84" height="10.37" fill="#a2bfe5"/>
<rect x="403.06" y="361.28" width="5.84" height="10.37" fill="#b856ad"/>
<rect x="408.9" y="361.28" width="5.84" height="10.37" fill="#a2bfe5"/>
<rect x="414.73" y="361.28" width="5.84" height="10.37" fill="#4aad45"/>
<rect x="420.57" y="361.28" width="5.84" height="10.37" fill="#b856ad"/>
<rect x="426.41" y="361.28" width="5.84" height="10.37" fill="#cdd04a"/>
<rect x="432.25" y="361.28" width="5.84" height="10.37" fill="#d9452f"/>
<rect x="438.08" y="361.28" width="5.84" height="10.37" fill="#4aad45"/>
<rect x="443.92" y="361.28" width="11.67" height="10.37" fill="#a2bfe5"/>
<rect x="455.59" y="361.28" width="5.84" height="10.37" fill="#b856ad"/>
<rect x="461.43" y="361.28" width="11.67" height="10.37" fill="#a2bfe5"/>
<rect x="473.1" y="361.28" width="5.84" height="10.37" fill="#d9452f"/>
<rect x="478.94" y="361.28" width="5.84" height="10.37" fill="#a2bfe5"/>
<rect x="484.78" y="361.28" width="5.84" height="10.37" fill="#d9452f"/>
<rect x="490.62" y="361.28" width="5.84" height="10.37" fill="#cdd04a"/>
<rect x="496.45" y="361.28" width="11.67" height="10.37" fill="#d9452f"/>
<rect x="508.13" y="361.28" width="5.84" height="10.37" fill="#a2bfe5"/>
<rect x="513.96" y="361.28" width="5.84" height="10.37" fill="#d9452f"/>
<rect x="519.8" y="361.28" width="17.51" height="10.37" fill="#b856ad"/>
<rect x="537.31" y="361.28" width="5.84" height="10.37" fill="#a2bfe5"/>
<rect x="543.15" y="361.28" width="5.84" height="10.37" fill="#cdd04a"/>
<rect x="548.99" y="361.28" width="5.84" height="10.37" fill="#d9452f"/>
<rect x="554.82" y="361.28" width="5.84" height="10.37" fill="#4aad45"/>
<rect x="560.66" y="361.28" width="11.67" height="10.37" fill="#a2bfe5"/>
<rect x="572.33" y="361.28" width="5.84" height="10.37" fill="#e28b7e"/>
<rect x="578.17" y="361.28" width="5.84" height="10.37" fill="#cdd04a"/>
<rect x="584.01" y="361.28" width="5.84" height="10.37" fill="#30aaa2"/>
<rect x="589.85" y="361.28" width="5.84" height="10.37" fill="#d9452f"/>
<rect x="595.68" y="361.28" width="5.84" height="10.37" fill="#e59b5c"/>
<rect x="601.52" y="361.28" width="5.84" height="10.37" fill="#e28b7e"/>
<rect x="607.36" y="361.28" width="5.84" height="10.37" fill="#4aad45"/>
<rect x="613.19" y="361.28" width="5.84" height="10.37" fill="#d9452f"/>
<rect x="619.03" y="361.28" width="11.67" height="10.37" fill="#a2bfe5"/>
<rect x="630.7" y="361.28" width="5.84" height="10.37" fill="#d9452f"/>
<rect x="636.54" y="361.28" width="5.84" height="10.37" fill="#b856ad"/>
<rect x="642.38" y="361.28" width="11.67" height="10.37" fill="#4aad45"/>
<rect x="654.05" y="361.28" width="11.67" height="10.37" fill="#a2bfe5"/>
<rect x="665.73" y="361.28" width="11.67" height="10.37" fill="#d9452f"/>
<rect x="677.4" y="361.28" width="5.84" height="10.37" fill="#30aaa2"/>
<rect x="683.24" y="361.28" width="5.84" height="10.37" fill="#a2bfe5"/>
<rect x="689.07" y="361.28" width="5.84" height="10.37" fill="#30aaa2"/>
<rect x="694.91" y="361.28" width="5.84" height="10.37" fill="#4aad45"/>
<rect x="700.75" y="361.28" width="5.84" height="10.37" fill="#30aaa2"/>
<rect x="706.59" y="361.28" width="5.84" height="10.37" fill="#e59b5c"/>
<rect x="712.42" y="361.28" width="5.84" height="10.37" fill="#cdd04a"/>
<rect x="718.26" y="361.28" width="5.84" height="10.37" fill="#d9452f"/>
<rect x="724.1" y="361.28" width="5.84" height="10.37" fill="#a2bfe5"/>
<rect x="729.93" y="361.28" width="5.84" height="10.37" fill="#30aaa2"/>
<rect x="735.77" y="361.28" width="5.84" height="10.37" fill="#a2bfe5"/>
<rect x="741.61" y="361.28" width="5.84" height="10.37" fill="#e28b7e"/>
<rect x="747.44" y="361.28" width="5.84" height="10.37" fill="#a2bfe5"/>
<rect x="753.28" y="361.28" width="5.84" height="10.37" fill="#b856ad"/>
<rect x="759.12" y="361.28" width="5.84" height="10.37" fill="#e28b7e"/>
<rect x="764.96" y="361.28" width="5.84" height="10.37" fill="#e59b5c"/>
<rect x="770.79" y="361.28" width="5.84" height="10.37" fill="#d9452f"/>
<rect x="776.63" y="361.28" width="5.84" height="10.37" fill="#a2bfe5"/>
<rect x="93.7" y="370.95" width="5.84" height="10.37" fill="#b856ad"/>
<rect x="99.54" y="370.95" width="5.84" height="10.37" fill="#e59b5c"/>
<rect x="105.37" y="370.95" width="5.84" height="10.37" fill="#b856ad"/>
<rect x="111.21" y="370.95" width="5.84" height="10.37" fill="#a2bfe5"/>
<rect x="117.05" y="370.95" width="5.84" height="10.37" fill="#4aad45"/>
<rect x="122.89" y="370.95" width="5.84" height="10.37" fill="#a2bfe5"/>
<rect x="128.72" y="370.95" width="5.84" height="10.37" fill="#4aad45"/>
<rect x="134.56" y="370.95" width="11.67" height="10.37" fill="#a2bfe5"/>
<rect x="152.07" y="370.95" width="5.84" height="10.37" fill="#4aad45"/>
<rect x="157.91" y="370.95" width="11.67" height="10.37" fill="#b856ad"/>
<rect x="169.58" y="370.95" width="11.67" height="10.37" fill="#d9452f"/>
<rect x="181.25" y="370.95" width="5.84" height="10.37" fill="#b856ad"/>
<rect x="187.09" y="370.95" width="5.84" height="10.37" fill="#a2bfe5"/>
<rect x="192.93" y="370.95" width="5.84" height="10.37" fill="#b856ad"/>
<rect x="198.77" y="370.95" width="5.84" height="10.37" fill="#30aaa2"/>
<rect x="204.6" y="370.95" width="5.84" height="10.37" fill="#b856ad"/>
<rect x="210.44" y="370.95" width="5.84" height="10.37" fill="#4aad45"/>
<rect x="216.28" y="370.95" width="11.67" height="10.37" fill="#a2bfe5"/>
<rect x="227.95" y="370.95" width="11.67" height="10.37" fill="#b856ad"/>
<rect x="239.62" y="370.95" width="5.84" height="10.37" fill="#4aad45"/>
<rect x="245.46" y="370.95" width="11.67" height="10.37" fill="#a2bfe5"/>
<rect x="257.14" y="370.95" width="5.84" height="10.37" fill="#e59b5c"/>
<rect x="262.97" y="370.95" width="5.84" height="10.37" fill="#b856ad"/>
<rect x="268.81" y="370.95" width="11.67" height="10.37" fill="#4aad45"/>
<rect x="280.48" y="370.95" width="11.67" height="10.37" fill="#cdd04a"/>
<rect x="292.16" y="370.95" width="5.84" height="10.37" fill="#b856ad"/>
<rect x="298" y="370.95" width="5.84" height="10.37" fill="#30aaa2"/>
<rect x="303.83" y="370.95" width="5.84" height="10.37" fill="#4aad45"/>
<rect x="309.67" y="370.95" width="5.84" height="10.37" fill="#b856ad"/>
<rect x="315.51" y="370.95" width="5.84" height="10.37" fill="#30aaa2"/>
<rect x="321.34" y="370.95" width="5.84" height="10.37" fill="#a2bfe5"/>
<rect x="327.18" y="370.95" width="5.84" height="10.37" fill="#4aad45"/>
<rect x="333.02" y="370.95" width="5.84" height="10.37" fill="#e59b5c"/>
<rect x="338.85" y="370.95" width="11.67" height="10.37" fill="#d9452f"/>
<rect x="350.53" y="370.95" width="5.84" height="10.37" fill="#a2bfe5"/>
<rect x="356.36" y="370.95" width="11.67" height="10.37" fill="#cdd04a"/>
<rect x="368.04" y="370.95" width="11.67" height="10.37" fill="#e59b5c"/>
<rect x="379.71" y="370.95" width="5.84" height="10.37" fill="#a2bfe5"/>
<rect x="385.55" y="370.95" width="5.84" height="10.37" fill="#cdd04a"/>
<rect x="391.39" y="370.95" width="5.84" height="10.37" fill="#e59b5c"/>
<rect x="397.22" y="370.95" width="5.84" height="10.37" fill="#a2bfe5"/>
<rect x="403.06" y="370.95" width="5.84" height="10.37" fill="#b856ad"/>
<rect x="408.9" y="370.95" width="5.84" height="10.37" fill="#a2bfe5"/>
<rect x="414.73" y="370.95" width="5.84" height="10.37" fill="#4aad45"/>
<rect x="420.57" y="370.95" width="5.84" height="10.37" fill="#b856ad"/>
<rect x="426.41" y="370.95" width="5.84" height="10.37" fill="#cdd04a"/>
<rect x="432.25" y="370.95" width="5.84" height="10.37" fill="#d9452f"/>
<rect x="438.08" y="370.95" width="5.84" height="10.37" fill="#4aad45"/>
<rect x="443.92" y="370.95" width="11.67" height="10.37" fill="#a2bfe5"/>
<rect x="455.59" y="370.95" width="5.84" height="10.37" fill="#b856ad"/>
<rect x="461.43" y="370.95" width="11.67" height="10.37" fill="#a2bfe5"/>
<rect x="473.1" y="370.95" width="5.84" height="10.37" fill="#d9452f"/>
<rect x="478.94" y="370.95" width="5.84" height="10.37" fill="#a2bfe5"/>
<rect x="484.78" y="370.95" width="5.84" height="10.37" fill="#d9452f"/>
<rect x="490.62" y="370.95" width="5.84" height="10.37" fill="#cdd04a"/>
<rect x="496.45" y="370.95" width="11.67" height="10.37" fill="#d9452f"/>
<rect x="508.13" y="370.95" width="5.84" height="10.37" fill="#a2bfe5"/>
<rect x="513.96" y="370.95" width="5.84" height="10.37" fill="#d9452f"/>
<rect x="519.8" y="370.95" width="17.51" height="10.37" fill="#b856ad"/>
<rect x="537.31" y="370.95" width="5.84" height="10.37" fill="#a2bfe5"/>
<rect x="543.15" y="370.95" width="5.84" height="10.37" fill="#cdd04a"/>
<rect x="548.99" y="370.95" width="5.84" height="10.37" fill="#d9452f"/>
<rect x="554.82" y="370.95" width="5.84" height="10.37" fill="#4aad45"/>
<rect x="560.66" y="370.95" width="11.67" height="10.37" fill="#a2bfe5"/>
<rect x="572.33" y="370.95" width="5.84" height="10.37" fill="#e28b7e"/>
<rect x="578.17" y="370.95" width="5.84" height="10.37" fill="#cdd04a"/>
<rect x="584.01" y="370.95" width="5.84" height="10.37" fill="#30aaa2"/>
<rect x="589.85" y="370.95" width="5.84" height="10.37" fill="#d9452f"/>
<rect x="595.68" y="370.95" width="5.84" height="10.37" fill="#e59b5c"/>
<rect x="601.52" y="370.95" width="5.84" height="10.37" fill="#e28b7e"/>
<rect x="607.36" y="370.95" width="5.84" height="10.37" fill="#4aad45"/>
<rect x="613.19" y="370.95" width="5.84" height="10.37" fill="#d9452f"/>
<rect x="619.03" y="370.95" width="11.67" height="10.37" fill="#a2bfe5"/>
<rect x="630.7" y="370.95" width="5.84" height="10.37" fill="#d9452f"/>
<rect x="636.54" y="370.95" width="5.84" height="10.37" fill="#b856ad"/>
<rect x="642.38" y="370.95" width="11.67" height="10.37" fill="#4aad45"/>
<rect x="654.05" y="370.95" width="11.67" height="10.37" fill="#a2bfe5"/>
<rect x="665.73" y="370.95" width="11.67" height="10.37" fill="#d9452f"/>
<rect x="677.4" y="370.95" width="5.84" height="10.37" fill="#30aaa2"/>
<rect x="683.24" y="370.95" width="5.84" height="10.37" fill="#a2bfe5"/>
<rect x="689.07" y="370.95" width="5.84" height="10.37" fill="#30aaa2"/>
<rect x="694.91" y="370.95" width="5.84" height="10.37" fill="#4aad45"/>
<rect x="700.75" y="370.95" width="5.84" height="10.37" fill="#30aaa2"/>
<rect x="706.59" y="370.95" width="5.84" height="10.37" fill="#e59b5c"/>
<rect x="712.42" y="370.95" width="5.84" height="10.37" fill="#cdd04a"/>
<rect x="718.26" y="370.95" width="5.84" height="10.37" fill="#d9452f"/>
<rect x="724.1" y="370.95" width="5.84" height="10.37" fill="#a2bfe5"/>
<rect x="729.93" y="370.95" width="5.84" height="10.37" fill="#30aaa2"/>
<rect x="735.77" y="370.95" width="5.84" height="10.37" fill="#a2bfe5"/>
<rect x="741.61" y="370.95" width="5.84" height="10.37" fill="#e28b7e"/>
<rect x="747.44" y="370.95" width="5.84" height="10.37" fill="#a2bfe5"/>
<rect x="753.28" y="370.95" width="5.84" height="10.37" fill="#b856ad"/>
<rect x="759.12" y="370.95" width="5.84" height="10.37" fill="#e28b7e"/>
<rect x="764.96" y="370.95" width="5.84" height="10.37" fill="#e59b5c"/>
<rect x="770.79" y="370.95" width="5.84" height="10.37" fill="#d9452f"/>
<rect x="776.63" y="370.95" width="5.84" height="10.37" fill="#a2bfe5"/>
<rect x="93.7" y="380.62" width="5.84" height="9.72" fill="#b856ad"/>
<rect x="99.54" y="380.62" width="5.84" height="9.72" fill="#e59b5c"/>
<rect x="105.37" y="380.62" width="5.84" height="9.72" fill="#b856ad"/>
<rect x="111.21" y="380.62" width="5.84" height="9.72" fill="#a2bfe5"/>
<rect x="117.05" y="380.62" width="5.84" height="9.72" fill="#4aad45"/>
<rect x="122.89" y="380.62" width="5.84" height="9.72" fill="#a2bfe5"/>
<rect x="128.72" y="380.62" width="5.84" height="9.72" fill="#4aad45"/>
<rect x="134.56" y="380.62" width="11.67" height="9.72" fill="#a2bfe5"/>
<rect x="152.07" y="380.62" width="5.84" height="9.72" fill="#4aad45"/>
<rect x="157.91" y="380.62" width="11.67" height="9.72" fill="#b856ad"/>
<rect x="169.58" y="380.62" width="11.67" height="9.72" fill="#d9452f"/>
<rect x="181.25" y="380.62" width="5.84" height="9.72" fill="#b856ad"/>
<rect x="187.09" y="380.62" width="5.84" height="9.72" fill="#a2bfe5"/>
<rect x="192.93" y="380.62" width="5.84" height="9.72" fill="#b856ad"/>
<rect x="198.77" y="380.62" width="5.84" height="9.72" fill="#30aaa2"/>
<rect x="204.6" y="380.62" width="5.84" height="9.72" fill="#b856ad"/>
<rect x="210.44" y="380.62" width="5.84" height="9.72" fill="#4aad45"/>
<rect x="216.28" y="380.62" width="11.67" height="9.72" fill="#a2bfe5"/>
<rect x="227.95" y="380.62" width="11.67" height="9.72" fill="#b856ad"/>
<rect x="239.62" y="380.62" width="5.84" height="9.72" fill="#4aad45"/>
<rect x="245.46" y="380.62" width="11.67" height="9.72" fill="#a2bfe5"/>
<rect x="257.14" y="380.62" width="5.84" height="9.72" fill="#e59b5c"/>
<rect x="262.97" y="380.62" width="5.84" height="9.72" fill="#b856ad"/>
<rect x="268.81" y="380.62" width="11.67" height="9.72" fill="#4aad45"/>
<rect x="280.48" y="380.62" width="11.67" height="9.72" fill="#cdd04a"/>
<rect x="292.16" y="380.62" width="5.84" height="9.72" fill="#b856ad"/>
<rect x="298" y="380.62" width="5.84" height="9.72" fill="#30aaa2"/>
<rect x="303.83" y="380.62" width="5.84" height="9.72" fill="#4aad45"/>
<rect x="309.67" y="380.62" width="5.84" height="9.72" fill="#b856ad"/>
<rect x="315.51" y="380.62" width="5.84" height="9.72" fill="#30aaa2"/>
<rect x="321.34" y="380.62" width="5.84" height="9.72" fill="#a2bfe5"/>
<rect x="327.18" y="380.62" width="5.84" height="9.72" fill="#4aad45"/>
<rect x="333.02" y="380.62" width="5.84" height="9.72" fill="#e59b5c"/>
<rect x="338.85" y="380.62" width="11.67" height="9.72" fill="#d9452f"/>
<rect x="350.53" y="380.62" width="5.84" height="9.72" fill="#a2bfe5"/>
<rect x="356.36" y="380.62" width="11.67" height="9.72" fill="#cdd04a"/>
<rect x="368.04" y="380.62" width="11.67" height="9.72" fill="#e59b5c"/>
<rect x="379.71" y="380.62" width="5.84" height="9.72" fill="#a2bfe5"/>
<rect x="385.55" y="380.62" width="5.84" height="9.72" fill="#cdd04a"/>
<rect x="391.39" y="380.62" width="5.84" height="9.72" fill="#e59b5c"/>
<rect x="397.22" y="380.62" width="5.84" height="9.72" fill="#a2bfe5"/>
<rect x="403.06" y="380.62" width="5.84" height="9.72" fill="#b856ad"/>
<rect x="408.9" y="380.62" width="5.84" height="9.72" fill="#a2bfe5"/>
<rect x="414.73" y="380.62" width="5.84" height="9.72" fill="#4aad45"/>
<rect x="420.57" y="380.62" width="5.84" height="9.72" fill="#b856ad"/>
<rect x="426.41" y="380.62" width="5.84" height="9.72" fill="#cdd04a"/>
<rect x="432.25" y="380.62" width="5.84" height="9.72" fill="#d9452f"/>
<rect x="438.08" y="380.62" width="5.84" height="9.72" fill="#4aad45"/>
<rect x="443.92" y="380.62" width="11.67" height="9.72" fill="#a2bfe5"/>
<rect x="455.59" y="380.62" width="5.84" height="9.72" fill="#b856ad"/>
<rect x="461.43" y="380.62" width="11.67" height="9.72" fill="#a2bfe5"/>
<rect x="473.1" y="380.62" width="5.84" height="9.72" fill="#d9452f"/>
<rect x="478.94" y="380.62" width="5.84" height="9.72" fill="#a2bfe5"/>
<rect x="484.78" y="380.62" width="5.84" height="9.72" fill="#d9452f"/>
<rect x="490.62" y="380.62" width="5.84" height="9.72" fill="#cdd04a"/>
<rect x="496.45" y="380.62" width="11.67" height="9.72" fill="#d9452f"/>
<rect x="508.13" y="380.62" width="5.84" height="9.72" fill="#a2bfe5"/>
<rect x="513.96" y="380.62" width="5.84" height="9.72" fill="#d9452f"/>
<rect x="519.8" y="380.62" width="17.51" height="9.72" fill="#b856ad"/>
<rect x="537.31" y="380.62" width="5.84" height="9.72" fill="#4aad45"/>
<rect x="543.15" y="380.62" width="5.84" height="9.72" fill="#cdd04a"/>
<rect x="548.99" y="380.62" width="5.84" height="9.72" fill="#d9452f"/>
<rect x="554.82" y="380.62" width="5.84" height="9.72" fill="#4aad45"/>
<rect x="560.66" y="380.62" width="11.67" height="9.72" fill="#a2bfe5"/>
<rect x="572.33" y="380.62" width="5.84" height="9.72" fill="#e28b7e"/>
<rect x="578.17" y="380.62" width="5.84" height="9.72" fill="#cdd04a"/>
<rect x="584.01" y="380.62" width="5.84" height="9.72" fill="#30aaa2"/>
<rect x="589.85" y="380.62" width="5.84" height="9.72" fill="#d9452f"/>
<rect x="595.68" y="380.62" width="5.84" height="9.72" fill="#e59b5c"/>
<rect x="601.52" y="380.62" width="5.84" height="9.72" fill="#e28b7e"/>
<rect x="607.36" y="380.62" width="5.84" height="9.72" fill="#4aad45"/>
<rect x="613.19" y="380.62" width="5.84" height="9.72" fill="#d9452f"/>
<rect x="619.03" y="380.62" width="11.67" height="9.72" fill="#a2bfe5"/>
<rect x="630.7" y="380.62" width="5.84" height="9.72" fill="#d9452f"/>
<rect x="636.54" y="380.62" width="5.84" height="9.72" fill="#b856ad"/>
<rect x="642.38" y="380.62" width="11.67" height="9.72" fill="#4aad45"/>
<rect x="654.05" y="380.62" width="11.67" height="9.72" fill="#a2bfe5"/>
<rect x="665.73" y="380.62" width="11.67" height="9.72" fill="#d9452f"/>
<rect x="677.4" y="380.62" width="5.84" height="9.72" fill="#30aaa2"/>
<rect x="683.24" y="380.62" width="5.84" height="9.72" fill="#a2bfe5"/>
<rect x="689.07" y="380.62" width="5.84" height="9.72" fill="#30aaa2"/>
<rect x="694.91" y="380.62" width="5.84" height="9.72" fill="#4aad45"/>
<rect x="700.75" y="380.62" width="5.84" height="9.72" fill="#30aaa2"/>
<rect x="706.59" y="380.62" width="5.84" height="9.72" fill="#e59b5c"/>
<rect x="712.42" y="380.62" width="5.84" height="9.72" fill="#cdd04a"/>
<rect x="718.26" y="380.62" width="5.84" height="9.72" fill="#d9452f"/>
<rect x="724.1" y="380.62" width="5.84" height="9.72" fill="#a2bfe5"/>
<rect x="729.93" y="380.62" width="5.84" height="9.72" fill="#30aaa2"/>
<rect x="735.77" y="380.62" width="5.84" height="9.72" fill="#a2bfe5"/>
<rect x="741.61" y="380.62" width="5.84" height="9.72" fill="#e28b7e"/>
<rect x="747.44" y="380.62" width="5.84" height="9.72" fill="#a2bfe5"/>
<rect x="753.28" y="380.62" width="5.84" height="9.72" fill="#b856ad"/>
<rect x="759.12" y="380.62" width="5.84" height="9.72" fill="#e28b7e"/>
<rect x="764.96" y="380.62" width="5.84" height="9.72" fill="#e59b5c"/>
<rect x="770.79" y="380.62" width="5.84" height="9.72" fill="#d9452f"/>
<rect x="776.63" y="380.62" width="5.84" height="9.72" fill="#a2bfe5"/>
<text class="sq" text-anchor="middle" x="96.62 102.46 108.29 114.13 119.97 125.8 131.64 137.48 143.31 149.15 154.99 160.83 166.66 172.5 178.34 184.17 190.01 195.85 201.68 207.52 213.36 219.2 225.03 230.87 236.71 242.54 248.38 254.22 260.05 265.89 271.73 277.57 283.4 289.24 295.08 300.91 306.75 312.59 318.42 324.26 330.1 335.94 341.77 347.61 353.45 359.28 365.12 370.96 376.79 382.63 388.47 394.31 400.14 405.98 411.82 417.65 423.49 429.33 435.16 441 446.84 452.68 458.51 464.35 470.19 476.02 481.86 487.7 493.53 499.37 505.21 511.05 516.88 522.72 528.56 534.39 540.23 546.07 551.9 557.74 563.58 569.42 575.25 581.09 586.93 592.76 598.6 604.44 610.27 616.11 621.95 627.79 633.62 639.46 645.3 651.13 656.97 662.81 668.64 674.48 680.32 686.16 691.99 697.83 703.67 709.5 715.34 721.18 727.01 732.85 738.69 744.53 750.36 756.2 762.04 767.87 773.71 779.55" y="332.3">EGEFSVTMWSSDEKKDIDHETVVEEQIIGENSPPDYSEYMTGKKLPPGGIPGIDLSDPKQLAEFARMKPRKIKEDDAPRTIACPHKGCTKMFRDNSAMRKHLHTHGPRVHVCAECGKA</text>
<text class="sq" text-anchor="middle" x="96.62 102.46 108.29 114.13 119.97 125.8 131.64 137.48 143.31 149.15 154.99 160.83 166.66 172.5 178.34 184.17 190.01 195.85 201.68 207.52 213.36 219.2 225.03 230.87 236.71 242.54 248.38 254.22 260.05 265.89 271.73 277.57 283.4 289.24 295.08 300.91 306.75 312.59 318.42 324.26 330.1 335.94 341.77 347.61 353.45 359.28 365.12 370.96 376.79 382.63 388.47 394.31 400.14 405.98 411.82 417.65 423.49 429.33 435.16 441 446.84 452.68 458.51 464.35 470.19 476.02 481.86 487.7 493.53 499.37 505.21 511.05 516.88 522.72 528.56 534.39 540.23 546.07 551.9 557.74 563.58 569.42 575.25 581.09 586.93 592.76 598.6 604.44 610.27 616.11 621.95 627.79 633.62 639.46 645.3 651.13 656.97 662.81 668.64 674.48 680.32 686.16 691.99 697.83 703.67 709.5 715.34 721.18 727.01 732.85 738.69 744.53 750.36 756.2 762.04 767.87 773.71 779.55" y="341.9">EGEFSVTMWSSDEKKDIDHETVVEEQIIGENSPPDYSEYMTGKKLPPGGIPGIDLSDPKQLAEFARMKPRKIKEDDAPRTIACPHKGCTKMFRDNSAMRKHLHTHGPRVHVCAECGKA</text>
<text class="sq" text-anchor="middle" x="96.62 102.46 108.29 114.13 119.97 125.8 131.64 137.48 143.31 149.15 154.99 160.83 166.66 172.5 178.34 184.17 190.01 195.85 201.68 207.52 213.36 219.2 225.03 230.87 236.71 242.54 248.38 254.22 260.05 265.89 271.73 277.57 283.4 289.24 295.08 300.91 306.75 312.59 318.42 324.26 330.1 335.94 341.77 347.61 353.45 359.28 365.12 370.96 376.79 382.63 388.47 394.31 400.14 405.98 411.82 417.65 423.49 429.33 435.16 441 446.84 452.68 458.51 464.35 470.19 476.02 481.86 487.7 493.53 499.37 505.21 511.05 516.88 522.72 528.56 534.39 540.23 546.07 551.9 557.74 563.58 569.42 575.25 581.09 586.93 592.76 598.6 604.44 610.27 616.11 621.95 627.79 633.62 639.46 645.3 651.13 656.97 662.81 668.64 674.48 680.32 686.16 691.99 697.83 703.67 709.5 715.34 721.18 727.01 732.85 738.69 744.53 750.36 756.2 762.04 767.87 773.71 779.55" y="351.5">EGEFSVTMWSSDEKKDIDHETVVEEQIIGENSPPDYSEYMTGKKLPPGGIPGIDLSDPKQLAEFARMKPRKIKEDDAPRTIACPHKGCTKMFRDNSAMRKHLHTHGPRVHVCAECGKA</text>
<text class="sq" text-anchor="middle" x="96.62 102.46 108.29 114.13 119.97 125.8 131.64 137.48 143.31 149.15 154.99 160.83 166.66 172.5 178.34 184.17 190.01 195.85 201.68 207.52 213.36 219.2 225.03 230.87 236.71 242.54 248.38 254.22 260.05 265.89 271.73 277.57 283.4 289.24 295.08 300.91 306.75 312.59 318.42 324.26 330.1 335.94 341.77 347.61 353.45 359.28 365.12 370.96 376.79 382.63 388.47 394.31 400.14 405.98 411.82 417.65 423.49 429.33 435.16 441 446.84 452.68 458.51 464.35 470.19 476.02 481.86 487.7 493.53 499.37 505.21 511.05 516.88 522.72 528.56 534.39 540.23 546.07 551.9 557.74 563.58 569.42 575.25 581.09 586.93 592.76 598.6 604.44 610.27 616.11 621.95 627.79 633.62 639.46 645.3 651.13 656.97 662.81 668.64 674.48 680.32 686.16 691.99 697.83 703.67 709.5 715.34 721.18 727.01 732.85 738.69 744.53 750.36 756.2 762.04 767.87 773.71 779.55" y="361.1">EGEFSVTMWSSDEKKDIDHETVVEEQIIGENSPPDYSEYMTGKKLPPGGIPGIDLSDPKQLAEFARMKPRKIKEDDAPRTIACPHKGCTKMFRDNSAMRKHLHTHGPRVHVCAECGKA</text>
<text class="sq" text-anchor="middle" x="96.62 102.46 108.29 114.13 119.97 125.8 131.64 137.48 143.31 149.15 154.99 160.83 166.66 172.5 178.34 184.17 190.01 195.85 201.68 207.52 213.36 219.2 225.03 230.87 236.71 242.54 248.38 254.22 260.05 265.89 271.73 277.57 283.4 289.24 295.08 300.91 306.75 312.59 318.42 324.26 330.1 335.94 341.77 347.61 353.45 359.28 365.12 370.96 376.79 382.63 388.47 394.31 400.14 405.98 411.82 417.65 423.49 429.33 435.16 441 446.84 452.68 458.51 464.35 470.19 476.02 481.86 487.7 493.53 499.37 505.21 511.05 516.88 522.72 528.56 534.39 540.23 546.07 551.9 557.74 563.58 569.42 575.25 581.09 586.93 592.76 598.6 604.44 610.27 616.11 621.95 627.79 633.62 639.46 645.3 651.13 656.97 662.81 668.64 674.48 680.32 686.16 691.99 697.83 703.67 709.5 715.34 721.18 727.01 732.85 738.69 744.53 750.36 756.2 762.04 767.87 773.71 779.55" y="370.7">EGEFSVTMWASDDKKDIDHETVVEEQIIGENSPPDYSEYMTGKKLPPGGIPGIDLSDPKQLAEFARMKPRKIKEDDAPRTIACPHKGCTKMFRDNSAMRKHLHTHGPRVHVCAECGKA</text>
<text class="sq" text-anchor="middle" x="96.62 102.46 108.29 114.13 119.97 125.8 131.64 137.48 143.31 149.15 154.99 160.83 166.66 172.5 178.34 184.17 190.01 195.85 201.68 207.52 213.36 219.2 225.03 230.87 236.71 242.54 248.38 254.22 260.05 265.89 271.73 277.57 283.4 289.24 295.08 300.91 306.75 312.59 318.42 324.26 330.1 335.94 341.77 347.61 353.45 359.28 365.12 370.96 376.79 382.63 388.47 394.31 400.14 405.98 411.82 417.65 423.49 429.33 435.16 441 446.84 452.68 458.51 464.35 470.19 476.02 481.86 487.7 493.53 499.37 505.21 511.05 516.88 522.72 528.56 534.39 540.23 546.07 551.9 557.74 563.58 569.42 575.25 581.09 586.93 592.76 598.6 604.44 610.27 616.11 621.95 627.79 633.62 639.46 645.3 651.13 656.97 662.81 668.64 674.48 680.32 686.16 691.99 697.83 703.67 709.5 715.34 721.18 727.01 732.85 738.69 744.53 750.36 756.2 762.04 767.87 773.71 779.55" y="380.3">EGEFSVTMWASDDKKDIDHETVVEEQIIGENSPPDYSEYMTGKKLPPGGIPGIDLSDPKQLAEFARMKPRKIKEDDAPRTIACPHKGCTKMFRDNSAMRKHLHTHGPRVHVCAECGKA</text>
<text class="sq" text-anchor="middle" x="96.62 102.46 108.29 114.13 119.97 125.8 131.64 137.48 143.31 149.15 154.99 160.83 166.66 172.5 178.34 184.17 190.01 195.85 201.68 207.52 213.36 219.2 225.03 230.87 236.71 242.54 248.38 254.22 260.05 265.89 271.73 277.57 283.4 289.24 295.08 300.91 306.75 312.59 318.42 324.26 330.1 335.94 341.77 347.61 353.45 359.28 365.12 370.96 376.79 382.63 388.47 394.31 400.14 405.98 411.82 417.65 423.49 429.33 435.16 441 446.84 452.68 458.51 464.35 470.19 476.02 481.86 487.7 493.53 499.37 505.21 511.05 516.88 522.72 528.56 534.39 540.23 546.07 551.9 557.74 563.58 569.42 575.25 581.09 586.93 592.76 598.6 604.44 610.27 616.11 621.95 627.79 633.62 639.46 645.3 651.13 656.97 662.81 668.64 674.48 680.32 686.16 691.99 697.83 703.67 709.5 715.34 721.18 727.01 732.85 738.69 744.53 750.36 756.2 762.04 767.87 773.71 779.55" y="389.9">EGEFSVTMWASDDKKDVDHETVVEEQIIGENSPPDYSEYMTGKKLPPGGIPGIDLSDPKQLAEFARMKPRKIKEDDSPRTIACPHKGCTKMFRDNSAMRKHLHTHGPRVHVCAECGKA</text>
<text class="lb" text-anchor="end" x="86.2" y="410.1">Conservation</text>
<rect x="93.7" y="412.4" width="688.77" height="0.9" fill="#8a8a8a"/>
<rect x="93.7" y="392.7" width="52.53" height="20.3" fill="rgb(244,220,12)"/>
<rect x="146.23" y="398.24" width="5.84" height="14.76" fill="rgb(208,168,48)"/>
<rect x="152.07" y="392.7" width="11.67" height="20.3" fill="rgb(244,220,12)"/>
<rect x="163.74" y="396.39" width="5.84" height="16.61" fill="rgb(214,178,50)"/>
<rect x="169.58" y="392.7" width="17.51" height="20.3" fill="rgb(244,220,12)"/>
<rect x="187.09" y="396.39" width="5.84" height="16.61" fill="rgb(214,178,50)"/>
<rect x="192.93" y="392.7" width="344.38" height="20.3" fill="rgb(244,220,12)"/>
<rect x="537.31" y="398.24" width="5.84" height="14.76" fill="rgb(208,168,48)"/>
<rect x="543.15" y="392.7" width="239.32" height="20.3" fill="rgb(244,220,12)"/>
<rect x="95.82" y="416.3" width="1.6" height="1.2" fill="#e6dc8c"/>
<rect x="101.66" y="416.3" width="1.6" height="1.2" fill="#e6dc8c"/>
<rect x="107.49" y="416.3" width="1.6" height="1.2" fill="#e6dc8c"/>
<rect x="113.33" y="416.3" width="1.6" height="1.2" fill="#e6dc8c"/>
<rect x="119.17" y="416.3" width="1.6" height="1.2" fill="#e6dc8c"/>
<rect x="125" y="416.3" width="1.6" height="1.2" fill="#e6dc8c"/>
<rect x="130.84" y="416.3" width="1.6" height="1.2" fill="#e6dc8c"/>
<rect x="136.68" y="416.3" width="1.6" height="1.2" fill="#e6dc8c"/>
<rect x="142.51" y="416.3" width="1.6" height="1.2" fill="#e6dc8c"/>
<text class="cn" text-anchor="middle" x="149.15" y="420.5" fill="rgb(214,190,130)">8</text>
<rect x="154.19" y="416.3" width="1.6" height="1.2" fill="#e6dc8c"/>
<rect x="160.03" y="416.3" width="1.6" height="1.2" fill="#e6dc8c"/>
<text class="cn" text-anchor="middle" x="166.66" y="420.5" fill="rgb(214,190,130)">9</text>
<rect x="171.7" y="416.3" width="1.6" height="1.2" fill="#e6dc8c"/>
<rect x="177.54" y="416.3" width="1.6" height="1.2" fill="#e6dc8c"/>
<rect x="183.37" y="416.3" width="1.6" height="1.2" fill="#e6dc8c"/>
<text class="cn" text-anchor="middle" x="190.01" y="420.5" fill="rgb(214,190,130)">9</text>
<rect x="195.05" y="416.3" width="1.6" height="1.2" fill="#e6dc8c"/>
<rect x="200.88" y="416.3" width="1.6" height="1.2" fill="#e6dc8c"/>
<rect x="206.72" y="416.3" width="1.6" height="1.2" fill="#e6dc8c"/>
<rect x="212.56" y="416.3" width="1.6" height="1.2" fill="#e6dc8c"/>
<rect x="218.4" y="416.3" width="1.6" height="1.2" fill="#e6dc8c"/>
<rect x="224.23" y="416.3" width="1.6" height="1.2" fill="#e6dc8c"/>
<rect x="230.07" y="416.3" width="1.6" height="1.2" fill="#e6dc8c"/>
<rect x="235.91" y="416.3" width="1.6" height="1.2" fill="#e6dc8c"/>
<rect x="241.74" y="416.3" width="1.6" height="1.2" fill="#e6dc8c"/>
<rect x="247.58" y="416.3" width="1.6" height="1.2" fill="#e6dc8c"/>
<rect x="253.42" y="416.3" width="1.6" height="1.2" fill="#e6dc8c"/>
<rect x="259.25" y="416.3" width="1.6" height="1.2" fill="#e6dc8c"/>
<rect x="265.09" y="416.3" width="1.6" height="1.2" fill="#e6dc8c"/>
<rect x="270.93" y="416.3" width="1.6" height="1.2" fill="#e6dc8c"/>
<rect x="276.77" y="416.3" width="1.6" height="1.2" fill="#e6dc8c"/>
<rect x="282.6" y="416.3" width="1.6" height="1.2" fill="#e6dc8c"/>
<rect x="288.44" y="416.3" width="1.6" height="1.2" fill="#e6dc8c"/>
<rect x="294.28" y="416.3" width="1.6" height="1.2" fill="#e6dc8c"/>
<rect x="300.11" y="416.3" width="1.6" height="1.2" fill="#e6dc8c"/>
<rect x="305.95" y="416.3" width="1.6" height="1.2" fill="#e6dc8c"/>
<rect x="311.79" y="416.3" width="1.6" height="1.2" fill="#e6dc8c"/>
<rect x="317.62" y="416.3" width="1.6" height="1.2" fill="#e6dc8c"/>
<rect x="323.46" y="416.3" width="1.6" height="1.2" fill="#e6dc8c"/>
<rect x="329.3" y="416.3" width="1.6" height="1.2" fill="#e6dc8c"/>
<rect x="335.14" y="416.3" width="1.6" height="1.2" fill="#e6dc8c"/>
<rect x="340.97" y="416.3" width="1.6" height="1.2" fill="#e6dc8c"/>
<rect x="346.81" y="416.3" width="1.6" height="1.2" fill="#e6dc8c"/>
<rect x="352.65" y="416.3" width="1.6" height="1.2" fill="#e6dc8c"/>
<rect x="358.48" y="416.3" width="1.6" height="1.2" fill="#e6dc8c"/>
<rect x="364.32" y="416.3" width="1.6" height="1.2" fill="#e6dc8c"/>
<rect x="370.16" y="416.3" width="1.6" height="1.2" fill="#e6dc8c"/>
<rect x="375.99" y="416.3" width="1.6" height="1.2" fill="#e6dc8c"/>
<rect x="381.83" y="416.3" width="1.6" height="1.2" fill="#e6dc8c"/>
<rect x="387.67" y="416.3" width="1.6" height="1.2" fill="#e6dc8c"/>
<rect x="393.51" y="416.3" width="1.6" height="1.2" fill="#e6dc8c"/>
<rect x="399.34" y="416.3" width="1.6" height="1.2" fill="#e6dc8c"/>
<rect x="405.18" y="416.3" width="1.6" height="1.2" fill="#e6dc8c"/>
<rect x="411.02" y="416.3" width="1.6" height="1.2" fill="#e6dc8c"/>
<rect x="416.85" y="416.3" width="1.6" height="1.2" fill="#e6dc8c"/>
<rect x="422.69" y="416.3" width="1.6" height="1.2" fill="#e6dc8c"/>
<rect x="428.53" y="416.3" width="1.6" height="1.2" fill="#e6dc8c"/>
<rect x="434.36" y="416.3" width="1.6" height="1.2" fill="#e6dc8c"/>
<rect x="440.2" y="416.3" width="1.6" height="1.2" fill="#e6dc8c"/>
<rect x="446.04" y="416.3" width="1.6" height="1.2" fill="#e6dc8c"/>
<rect x="451.88" y="416.3" width="1.6" height="1.2" fill="#e6dc8c"/>
<rect x="457.71" y="416.3" width="1.6" height="1.2" fill="#e6dc8c"/>
<rect x="463.55" y="416.3" width="1.6" height="1.2" fill="#e6dc8c"/>
<rect x="469.39" y="416.3" width="1.6" height="1.2" fill="#e6dc8c"/>
<rect x="475.22" y="416.3" width="1.6" height="1.2" fill="#e6dc8c"/>
<rect x="481.06" y="416.3" width="1.6" height="1.2" fill="#e6dc8c"/>
<rect x="486.9" y="416.3" width="1.6" height="1.2" fill="#e6dc8c"/>
<rect x="492.73" y="416.3" width="1.6" height="1.2" fill="#e6dc8c"/>
<rect x="498.57" y="416.3" width="1.6" height="1.2" fill="#e6dc8c"/>
<rect x="504.41" y="416.3" width="1.6" height="1.2" fill="#e6dc8c"/>
<rect x="510.25" y="416.3" width="1.6" height="1.2" fill="#e6dc8c"/>
<rect x="516.08" y="416.3" width="1.6" height="1.2" fill="#e6dc8c"/>
<rect x="521.92" y="416.3" width="1.6" height="1.2" fill="#e6dc8c"/>
<rect x="527.76" y="416.3" width="1.6" height="1.2" fill="#e6dc8c"/>
<rect x="533.59" y="416.3" width="1.6" height="1.2" fill="#e6dc8c"/>
<text class="cn" text-anchor="middle" x="540.23" y="420.5" fill="rgb(214,190,130)">8</text>
<rect x="545.27" y="416.3" width="1.6" height="1.2" fill="#e6dc8c"/>
<rect x="551.1" y="416.3" width="1.6" height="1.2" fill="#e6dc8c"/>
<rect x="556.94" y="416.3" width="1.6" height="1.2" fill="#e6dc8c"/>
<rect x="562.78" y="416.3" width="1.6" height="1.2" fill="#e6dc8c"/>
<rect x="568.62" y="416.3" width="1.6" height="1.2" fill="#e6dc8c"/>
<rect x="574.45" y="416.3" width="1.6" height="1.2" fill="#e6dc8c"/>
<rect x="580.29" y="416.3" width="1.6" height="1.2" fill="#e6dc8c"/>
<rect x="586.13" y="416.3" width="1.6" height="1.2" fill="#e6dc8c"/>
<rect x="591.96" y="416.3" width="1.6" height="1.2" fill="#e6dc8c"/>
<rect x="597.8" y="416.3" width="1.6" height="1.2" fill="#e6dc8c"/>
<rect x="603.64" y="416.3" width="1.6" height="1.2" fill="#e6dc8c"/>
<rect x="609.47" y="416.3" width="1.6" height="1.2" fill="#e6dc8c"/>
<rect x="615.31" y="416.3" width="1.6" height="1.2" fill="#e6dc8c"/>
<rect x="621.15" y="416.3" width="1.6" height="1.2" fill="#e6dc8c"/>
<rect x="626.99" y="416.3" width="1.6" height="1.2" fill="#e6dc8c"/>
<rect x="632.82" y="416.3" width="1.6" height="1.2" fill="#e6dc8c"/>
<rect x="638.66" y="416.3" width="1.6" height="1.2" fill="#e6dc8c"/>
<rect x="644.5" y="416.3" width="1.6" height="1.2" fill="#e6dc8c"/>
<rect x="650.33" y="416.3" width="1.6" height="1.2" fill="#e6dc8c"/>
<rect x="656.17" y="416.3" width="1.6" height="1.2" fill="#e6dc8c"/>
<rect x="662.01" y="416.3" width="1.6" height="1.2" fill="#e6dc8c"/>
<rect x="667.84" y="416.3" width="1.6" height="1.2" fill="#e6dc8c"/>
<rect x="673.68" y="416.3" width="1.6" height="1.2" fill="#e6dc8c"/>
<rect x="679.52" y="416.3" width="1.6" height="1.2" fill="#e6dc8c"/>
<rect x="685.36" y="416.3" width="1.6" height="1.2" fill="#e6dc8c"/>
<rect x="691.19" y="416.3" width="1.6" height="1.2" fill="#e6dc8c"/>
<rect x="697.03" y="416.3" width="1.6" height="1.2" fill="#e6dc8c"/>
<rect x="702.87" y="416.3" width="1.6" height="1.2" fill="#e6dc8c"/>
<rect x="708.7" y="416.3" width="1.6" height="1.2" fill="#e6dc8c"/>
<rect x="714.54" y="416.3" width="1.6" height="1.2" fill="#e6dc8c"/>
<rect x="720.38" y="416.3" width="1.6" height="1.2" fill="#e6dc8c"/>
<rect x="726.21" y="416.3" width="1.6" height="1.2" fill="#e6dc8c"/>
<rect x="732.05" y="416.3" width="1.6" height="1.2" fill="#e6dc8c"/>
<rect x="737.89" y="416.3" width="1.6" height="1.2" fill="#e6dc8c"/>
<rect x="743.73" y="416.3" width="1.6" height="1.2" fill="#e6dc8c"/>
<rect x="749.56" y="416.3" width="1.6" height="1.2" fill="#e6dc8c"/>
<rect x="755.4" y="416.3" width="1.6" height="1.2" fill="#e6dc8c"/>
<rect x="761.24" y="416.3" width="1.6" height="1.2" fill="#e6dc8c"/>
<rect x="767.07" y="416.3" width="1.6" height="1.2" fill="#e6dc8c"/>
<rect x="772.91" y="416.3" width="1.6" height="1.2" fill="#e6dc8c"/>
<rect x="778.75" y="416.3" width="1.6" height="1.2" fill="#e6dc8c"/>
<text class="lb" text-anchor="end" x="86.2" y="445.2">Consensus</text>
<path d="M93.7 448.9 L93.7 428.4 L99.54 428.4 L99.54 428.4 L105.37 428.4 L105.37 428.4 L111.21 428.4 L111.21 428.4 L117.05 428.4 L117.05 428.4 L122.89 428.4 L122.89 428.4 L128.72 428.4 L128.72 428.4 L134.56 428.4 L134.56 428.4 L140.4 428.4 L140.4 428.4 L146.23 428.4 L146.23 437.19 L152.07 437.19 L152.07 428.4 L157.91 428.4 L157.91 428.4 L163.74 428.4 L163.74 437.19 L169.58 437.19 L169.58 428.4 L175.42 428.4 L175.42 428.4 L181.25 428.4 L181.25 428.4 L187.09 428.4 L187.09 431.33 L192.93 431.33 L192.93 428.4 L198.77 428.4 L198.77 428.4 L204.6 428.4 L204.6 428.4 L210.44 428.4 L210.44 428.4 L216.28 428.4 L216.28 428.4 L222.11 428.4 L222.11 428.4 L227.95 428.4 L227.95 428.4 L233.79 428.4 L233.79 428.4 L239.62 428.4 L239.62 428.4 L245.46 428.4 L245.46 428.4 L251.3 428.4 L251.3 428.4 L257.14 428.4 L257.14 428.4 L262.97 428.4 L262.97 428.4 L268.81 428.4 L268.81 428.4 L274.65 428.4 L274.65 428.4 L280.48 428.4 L280.48 428.4 L286.32 428.4 L286.32 428.4 L292.16 428.4 L292.16 428.4 L298 428.4 L298 428.4 L303.83 428.4 L303.83 428.4 L309.67 428.4 L309.67 428.4 L315.51 428.4 L315.51 428.4 L321.34 428.4 L321.34 428.4 L327.18 428.4 L327.18 428.4 L333.02 428.4 L333.02 428.4 L338.85 428.4 L338.85 428.4 L344.69 428.4 L344.69 428.4 L350.53 428.4 L350.53 428.4 L356.36 428.4 L356.36 428.4 L362.2 428.4 L362.2 428.4 L368.04 428.4 L368.04 428.4 L373.88 428.4 L373.88 428.4 L379.71 428.4 L379.71 428.4 L385.55 428.4 L385.55 428.4 L391.39 428.4 L391.39 428.4 L397.22 428.4 L397.22 428.4 L403.06 428.4 L403.06 428.4 L408.9 428.4 L408.9 428.4 L414.73 428.4 L414.73 428.4 L420.57 428.4 L420.57 428.4 L426.41 428.4 L426.41 428.4 L432.25 428.4 L432.25 428.4 L438.08 428.4 L438.08 428.4 L443.92 428.4 L443.92 428.4 L449.76 428.4 L449.76 428.4 L455.59 428.4 L455.59 428.4 L461.43 428.4 L461.43 428.4 L467.27 428.4 L467.27 428.4 L473.1 428.4 L473.1 428.4 L478.94 428.4 L478.94 428.4 L484.78 428.4 L484.78 428.4 L490.62 428.4 L490.62 428.4 L496.45 428.4 L496.45 428.4 L502.29 428.4 L502.29 428.4 L508.13 428.4 L508.13 428.4 L513.96 428.4 L513.96 428.4 L519.8 428.4 L519.8 428.4 L525.64 428.4 L525.64 428.4 L531.48 428.4 L531.48 428.4 L537.31 428.4 L537.31 431.33 L543.15 431.33 L543.15 428.4 L548.99 428.4 L548.99 428.4 L554.82 428.4 L554.82 428.4 L560.66 428.4 L560.66 428.4 L566.5 428.4 L566.5 428.4 L572.33 428.4 L572.33 428.4 L578.17 428.4 L578.17 428.4 L584.01 428.4 L584.01 428.4 L589.85 428.4 L589.85 428.4 L595.68 428.4 L595.68 428.4 L601.52 428.4 L601.52 428.4 L607.36 428.4 L607.36 428.4 L613.19 428.4 L613.19 428.4 L619.03 428.4 L619.03 428.4 L624.87 428.4 L624.87 428.4 L630.7 428.4 L630.7 428.4 L636.54 428.4 L636.54 428.4 L642.38 428.4 L642.38 428.4 L648.22 428.4 L648.22 428.4 L654.05 428.4 L654.05 428.4 L659.89 428.4 L659.89 428.4 L665.73 428.4 L665.73 428.4 L671.56 428.4 L671.56 428.4 L677.4 428.4 L677.4 428.4 L683.24 428.4 L683.24 428.4 L689.07 428.4 L689.07 428.4 L694.91 428.4 L694.91 428.4 L700.75 428.4 L700.75 428.4 L706.59 428.4 L706.59 428.4 L712.42 428.4 L712.42 428.4 L718.26 428.4 L718.26 428.4 L724.1 428.4 L724.1 428.4 L729.93 428.4 L729.93 428.4 L735.77 428.4 L735.77 428.4 L741.61 428.4 L741.61 428.4 L747.44 428.4 L747.44 428.4 L753.28 428.4 L753.28 428.4 L759.12 428.4 L759.12 428.4 L764.96 428.4 L764.96 428.4 L770.79 428.4 L770.79 428.4 L776.63 428.4 L776.63 428.4 L782.47 428.4 L782.47 448.9 Z" fill="#141414"/>
<text class="cs" text-anchor="middle" x="96.62 102.46 108.29 114.13 119.97 125.8 131.64 137.48 143.31 149.15 154.99 160.83 166.66 172.5 178.34 184.17 190.01 195.85 201.68 207.52 213.36 219.2 225.03 230.87 236.71 242.54 248.38 254.22 260.05 265.89 271.73 277.57 283.4 289.24 295.08 300.91 306.75 312.59 318.42 324.26 330.1 335.94 341.77 347.61 353.45 359.28 365.12 370.96 376.79 382.63 388.47 394.31 400.14 405.98 411.82 417.65 423.49 429.33 435.16 441 446.84 452.68 458.51 464.35 470.19 476.02 481.86 487.7 493.53 499.37 505.21 511.05 516.88 522.72 528.56 534.39 540.23 546.07 551.9 557.74 563.58 569.42 575.25 581.09 586.93 592.76 598.6 604.44 610.27 616.11 621.95 627.79 633.62 639.46 645.3 651.13 656.97 662.81 668.64 674.48 680.32 686.16 691.99 697.83 703.67 709.5 715.34 721.18 727.01 732.85 738.69 744.53 750.36 756.2 762.04 767.87 773.71 779.55" y="455.8">EGEFSVTMWSSDEKKDIDHETVVEEQIIGENSPPDYSEYMTGKKLPPGGIPGIDLSDPKQLAEFARMKPRKIKEDDAPRTIACPHKGCTKMFRDNSAMRKHLHTHGPRVHVCAECGKA</text>
<text class="nm" x="7.4" y="481.4">Homo sapiens</text>
<text class="nm" x="7.4" y="491.13">Mus musculus</text>
<text class="nm" x="7.4" y="500.86">Rattus norvegicus</text>
<text class="nm" x="7.4" y="510.59">Bos taurus</text>
<text class="nm" x="7.4" y="520.32">Xenopus tropicalis</text>
<text class="nm" x="7.4" y="530.05">Gallus gallus</text>
<text class="nm" x="7.4" y="539.78">Danio rerio</text>
<rect x="93.5" y="472.8" width="11.67" height="10.2" fill="#a2bfe5"/>
<rect x="105.17" y="472.8" width="5.84" height="10.2" fill="#b856ad"/>
<rect x="111.01" y="472.8" width="11.67" height="10.2" fill="#4aad45"/>
<rect x="122.69" y="472.8" width="5.84" height="10.2" fill="#d9452f"/>
<rect x="128.52" y="472.8" width="5.84" height="10.2" fill="#a2bfe5"/>
<rect x="134.36" y="472.8" width="11.67" height="10.2" fill="#d9452f"/>
<rect x="146.03" y="472.8" width="5.84" height="10.2" fill="#30aaa2"/>
<rect x="151.87" y="472.8" width="5.84" height="10.2" fill="#4aad45"/>
<rect x="157.71" y="472.8" width="11.67" height="10.2" fill="#a2bfe5"/>
<rect x="169.38" y="472.8" width="5.84" height="10.2" fill="#30aaa2"/>
<rect x="175.22" y="472.8" width="5.84" height="10.2" fill="#4aad45"/>
<rect x="181.06" y="472.8" width="5.84" height="10.2" fill="#e59b5c"/>
<rect x="186.89" y="472.8" width="5.84" height="10.2" fill="#b856ad"/>
<rect x="192.73" y="472.8" width="5.84" height="10.2" fill="#d9452f"/>
<rect x="198.57" y="472.8" width="5.84" height="10.2" fill="#cdd04a"/>
<rect x="204.4" y="472.8" width="5.84" height="10.2" fill="#a2bfe5"/>
<rect x="210.24" y="472.8" width="5.84" height="10.2" fill="#4aad45"/>
<rect x="216.08" y="472.8" width="5.84" height="10.2" fill="#e28b7e"/>
<rect x="221.91" y="472.8" width="5.84" height="10.2" fill="#4aad45"/>
<rect x="227.75" y="472.8" width="5.84" height="10.2" fill="#a2bfe5"/>
<rect x="233.59" y="472.8" width="5.84" height="10.2" fill="#b856ad"/>
<rect x="239.42" y="472.8" width="5.84" height="10.2" fill="#e59b5c"/>
<rect x="245.26" y="472.8" width="5.84" height="10.2" fill="#e28b7e"/>
<rect x="251.1" y="472.8" width="5.84" height="10.2" fill="#e59b5c"/>
<rect x="256.94" y="472.8" width="11.67" height="10.2" fill="#d9452f"/>
<rect x="268.61" y="472.8" width="5.84" height="10.2" fill="#a2bfe5"/>
<rect x="274.45" y="472.8" width="5.84" height="10.2" fill="#4aad45"/>
<rect x="280.28" y="472.8" width="5.84" height="10.2" fill="#a2bfe5"/>
<rect x="286.12" y="472.8" width="5.84" height="10.2" fill="#b856ad"/>
<rect x="291.96" y="472.8" width="5.84" height="10.2" fill="#a2bfe5"/>
<rect x="297.79" y="472.8" width="5.84" height="10.2" fill="#4aad45"/>
<rect x="303.63" y="472.8" width="5.84" height="10.2" fill="#a2bfe5"/>
<rect x="309.47" y="472.8" width="5.84" height="10.2" fill="#d9452f"/>
<rect x="315.31" y="472.8" width="5.84" height="10.2" fill="#4aad45"/>
<rect x="321.14" y="472.8" width="5.84" height="10.2" fill="#30aaa2"/>
<rect x="326.98" y="472.8" width="5.84" height="10.2" fill="#a2bfe5"/>
<rect x="332.82" y="472.8" width="5.84" height="10.2" fill="#d9452f"/>
<rect x="338.65" y="472.8" width="5.84" height="10.2" fill="#a2bfe5"/>
<rect x="344.49" y="472.8" width="5.84" height="10.2" fill="#30aaa2"/>
<rect x="350.33" y="472.8" width="5.84" height="10.2" fill="#4aad45"/>
<rect x="356.16" y="472.8" width="5.84" height="10.2" fill="#e59b5c"/>
<rect x="362" y="472.8" width="5.84" height="10.2" fill="#b856ad"/>
<rect x="367.84" y="472.8" width="5.84" height="10.2" fill="#d9452f"/>
<rect x="373.68" y="472.8" width="5.84" height="10.2" fill="#cdd04a"/>
<rect x="379.51" y="472.8" width="5.84" height="10.2" fill="#30aaa2"/>
<rect x="385.35" y="472.8" width="5.84" height="10.2" fill="#a2bfe5"/>
<rect x="391.19" y="472.8" width="5.84" height="10.2" fill="#e28b7e"/>
<rect x="397.02" y="472.8" width="5.84" height="10.2" fill="#cdd04a"/>
<rect x="402.86" y="472.8" width="5.84" height="10.2" fill="#a2bfe5"/>
<rect x="408.7" y="472.8" width="5.84" height="10.2" fill="#b856ad"/>
<rect x="414.53" y="472.8" width="5.84" height="10.2" fill="#e59b5c"/>
<rect x="420.37" y="472.8" width="5.84" height="10.2" fill="#e28b7e"/>
<rect x="426.21" y="472.8" width="5.84" height="10.2" fill="#4aad45"/>
<rect x="432.05" y="472.8" width="11.67" height="10.2" fill="#d9452f"/>
<rect x="443.72" y="472.8" width="11.67" height="10.2" fill="#a2bfe5"/>
<rect x="455.39" y="472.8" width="23.35" height="10.2" fill="#4aad45"/>
<rect x="478.74" y="472.8" width="5.84" height="10.2" fill="#a2bfe5"/>
<rect x="484.58" y="472.8" width="5.84" height="10.2" fill="#d9452f"/>
<rect x="490.42" y="472.8" width="5.84" height="10.2" fill="#4aad45"/>
<rect x="496.25" y="472.8" width="5.84" height="10.2" fill="#30aaa2"/>
<rect x="502.09" y="472.8" width="11.67" height="10.2" fill="#a2bfe5"/>
<rect x="513.76" y="472.8" width="5.84" height="10.2" fill="#4aad45"/>
<rect x="519.6" y="472.8" width="5.84" height="10.2" fill="#30aaa2"/>
<rect x="525.44" y="472.8" width="5.84" height="10.2" fill="#a2bfe5"/>
<rect x="531.27" y="472.8" width="5.84" height="10.2" fill="#d9452f"/>
<rect x="537.11" y="472.8" width="5.84" height="10.2" fill="#a2bfe5"/>
<rect x="542.95" y="472.8" width="5.84" height="10.2" fill="#d9452f"/>
<rect x="548.79" y="472.8" width="17.51" height="10.2" fill="#4aad45"/>
<rect x="93.5" y="482.3" width="11.67" height="10.2" fill="#a2bfe5"/>
<rect x="105.17" y="482.3" width="5.84" height="10.2" fill="#b856ad"/>
<rect x="111.01" y="482.3" width="11.67" height="10.2" fill="#4aad45"/>
<rect x="122.69" y="482.3" width="5.84" height="10.2" fill="#d9452f"/>
<rect x="128.52" y="482.3" width="5.84" height="10.2" fill="#a2bfe5"/>
<rect x="134.36" y="482.3" width="11.67" height="10.2" fill="#d9452f"/>
<rect x="146.03" y="482.3" width="5.84" height="10.2" fill="#30aaa2"/>
<rect x="151.87" y="482.3" width="5.84" height="10.2" fill="#4aad45"/>
<rect x="157.71" y="482.3" width="11.67" height="10.2" fill="#a2bfe5"/>
<rect x="169.38" y="482.3" width="5.84" height="10.2" fill="#30aaa2"/>
<rect x="175.22" y="482.3" width="5.84" height="10.2" fill="#4aad45"/>
<rect x="181.06" y="482.3" width="5.84" height="10.2" fill="#e59b5c"/>
<rect x="186.89" y="482.3" width="5.84" height="10.2" fill="#b856ad"/>
<rect x="192.73" y="482.3" width="5.84" height="10.2" fill="#d9452f"/>
<rect x="198.57" y="482.3" width="5.84" height="10.2" fill="#cdd04a"/>
<rect x="204.4" y="482.3" width="5.84" height="10.2" fill="#a2bfe5"/>
<rect x="210.24" y="482.3" width="5.84" height="10.2" fill="#4aad45"/>
<rect x="216.08" y="482.3" width="5.84" height="10.2" fill="#e28b7e"/>
<rect x="221.91" y="482.3" width="5.84" height="10.2" fill="#4aad45"/>
<rect x="227.75" y="482.3" width="5.84" height="10.2" fill="#a2bfe5"/>
<rect x="233.59" y="482.3" width="5.84" height="10.2" fill="#b856ad"/>
<rect x="239.42" y="482.3" width="5.84" height="10.2" fill="#e59b5c"/>
<rect x="245.26" y="482.3" width="5.84" height="10.2" fill="#e28b7e"/>
<rect x="251.1" y="482.3" width="5.84" height="10.2" fill="#e59b5c"/>
<rect x="256.94" y="482.3" width="11.67" height="10.2" fill="#d9452f"/>
<rect x="268.61" y="482.3" width="5.84" height="10.2" fill="#a2bfe5"/>
<rect x="274.45" y="482.3" width="5.84" height="10.2" fill="#4aad45"/>
<rect x="280.28" y="482.3" width="5.84" height="10.2" fill="#a2bfe5"/>
<rect x="286.12" y="482.3" width="5.84" height="10.2" fill="#b856ad"/>
<rect x="291.96" y="482.3" width="5.84" height="10.2" fill="#a2bfe5"/>
<rect x="297.79" y="482.3" width="5.84" height="10.2" fill="#4aad45"/>
<rect x="303.63" y="482.3" width="5.84" height="10.2" fill="#a2bfe5"/>
<rect x="309.47" y="482.3" width="5.84" height="10.2" fill="#d9452f"/>
<rect x="315.31" y="482.3" width="5.84" height="10.2" fill="#4aad45"/>
<rect x="321.14" y="482.3" width="5.84" height="10.2" fill="#30aaa2"/>
<rect x="326.98" y="482.3" width="5.84" height="10.2" fill="#a2bfe5"/>
<rect x="332.82" y="482.3" width="5.84" height="10.2" fill="#d9452f"/>
<rect x="338.65" y="482.3" width="5.84" height="10.2" fill="#a2bfe5"/>
<rect x="344.49" y="482.3" width="5.84" height="10.2" fill="#30aaa2"/>
<rect x="350.33" y="482.3" width="5.84" height="10.2" fill="#4aad45"/>
<rect x="356.16" y="482.3" width="5.84" height="10.2" fill="#e59b5c"/>
<rect x="362" y="482.3" width="5.84" height="10.2" fill="#b856ad"/>
<rect x="367.84" y="482.3" width="5.84" height="10.2" fill="#d9452f"/>
<rect x="373.68" y="482.3" width="5.84" height="10.2" fill="#cdd04a"/>
<rect x="379.51" y="482.3" width="5.84" height="10.2" fill="#30aaa2"/>
<rect x="385.35" y="482.3" width="5.84" height="10.2" fill="#a2bfe5"/>
<rect x="391.19" y="482.3" width="5.84" height="10.2" fill="#e28b7e"/>
<rect x="397.02" y="482.3" width="5.84" height="10.2" fill="#cdd04a"/>
<rect x="402.86" y="482.3" width="5.84" height="10.2" fill="#a2bfe5"/>
<rect x="408.7" y="482.3" width="5.84" height="10.2" fill="#b856ad"/>
<rect x="414.53" y="482.3" width="5.84" height="10.2" fill="#e59b5c"/>
<rect x="420.37" y="482.3" width="5.84" height="10.2" fill="#e28b7e"/>
<rect x="426.21" y="482.3" width="5.84" height="10.2" fill="#4aad45"/>
<rect x="432.05" y="482.3" width="11.67" height="10.2" fill="#d9452f"/>
<rect x="443.72" y="482.3" width="11.67" height="10.2" fill="#a2bfe5"/>
<rect x="455.39" y="482.3" width="23.35" height="10.2" fill="#4aad45"/>
<rect x="478.74" y="482.3" width="5.84" height="10.2" fill="#a2bfe5"/>
<rect x="484.58" y="482.3" width="5.84" height="10.2" fill="#d9452f"/>
<rect x="490.42" y="482.3" width="5.84" height="10.2" fill="#4aad45"/>
<rect x="496.25" y="482.3" width="5.84" height="10.2" fill="#30aaa2"/>
<rect x="502.09" y="482.3" width="11.67" height="10.2" fill="#a2bfe5"/>
<rect x="513.76" y="482.3" width="5.84" height="10.2" fill="#4aad45"/>
<rect x="519.6" y="482.3" width="5.84" height="10.2" fill="#30aaa2"/>
<rect x="525.44" y="482.3" width="5.84" height="10.2" fill="#a2bfe5"/>
<rect x="531.27" y="482.3" width="5.84" height="10.2" fill="#d9452f"/>
<rect x="537.11" y="482.3" width="5.84" height="10.2" fill="#a2bfe5"/>
<rect x="542.95" y="482.3" width="5.84" height="10.2" fill="#d9452f"/>
<rect x="548.79" y="482.3" width="17.51" height="10.2" fill="#4aad45"/>
<rect x="93.5" y="491.8" width="11.67" height="10.2" fill="#a2bfe5"/>
<rect x="105.17" y="491.8" width="5.84" height="10.2" fill="#b856ad"/>
<rect x="111.01" y="491.8" width="11.67" height="10.2" fill="#4aad45"/>
<rect x="122.69" y="491.8" width="5.84" height="10.2" fill="#d9452f"/>
<rect x="128.52" y="491.8" width="5.84" height="10.2" fill="#a2bfe5"/>
<rect x="134.36" y="491.8" width="11.67" height="10.2" fill="#d9452f"/>
<rect x="146.03" y="491.8" width="5.84" height="10.2" fill="#30aaa2"/>
<rect x="151.87" y="491.8" width="5.84" height="10.2" fill="#4aad45"/>
<rect x="157.71" y="491.8" width="11.67" height="10.2" fill="#a2bfe5"/>
<rect x="169.38" y="491.8" width="5.84" height="10.2" fill="#30aaa2"/>
<rect x="175.22" y="491.8" width="5.84" height="10.2" fill="#4aad45"/>
<rect x="181.06" y="491.8" width="5.84" height="10.2" fill="#e59b5c"/>
<rect x="186.89" y="491.8" width="5.84" height="10.2" fill="#b856ad"/>
<rect x="192.73" y="491.8" width="5.84" height="10.2" fill="#d9452f"/>
<rect x="198.57" y="491.8" width="5.84" height="10.2" fill="#cdd04a"/>
<rect x="204.4" y="491.8" width="5.84" height="10.2" fill="#a2bfe5"/>
<rect x="210.24" y="491.8" width="5.84" height="10.2" fill="#4aad45"/>
<rect x="216.08" y="491.8" width="5.84" height="10.2" fill="#e28b7e"/>
<rect x="221.91" y="491.8" width="5.84" height="10.2" fill="#4aad45"/>
<rect x="227.75" y="491.8" width="5.84" height="10.2" fill="#a2bfe5"/>
<rect x="233.59" y="491.8" width="5.84" height="10.2" fill="#b856ad"/>
<rect x="239.42" y="491.8" width="5.84" height="10.2" fill="#e59b5c"/>
<rect x="245.26" y="491.8" width="5.84" height="10.2" fill="#e28b7e"/>
<rect x="251.1" y="491.8" width="5.84" height="10.2" fill="#e59b5c"/>
<rect x="256.94" y="491.8" width="11.67" height="10.2" fill="#d9452f"/>
<rect x="268.61" y="491.8" width="5.84" height="10.2" fill="#a2bfe5"/>
<rect x="274.45" y="491.8" width="5.84" height="10.2" fill="#4aad45"/>
<rect x="280.28" y="491.8" width="5.84" height="10.2" fill="#a2bfe5"/>
<rect x="286.12" y="491.8" width="5.84" height="10.2" fill="#b856ad"/>
<rect x="291.96" y="491.8" width="5.84" height="10.2" fill="#a2bfe5"/>
<rect x="297.79" y="491.8" width="5.84" height="10.2" fill="#4aad45"/>
<rect x="303.63" y="491.8" width="5.84" height="10.2" fill="#a2bfe5"/>
<rect x="309.47" y="491.8" width="5.84" height="10.2" fill="#d9452f"/>
<rect x="315.31" y="491.8" width="5.84" height="10.2" fill="#4aad45"/>
<rect x="321.14" y="491.8" width="5.84" height="10.2" fill="#30aaa2"/>
<rect x="326.98" y="491.8" width="5.84" height="10.2" fill="#a2bfe5"/>
<rect x="332.82" y="491.8" width="5.84" height="10.2" fill="#d9452f"/>
<rect x="338.65" y="491.8" width="5.84" height="10.2" fill="#a2bfe5"/>
<rect x="344.49" y="491.8" width="5.84" height="10.2" fill="#30aaa2"/>
<rect x="350.33" y="491.8" width="5.84" height="10.2" fill="#4aad45"/>
<rect x="356.16" y="491.8" width="5.84" height="10.2" fill="#e59b5c"/>
<rect x="362" y="491.8" width="5.84" height="10.2" fill="#b856ad"/>
<rect x="367.84" y="491.8" width="5.84" height="10.2" fill="#d9452f"/>
<rect x="373.68" y="491.8" width="5.84" height="10.2" fill="#cdd04a"/>
<rect x="379.51" y="491.8" width="5.84" height="10.2" fill="#30aaa2"/>
<rect x="385.35" y="491.8" width="5.84" height="10.2" fill="#a2bfe5"/>
<rect x="391.19" y="491.8" width="5.84" height="10.2" fill="#e28b7e"/>
<rect x="397.02" y="491.8" width="5.84" height="10.2" fill="#cdd04a"/>
<rect x="402.86" y="491.8" width="5.84" height="10.2" fill="#a2bfe5"/>
<rect x="408.7" y="491.8" width="5.84" height="10.2" fill="#b856ad"/>
<rect x="414.53" y="491.8" width="5.84" height="10.2" fill="#e59b5c"/>
<rect x="420.37" y="491.8" width="5.84" height="10.2" fill="#e28b7e"/>
<rect x="426.21" y="491.8" width="5.84" height="10.2" fill="#4aad45"/>
<rect x="432.05" y="491.8" width="11.67" height="10.2" fill="#d9452f"/>
<rect x="443.72" y="491.8" width="11.67" height="10.2" fill="#a2bfe5"/>
<rect x="455.39" y="491.8" width="23.35" height="10.2" fill="#4aad45"/>
<rect x="478.74" y="491.8" width="5.84" height="10.2" fill="#a2bfe5"/>
<rect x="484.58" y="491.8" width="5.84" height="10.2" fill="#d9452f"/>
<rect x="490.42" y="491.8" width="5.84" height="10.2" fill="#4aad45"/>
<rect x="496.25" y="491.8" width="5.84" height="10.2" fill="#30aaa2"/>
<rect x="502.09" y="491.8" width="11.67" height="10.2" fill="#a2bfe5"/>
<rect x="513.76" y="491.8" width="5.84" height="10.2" fill="#4aad45"/>
<rect x="519.6" y="491.8" width="5.84" height="10.2" fill="#30aaa2"/>
<rect x="525.44" y="491.8" width="5.84" height="10.2" fill="#a2bfe5"/>
<rect x="531.27" y="491.8" width="5.84" height="10.2" fill="#d9452f"/>
<rect x="537.11" y="491.8" width="5.84" height="10.2" fill="#a2bfe5"/>
<rect x="542.95" y="491.8" width="5.84" height="10.2" fill="#d9452f"/>
<rect x="548.79" y="491.8" width="17.51" height="10.2" fill="#4aad45"/>
<rect x="93.5" y="501.3" width="11.67" height="10.2" fill="#a2bfe5"/>
<rect x="105.17" y="501.3" width="5.84" height="10.2" fill="#b856ad"/>
<rect x="111.01" y="501.3" width="11.67" height="10.2" fill="#4aad45"/>
<rect x="122.69" y="501.3" width="5.84" height="10.2" fill="#d9452f"/>
<rect x="128.52" y="501.3" width="5.84" height="10.2" fill="#a2bfe5"/>
<rect x="134.36" y="501.3" width="11.67" height="10.2" fill="#d9452f"/>
<rect x="146.03" y="501.3" width="5.84" height="10.2" fill="#30aaa2"/>
<rect x="151.87" y="501.3" width="5.84" height="10.2" fill="#4aad45"/>
<rect x="157.71" y="501.3" width="11.67" height="10.2" fill="#a2bfe5"/>
<rect x="169.38" y="501.3" width="5.84" height="10.2" fill="#30aaa2"/>
<rect x="175.22" y="501.3" width="5.84" height="10.2" fill="#4aad45"/>
<rect x="181.06" y="501.3" width="5.84" height="10.2" fill="#e59b5c"/>
<rect x="186.89" y="501.3" width="5.84" height="10.2" fill="#b856ad"/>
<rect x="192.73" y="501.3" width="5.84" height="10.2" fill="#d9452f"/>
<rect x="198.57" y="501.3" width="5.84" height="10.2" fill="#cdd04a"/>
<rect x="204.4" y="501.3" width="5.84" height="10.2" fill="#a2bfe5"/>
<rect x="210.24" y="501.3" width="5.84" height="10.2" fill="#4aad45"/>
<rect x="216.08" y="501.3" width="5.84" height="10.2" fill="#e28b7e"/>
<rect x="221.91" y="501.3" width="5.84" height="10.2" fill="#4aad45"/>
<rect x="227.75" y="501.3" width="5.84" height="10.2" fill="#a2bfe5"/>
<rect x="233.59" y="501.3" width="5.84" height="10.2" fill="#b856ad"/>
<rect x="239.42" y="501.3" width="5.84" height="10.2" fill="#e59b5c"/>
<rect x="245.26" y="501.3" width="5.84" height="10.2" fill="#e28b7e"/>
<rect x="251.1" y="501.3" width="5.84" height="10.2" fill="#e59b5c"/>
<rect x="256.94" y="501.3" width="11.67" height="10.2" fill="#d9452f"/>
<rect x="268.61" y="501.3" width="5.84" height="10.2" fill="#a2bfe5"/>
<rect x="274.45" y="501.3" width="5.84" height="10.2" fill="#4aad45"/>
<rect x="280.28" y="501.3" width="5.84" height="10.2" fill="#a2bfe5"/>
<rect x="286.12" y="501.3" width="5.84" height="10.2" fill="#b856ad"/>
<rect x="291.96" y="501.3" width="5.84" height="10.2" fill="#a2bfe5"/>
<rect x="297.79" y="501.3" width="5.84" height="10.2" fill="#4aad45"/>
<rect x="303.63" y="501.3" width="5.84" height="10.2" fill="#a2bfe5"/>
<rect x="309.47" y="501.3" width="5.84" height="10.2" fill="#d9452f"/>
<rect x="315.31" y="501.3" width="5.84" height="10.2" fill="#4aad45"/>
<rect x="321.14" y="501.3" width="5.84" height="10.2" fill="#30aaa2"/>
<rect x="326.98" y="501.3" width="5.84" height="10.2" fill="#a2bfe5"/>
<rect x="332.82" y="501.3" width="5.84" height="10.2" fill="#d9452f"/>
<rect x="338.65" y="501.3" width="5.84" height="10.2" fill="#a2bfe5"/>
<rect x="344.49" y="501.3" width="5.84" height="10.2" fill="#30aaa2"/>
<rect x="350.33" y="501.3" width="5.84" height="10.2" fill="#4aad45"/>
<rect x="356.16" y="501.3" width="5.84" height="10.2" fill="#e59b5c"/>
<rect x="362" y="501.3" width="5.84" height="10.2" fill="#b856ad"/>
<rect x="367.84" y="501.3" width="5.84" height="10.2" fill="#d9452f"/>
<rect x="373.68" y="501.3" width="5.84" height="10.2" fill="#cdd04a"/>
<rect x="379.51" y="501.3" width="5.84" height="10.2" fill="#30aaa2"/>
<rect x="385.35" y="501.3" width="5.84" height="10.2" fill="#a2bfe5"/>
<rect x="391.19" y="501.3" width="5.84" height="10.2" fill="#e28b7e"/>
<rect x="397.02" y="501.3" width="5.84" height="10.2" fill="#cdd04a"/>
<rect x="402.86" y="501.3" width="5.84" height="10.2" fill="#a2bfe5"/>
<rect x="408.7" y="501.3" width="5.84" height="10.2" fill="#b856ad"/>
<rect x="414.53" y="501.3" width="5.84" height="10.2" fill="#e59b5c"/>
<rect x="420.37" y="501.3" width="5.84" height="10.2" fill="#e28b7e"/>
<rect x="426.21" y="501.3" width="5.84" height="10.2" fill="#4aad45"/>
<rect x="432.05" y="501.3" width="11.67" height="10.2" fill="#d9452f"/>
<rect x="443.72" y="501.3" width="11.67" height="10.2" fill="#a2bfe5"/>
<rect x="455.39" y="501.3" width="23.35" height="10.2" fill="#4aad45"/>
<rect x="478.74" y="501.3" width="5.84" height="10.2" fill="#a2bfe5"/>
<rect x="484.58" y="501.3" width="5.84" height="10.2" fill="#d9452f"/>
<rect x="490.42" y="501.3" width="5.84" height="10.2" fill="#4aad45"/>
<rect x="496.25" y="501.3" width="5.84" height="10.2" fill="#30aaa2"/>
<rect x="502.09" y="501.3" width="11.67" height="10.2" fill="#a2bfe5"/>
<rect x="513.76" y="501.3" width="5.84" height="10.2" fill="#4aad45"/>
<rect x="519.6" y="501.3" width="5.84" height="10.2" fill="#30aaa2"/>
<rect x="525.44" y="501.3" width="5.84" height="10.2" fill="#a2bfe5"/>
<rect x="531.27" y="501.3" width="5.84" height="10.2" fill="#d9452f"/>
<rect x="537.11" y="501.3" width="5.84" height="10.2" fill="#a2bfe5"/>
<rect x="542.95" y="501.3" width="5.84" height="10.2" fill="#d9452f"/>
<rect x="548.79" y="501.3" width="17.51" height="10.2" fill="#4aad45"/>
<rect x="93.5" y="510.8" width="11.67" height="10.2" fill="#a2bfe5"/>
<rect x="105.17" y="510.8" width="5.84" height="10.2" fill="#b856ad"/>
<rect x="111.01" y="510.8" width="11.67" height="10.2" fill="#4aad45"/>
<rect x="122.69" y="510.8" width="5.84" height="10.2" fill="#d9452f"/>
<rect x="128.52" y="510.8" width="5.84" height="10.2" fill="#a2bfe5"/>
<rect x="134.36" y="510.8" width="11.67" height="10.2" fill="#d9452f"/>
<rect x="146.03" y="510.8" width="5.84" height="10.2" fill="#30aaa2"/>
<rect x="151.87" y="510.8" width="5.84" height="10.2" fill="#4aad45"/>
<rect x="157.71" y="510.8" width="11.67" height="10.2" fill="#a2bfe5"/>
<rect x="169.38" y="510.8" width="5.84" height="10.2" fill="#30aaa2"/>
<rect x="175.22" y="510.8" width="5.84" height="10.2" fill="#4aad45"/>
<rect x="181.06" y="510.8" width="5.84" height="10.2" fill="#e59b5c"/>
<rect x="186.89" y="510.8" width="5.84" height="10.2" fill="#b856ad"/>
<rect x="192.73" y="510.8" width="5.84" height="10.2" fill="#d9452f"/>
<rect x="198.57" y="510.8" width="5.84" height="10.2" fill="#cdd04a"/>
<rect x="204.4" y="510.8" width="5.84" height="10.2" fill="#a2bfe5"/>
<rect x="210.24" y="510.8" width="5.84" height="10.2" fill="#4aad45"/>
<rect x="216.08" y="510.8" width="5.84" height="10.2" fill="#e28b7e"/>
<rect x="221.91" y="510.8" width="5.84" height="10.2" fill="#4aad45"/>
<rect x="227.75" y="510.8" width="5.84" height="10.2" fill="#a2bfe5"/>
<rect x="233.59" y="510.8" width="5.84" height="10.2" fill="#b856ad"/>
<rect x="239.42" y="510.8" width="5.84" height="10.2" fill="#e59b5c"/>
<rect x="245.26" y="510.8" width="5.84" height="10.2" fill="#e28b7e"/>
<rect x="251.1" y="510.8" width="5.84" height="10.2" fill="#e59b5c"/>
<rect x="256.94" y="510.8" width="11.67" height="10.2" fill="#d9452f"/>
<rect x="268.61" y="510.8" width="5.84" height="10.2" fill="#a2bfe5"/>
<rect x="274.45" y="510.8" width="5.84" height="10.2" fill="#4aad45"/>
<rect x="280.28" y="510.8" width="5.84" height="10.2" fill="#a2bfe5"/>
<rect x="286.12" y="510.8" width="5.84" height="10.2" fill="#b856ad"/>
<rect x="291.96" y="510.8" width="5.84" height="10.2" fill="#a2bfe5"/>
<rect x="297.79" y="510.8" width="5.84" height="10.2" fill="#4aad45"/>
<rect x="303.63" y="510.8" width="5.84" height="10.2" fill="#a2bfe5"/>
<rect x="309.47" y="510.8" width="5.84" height="10.2" fill="#d9452f"/>
<rect x="315.31" y="510.8" width="5.84" height="10.2" fill="#4aad45"/>
<rect x="321.14" y="510.8" width="5.84" height="10.2" fill="#30aaa2"/>
<rect x="326.98" y="510.8" width="5.84" height="10.2" fill="#a2bfe5"/>
<rect x="332.82" y="510.8" width="5.84" height="10.2" fill="#d9452f"/>
<rect x="338.65" y="510.8" width="5.84" height="10.2" fill="#a2bfe5"/>
<rect x="344.49" y="510.8" width="5.84" height="10.2" fill="#30aaa2"/>
<rect x="350.33" y="510.8" width="5.84" height="10.2" fill="#4aad45"/>
<rect x="356.16" y="510.8" width="5.84" height="10.2" fill="#e59b5c"/>
<rect x="362" y="510.8" width="5.84" height="10.2" fill="#b856ad"/>
<rect x="367.84" y="510.8" width="5.84" height="10.2" fill="#d9452f"/>
<rect x="373.68" y="510.8" width="5.84" height="10.2" fill="#cdd04a"/>
<rect x="379.51" y="510.8" width="5.84" height="10.2" fill="#30aaa2"/>
<rect x="385.35" y="510.8" width="5.84" height="10.2" fill="#a2bfe5"/>
<rect x="391.19" y="510.8" width="5.84" height="10.2" fill="#e28b7e"/>
<rect x="397.02" y="510.8" width="5.84" height="10.2" fill="#cdd04a"/>
<rect x="402.86" y="510.8" width="5.84" height="10.2" fill="#a2bfe5"/>
<rect x="408.7" y="510.8" width="5.84" height="10.2" fill="#b856ad"/>
<rect x="414.53" y="510.8" width="5.84" height="10.2" fill="#e59b5c"/>
<rect x="420.37" y="510.8" width="5.84" height="10.2" fill="#e28b7e"/>
<rect x="426.21" y="510.8" width="5.84" height="10.2" fill="#4aad45"/>
<rect x="432.05" y="510.8" width="11.67" height="10.2" fill="#d9452f"/>
<rect x="443.72" y="510.8" width="11.67" height="10.2" fill="#a2bfe5"/>
<rect x="455.39" y="510.8" width="23.35" height="10.2" fill="#4aad45"/>
<rect x="478.74" y="510.8" width="5.84" height="10.2" fill="#a2bfe5"/>
<rect x="484.58" y="510.8" width="5.84" height="10.2" fill="#d9452f"/>
<rect x="490.42" y="510.8" width="5.84" height="10.2" fill="#4aad45"/>
<rect x="496.25" y="510.8" width="5.84" height="10.2" fill="#30aaa2"/>
<rect x="502.09" y="510.8" width="11.67" height="10.2" fill="#a2bfe5"/>
<rect x="513.76" y="510.8" width="5.84" height="10.2" fill="#4aad45"/>
<rect x="519.6" y="510.8" width="5.84" height="10.2" fill="#30aaa2"/>
<rect x="525.44" y="510.8" width="5.84" height="10.2" fill="#a2bfe5"/>
<rect x="531.27" y="510.8" width="5.84" height="10.2" fill="#d9452f"/>
<rect x="537.11" y="510.8" width="5.84" height="10.2" fill="#a2bfe5"/>
<rect x="542.95" y="510.8" width="5.84" height="10.2" fill="#d9452f"/>
<rect x="548.79" y="510.8" width="17.51" height="10.2" fill="#4aad45"/>
<rect x="93.5" y="520.3" width="11.67" height="10.2" fill="#a2bfe5"/>
<rect x="105.17" y="520.3" width="5.84" height="10.2" fill="#b856ad"/>
<rect x="111.01" y="520.3" width="11.67" height="10.2" fill="#4aad45"/>
<rect x="122.69" y="520.3" width="5.84" height="10.2" fill="#d9452f"/>
<rect x="128.52" y="520.3" width="5.84" height="10.2" fill="#a2bfe5"/>
<rect x="134.36" y="520.3" width="11.67" height="10.2" fill="#d9452f"/>
<rect x="146.03" y="520.3" width="5.84" height="10.2" fill="#30aaa2"/>
<rect x="151.87" y="520.3" width="5.84" height="10.2" fill="#4aad45"/>
<rect x="157.71" y="520.3" width="11.67" height="10.2" fill="#a2bfe5"/>
<rect x="169.38" y="520.3" width="5.84" height="10.2" fill="#30aaa2"/>
<rect x="175.22" y="520.3" width="5.84" height="10.2" fill="#4aad45"/>
<rect x="181.06" y="520.3" width="5.84" height="10.2" fill="#e59b5c"/>
<rect x="186.89" y="520.3" width="5.84" height="10.2" fill="#b856ad"/>
<rect x="192.73" y="520.3" width="5.84" height="10.2" fill="#d9452f"/>
<rect x="198.57" y="520.3" width="5.84" height="10.2" fill="#cdd04a"/>
<rect x="204.4" y="520.3" width="5.84" height="10.2" fill="#a2bfe5"/>
<rect x="210.24" y="520.3" width="5.84" height="10.2" fill="#4aad45"/>
<rect x="216.08" y="520.3" width="5.84" height="10.2" fill="#e28b7e"/>
<rect x="221.91" y="520.3" width="5.84" height="10.2" fill="#4aad45"/>
<rect x="227.75" y="520.3" width="5.84" height="10.2" fill="#a2bfe5"/>
<rect x="233.59" y="520.3" width="5.84" height="10.2" fill="#b856ad"/>
<rect x="239.42" y="520.3" width="5.84" height="10.2" fill="#e59b5c"/>
<rect x="245.26" y="520.3" width="5.84" height="10.2" fill="#e28b7e"/>
<rect x="251.1" y="520.3" width="5.84" height="10.2" fill="#e59b5c"/>
<rect x="256.94" y="520.3" width="11.67" height="10.2" fill="#d9452f"/>
<rect x="268.61" y="520.3" width="5.84" height="10.2" fill="#a2bfe5"/>
<rect x="274.45" y="520.3" width="5.84" height="10.2" fill="#4aad45"/>
<rect x="280.28" y="520.3" width="5.84" height="10.2" fill="#a2bfe5"/>
<rect x="286.12" y="520.3" width="5.84" height="10.2" fill="#b856ad"/>
<rect x="291.96" y="520.3" width="5.84" height="10.2" fill="#a2bfe5"/>
<rect x="297.79" y="520.3" width="5.84" height="10.2" fill="#4aad45"/>
<rect x="303.63" y="520.3" width="5.84" height="10.2" fill="#a2bfe5"/>
<rect x="309.47" y="520.3" width="5.84" height="10.2" fill="#d9452f"/>
<rect x="315.31" y="520.3" width="5.84" height="10.2" fill="#4aad45"/>
<rect x="321.14" y="520.3" width="5.84" height="10.2" fill="#30aaa2"/>
<rect x="326.98" y="520.3" width="5.84" height="10.2" fill="#a2bfe5"/>
<rect x="332.82" y="520.3" width="5.84" height="10.2" fill="#d9452f"/>
<rect x="338.65" y="520.3" width="5.84" height="10.2" fill="#a2bfe5"/>
<rect x="344.49" y="520.3" width="5.84" height="10.2" fill="#30aaa2"/>
<rect x="350.33" y="520.3" width="5.84" height="10.2" fill="#4aad45"/>
<rect x="356.16" y="520.3" width="5.84" height="10.2" fill="#e59b5c"/>
<rect x="362" y="520.3" width="5.84" height="10.2" fill="#b856ad"/>
<rect x="367.84" y="520.3" width="5.84" height="10.2" fill="#d9452f"/>
<rect x="373.68" y="520.3" width="5.84" height="10.2" fill="#cdd04a"/>
<rect x="379.51" y="520.3" width="5.84" height="10.2" fill="#30aaa2"/>
<rect x="385.35" y="520.3" width="5.84" height="10.2" fill="#a2bfe5"/>
<rect x="391.19" y="520.3" width="5.84" height="10.2" fill="#e28b7e"/>
<rect x="397.02" y="520.3" width="5.84" height="10.2" fill="#cdd04a"/>
<rect x="402.86" y="520.3" width="5.84" height="10.2" fill="#a2bfe5"/>
<rect x="408.7" y="520.3" width="5.84" height="10.2" fill="#b856ad"/>
<rect x="414.53" y="520.3" width="5.84" height="10.2" fill="#e59b5c"/>
<rect x="420.37" y="520.3" width="5.84" height="10.2" fill="#e28b7e"/>
<rect x="426.21" y="520.3" width="5.84" height="10.2" fill="#4aad45"/>
<rect x="432.05" y="520.3" width="11.67" height="10.2" fill="#d9452f"/>
<rect x="443.72" y="520.3" width="11.67" height="10.2" fill="#a2bfe5"/>
<rect x="455.39" y="520.3" width="23.35" height="10.2" fill="#4aad45"/>
<rect x="478.74" y="520.3" width="5.84" height="10.2" fill="#a2bfe5"/>
<rect x="484.58" y="520.3" width="5.84" height="10.2" fill="#d9452f"/>
<rect x="490.42" y="520.3" width="5.84" height="10.2" fill="#4aad45"/>
<rect x="496.25" y="520.3" width="5.84" height="10.2" fill="#30aaa2"/>
<rect x="502.09" y="520.3" width="11.67" height="10.2" fill="#a2bfe5"/>
<rect x="513.76" y="520.3" width="5.84" height="10.2" fill="#4aad45"/>
<rect x="519.6" y="520.3" width="5.84" height="10.2" fill="#30aaa2"/>
<rect x="525.44" y="520.3" width="5.84" height="10.2" fill="#a2bfe5"/>
<rect x="531.27" y="520.3" width="5.84" height="10.2" fill="#d9452f"/>
<rect x="537.11" y="520.3" width="5.84" height="10.2" fill="#a2bfe5"/>
<rect x="542.95" y="520.3" width="5.84" height="10.2" fill="#d9452f"/>
<rect x="548.79" y="520.3" width="17.51" height="10.2" fill="#4aad45"/>
<rect x="93.5" y="529.8" width="11.67" height="9.55" fill="#a2bfe5"/>
<rect x="105.17" y="529.8" width="5.84" height="9.55" fill="#b856ad"/>
<rect x="111.01" y="529.8" width="11.67" height="9.55" fill="#4aad45"/>
<rect x="122.69" y="529.8" width="5.84" height="9.55" fill="#d9452f"/>
<rect x="128.52" y="529.8" width="5.84" height="9.55" fill="#a2bfe5"/>
<rect x="134.36" y="529.8" width="11.67" height="9.55" fill="#d9452f"/>
<rect x="146.03" y="529.8" width="5.84" height="9.55" fill="#30aaa2"/>
<rect x="151.87" y="529.8" width="5.84" height="9.55" fill="#4aad45"/>
<rect x="157.71" y="529.8" width="11.67" height="9.55" fill="#a2bfe5"/>
<rect x="169.38" y="529.8" width="5.84" height="9.55" fill="#30aaa2"/>
<rect x="175.22" y="529.8" width="5.84" height="9.55" fill="#4aad45"/>
<rect x="181.06" y="529.8" width="5.84" height="9.55" fill="#e59b5c"/>
<rect x="186.89" y="529.8" width="5.84" height="9.55" fill="#b856ad"/>
<rect x="192.73" y="529.8" width="5.84" height="9.55" fill="#d9452f"/>
<rect x="198.57" y="529.8" width="5.84" height="9.55" fill="#cdd04a"/>
<rect x="204.4" y="529.8" width="5.84" height="9.55" fill="#a2bfe5"/>
<rect x="210.24" y="529.8" width="5.84" height="9.55" fill="#4aad45"/>
<rect x="216.08" y="529.8" width="5.84" height="9.55" fill="#e28b7e"/>
<rect x="221.91" y="529.8" width="5.84" height="9.55" fill="#4aad45"/>
<rect x="227.75" y="529.8" width="5.84" height="9.55" fill="#a2bfe5"/>
<rect x="233.59" y="529.8" width="5.84" height="9.55" fill="#b856ad"/>
<rect x="239.42" y="529.8" width="5.84" height="9.55" fill="#e59b5c"/>
<rect x="245.26" y="529.8" width="5.84" height="9.55" fill="#e28b7e"/>
<rect x="251.1" y="529.8" width="5.84" height="9.55" fill="#e59b5c"/>
<rect x="256.94" y="529.8" width="11.67" height="9.55" fill="#d9452f"/>
<rect x="268.61" y="529.8" width="5.84" height="9.55" fill="#a2bfe5"/>
<rect x="274.45" y="529.8" width="5.84" height="9.55" fill="#4aad45"/>
<rect x="280.28" y="529.8" width="5.84" height="9.55" fill="#a2bfe5"/>
<rect x="286.12" y="529.8" width="5.84" height="9.55" fill="#b856ad"/>
<rect x="291.96" y="529.8" width="5.84" height="9.55" fill="#a2bfe5"/>
<rect x="297.79" y="529.8" width="5.84" height="9.55" fill="#4aad45"/>
<rect x="303.63" y="529.8" width="5.84" height="9.55" fill="#a2bfe5"/>
<rect x="309.47" y="529.8" width="5.84" height="9.55" fill="#d9452f"/>
<rect x="315.31" y="529.8" width="5.84" height="9.55" fill="#4aad45"/>
<rect x="321.14" y="529.8" width="5.84" height="9.55" fill="#30aaa2"/>
<rect x="326.98" y="529.8" width="5.84" height="9.55" fill="#a2bfe5"/>
<rect x="332.82" y="529.8" width="5.84" height="9.55" fill="#d9452f"/>
<rect x="338.65" y="529.8" width="5.84" height="9.55" fill="#a2bfe5"/>
<rect x="344.49" y="529.8" width="5.84" height="9.55" fill="#30aaa2"/>
<rect x="350.33" y="529.8" width="5.84" height="9.55" fill="#4aad45"/>
<rect x="356.16" y="529.8" width="5.84" height="9.55" fill="#e59b5c"/>
<rect x="362" y="529.8" width="5.84" height="9.55" fill="#b856ad"/>
<rect x="367.84" y="529.8" width="5.84" height="9.55" fill="#d9452f"/>
<rect x="373.68" y="529.8" width="5.84" height="9.55" fill="#cdd04a"/>
<rect x="379.51" y="529.8" width="5.84" height="9.55" fill="#30aaa2"/>
<rect x="385.35" y="529.8" width="5.84" height="9.55" fill="#a2bfe5"/>
<rect x="391.19" y="529.8" width="5.84" height="9.55" fill="#e28b7e"/>
<rect x="397.02" y="529.8" width="5.84" height="9.55" fill="#cdd04a"/>
<rect x="402.86" y="529.8" width="5.84" height="9.55" fill="#a2bfe5"/>
<rect x="408.7" y="529.8" width="5.84" height="9.55" fill="#b856ad"/>
<rect x="414.53" y="529.8" width="5.84" height="9.55" fill="#e59b5c"/>
<rect x="420.37" y="529.8" width="5.84" height="9.55" fill="#e28b7e"/>
<rect x="426.21" y="529.8" width="5.84" height="9.55" fill="#4aad45"/>
<rect x="432.05" y="529.8" width="11.67" height="9.55" fill="#d9452f"/>
<rect x="443.72" y="529.8" width="11.67" height="9.55" fill="#a2bfe5"/>
<rect x="455.39" y="529.8" width="23.35" height="9.55" fill="#4aad45"/>
<rect x="478.74" y="529.8" width="5.84" height="9.55" fill="#a2bfe5"/>
<rect x="484.58" y="529.8" width="5.84" height="9.55" fill="#d9452f"/>
<rect x="490.42" y="529.8" width="5.84" height="9.55" fill="#4aad45"/>
<rect x="496.25" y="529.8" width="5.84" height="9.55" fill="#30aaa2"/>
<rect x="502.09" y="529.8" width="11.67" height="9.55" fill="#a2bfe5"/>
<rect x="513.76" y="529.8" width="5.84" height="9.55" fill="#4aad45"/>
<rect x="519.6" y="529.8" width="5.84" height="9.55" fill="#30aaa2"/>
<rect x="525.44" y="529.8" width="5.84" height="9.55" fill="#a2bfe5"/>
<rect x="531.27" y="529.8" width="5.84" height="9.55" fill="#d9452f"/>
<rect x="537.11" y="529.8" width="5.84" height="9.55" fill="#a2bfe5"/>
<rect x="542.95" y="529.8" width="5.84" height="9.55" fill="#d9452f"/>
<rect x="548.79" y="529.8" width="17.51" height="9.55" fill="#4aad45"/>
<text class="sq" text-anchor="middle" x="96.42 102.26 108.09 113.93 119.77 125.6 131.44 137.28 143.11 148.95 154.79 160.63 166.46 172.3 178.14 183.97 189.81 195.65 201.48 207.32 213.16 219 224.83 230.67 236.51 242.34 248.18 254.02 259.85 265.69 271.53 277.37 283.2 289.04 294.88 300.71 306.55 312.39 318.22 324.06 329.9 335.74 341.57 347.41 353.25 359.08 364.92 370.76 376.59 382.43 388.27 394.11 399.94 405.78 411.62 417.45 423.29 429.13 434.96 440.8 446.64 452.48 458.31 464.15 469.99 475.82 481.66 487.5 493.33 499.17 505.01 510.85 516.68 522.52 528.36 534.19 540.03 545.87 551.7 557.54 563.38" y="481.5">FVESSKLKRHQLVHTGEKPFQCTFEGCGKRFSLDFNLRTHVRIHTGDRPYVCPFDGCNKKFAQSTNLKSHILTHAKAKNNQ</text>
<text class="sq" text-anchor="middle" x="96.42 102.26 108.09 113.93 119.77 125.6 131.44 137.28 143.11 148.95 154.79 160.63 166.46 172.3 178.14 183.97 189.81 195.65 201.48 207.32 213.16 219 224.83 230.67 236.51 242.34 248.18 254.02 259.85 265.69 271.53 277.37 283.2 289.04 294.88 300.71 306.55 312.39 318.22 324.06 329.9 335.74 341.57 347.41 353.25 359.08 364.92 370.76 376.59 382.43 388.27 394.11 399.94 405.78 411.62 417.45 423.29 429.13 434.96 440.8 446.64 452.48 458.31 464.15 469.99 475.82 481.66 487.5 493.33 499.17 505.01 510.85 516.68 522.52 528.36 534.19 540.03 545.87 551.7 557.54 563.38" y="491.1">FVESSKLKRHQLVHTGEKPFQCTFEGCGKRFSLDFNLRTHVRIHTGDRPYVCPFDGCNKKFAQSTNLKSHILTHAKAKNNQ</text>
<text class="sq" text-anchor="middle" x="96.42 102.26 108.09 113.93 119.77 125.6 131.44 137.28 143.11 148.95 154.79 160.63 166.46 172.3 178.14 183.97 189.81 195.65 201.48 207.32 213.16 219 224.83 230.67 236.51 242.34 248.18 254.02 259.85 265.69 271.53 277.37 283.2 289.04 294.88 300.71 306.55 312.39 318.22 324.06 329.9 335.74 341.57 347.41 353.25 359.08 364.92 370.76 376.59 382.43 388.27 394.11 399.94 405.78 411.62 417.45 423.29 429.13 434.96 440.8 446.64 452.48 458.31 464.15 469.99 475.82 481.66 487.5 493.33 499.17 505.01 510.85 516.68 522.52 528.36 534.19 540.03 545.87 551.7 557.54 563.38" y="500.7">FVESSKLKRHQLVHTGEKPFQCTFEGCGKRFSLDFNLRTHVRIHTGDRPYVCPFDGCNKKFAQSTNLKSHILTHAKAKNNQ</text>
<text class="sq" text-anchor="middle" x="96.42 102.26 108.09 113.93 119.77 125.6 131.44 137.28 143.11 148.95 154.79 160.63 166.46 172.3 178.14 183.97 189.81 195.65 201.48 207.32 213.16 219 224.83 230.67 236.51 242.34 248.18 254.02 259.85 265.69 271.53 277.37 283.2 289.04 294.88 300.71 306.55 312.39 318.22 324.06 329.9 335.74 341.57 347.41 353.25 359.08 364.92 370.76 376.59 382.43 388.27 394.11 399.94 405.78 411.62 417.45 423.29 429.13 434.96 440.8 446.64 452.48 458.31 464.15 469.99 475.82 481.66 487.5 493.33 499.17 505.01 510.85 516.68 522.52 528.36 534.19 540.03 545.87 551.7 557.54 563.38" y="510.3">FVESSKLKRHQLVHTGEKPFQCTFEGCGKRFSLDFNLRTHVRIHTGDRPYVCPFDGCNKKFAQSTNLKSHILTHAKAKNNQ</text>
<text class="sq" text-anchor="middle" x="96.42 102.26 108.09 113.93 119.77 125.6 131.44 137.28 143.11 148.95 154.79 160.63 166.46 172.3 178.14 183.97 189.81 195.65 201.48 207.32 213.16 219 224.83 230.67 236.51 242.34 248.18 254.02 259.85 265.69 271.53 277.37 283.2 289.04 294.88 300.71 306.55 312.39 318.22 324.06 329.9 335.74 341.57 347.41 353.25 359.08 364.92 370.76 376.59 382.43 388.27 394.11 399.94 405.78 411.62 417.45 423.29 429.13 434.96 440.8 446.64 452.48 458.31 464.15 469.99 475.82 481.66 487.5 493.33 499.17 505.01 510.85 516.68 522.52 528.36 534.19 540.03 545.87 551.7 557.54 563.38" y="519.9">FVESSKLKRHQLVHTGEKPFQCTFEGCGKRFSLDFNLRTHVRIHTGDRPYVCPFDGCNKKFAQSTNLKSHILTHAKAKNNQ</text>
<text class="sq" text-anchor="middle" x="96.42 102.26 108.09 113.93 119.77 125.6 131.44 137.28 143.11 148.95 154.79 160.63 166.46 172.3 178.14 183.97 189.81 195.65 201.48 207.32 213.16 219 224.83 230.67 236.51 242.34 248.18 254.02 259.85 265.69 271.53 277.37 283.2 289.04 294.88 300.71 306.55 312.39 318.22 324.06 329.9 335.74 341.57 347.41 353.25 359.08 364.92 370.76 376.59 382.43 388.27 394.11 399.94 405.78 411.62 417.45 423.29 429.13 434.96 440.8 446.64 452.48 458.31 464.15 469.99 475.82 481.66 487.5 493.33 499.17 505.01 510.85 516.68 522.52 528.36 534.19 540.03 545.87 551.7 557.54 563.38" y="529.5">FVESSKLKRHQLVHTGEKPFQCTFEGCGKRFSLDFNLRTHVRIHTGDRPYVCPFDGCNKKFAQSTNLKSHILTHAKAKNNQ</text>
<text class="sq" text-anchor="middle" x="96.42 102.26 108.09 113.93 119.77 125.6 131.44 137.28 143.11 148.95 154.79 160.63 166.46 172.3 178.14 183.97 189.81 195.65 201.48 207.32 213.16 219 224.83 230.67 236.51 242.34 248.18 254.02 259.85 265.69 271.53 277.37 283.2 289.04 294.88 300.71 306.55 312.39 318.22 324.06 329.9 335.74 341.57 347.41 353.25 359.08 364.92 370.76 376.59 382.43 388.27 394.11 399.94 405.78 411.62 417.45 423.29 429.13 434.96 440.8 446.64 452.48 458.31 464.15 469.99 475.82 481.66 487.5 493.33 499.17 505.01 510.85 516.68 522.52 528.36 534.19 540.03 545.87 551.7 557.54 563.38" y="539.1">FVESSKLKRHQLVHTGEKPFQCTFEGCGKRFSLDFNLRTHVRIHTGDRPYVCPFDGCNKKFAQSTNLKSHILTHAKAKNNQ</text>
<text class="lb" text-anchor="end" x="86.2" y="558.6">Conservation</text>
<rect x="93.5" y="560.9" width="472.8" height="0.9" fill="#8a8a8a"/>
<rect x="93.5" y="541.2" width="472.8" height="20.3" fill="rgb(244,220,12)"/>
<rect x="95.62" y="564.8" width="1.6" height="1.2" fill="#e6dc8c"/>
<rect x="101.46" y="564.8" width="1.6" height="1.2" fill="#e6dc8c"/>
<rect x="107.29" y="564.8" width="1.6" height="1.2" fill="#e6dc8c"/>
<rect x="113.13" y="564.8" width="1.6" height="1.2" fill="#e6dc8c"/>
<rect x="118.97" y="564.8" width="1.6" height="1.2" fill="#e6dc8c"/>
<rect x="124.8" y="564.8" width="1.6" height="1.2" fill="#e6dc8c"/>
<rect x="130.64" y="564.8" width="1.6" height="1.2" fill="#e6dc8c"/>
<rect x="136.48" y="564.8" width="1.6" height="1.2" fill="#e6dc8c"/>
<rect x="142.31" y="564.8" width="1.6" height="1.2" fill="#e6dc8c"/>
<rect x="148.15" y="564.8" width="1.6" height="1.2" fill="#e6dc8c"/>
<rect x="153.99" y="564.8" width="1.6" height="1.2" fill="#e6dc8c"/>
<rect x="159.83" y="564.8" width="1.6" height="1.2" fill="#e6dc8c"/>
<rect x="165.66" y="564.8" width="1.6" height="1.2" fill="#e6dc8c"/>
<rect x="171.5" y="564.8" width="1.6" height="1.2" fill="#e6dc8c"/>
<rect x="177.34" y="564.8" width="1.6" height="1.2" fill="#e6dc8c"/>
<rect x="183.17" y="564.8" width="1.6" height="1.2" fill="#e6dc8c"/>
<rect x="189.01" y="564.8" width="1.6" height="1.2" fill="#e6dc8c"/>
<rect x="194.85" y="564.8" width="1.6" height="1.2" fill="#e6dc8c"/>
<rect x="200.68" y="564.8" width="1.6" height="1.2" fill="#e6dc8c"/>
<rect x="206.52" y="564.8" width="1.6" height="1.2" fill="#e6dc8c"/>
<rect x="212.36" y="564.8" width="1.6" height="1.2" fill="#e6dc8c"/>
<rect x="218.2" y="564.8" width="1.6" height="1.2" fill="#e6dc8c"/>
<rect x="224.03" y="564.8" width="1.6" height="1.2" fill="#e6dc8c"/>
<rect x="229.87" y="564.8" width="1.6" height="1.2" fill="#e6dc8c"/>
<rect x="235.71" y="564.8" width="1.6" height="1.2" fill="#e6dc8c"/>
<rect x="241.54" y="564.8" width="1.6" height="1.2" fill="#e6dc8c"/>
<rect x="247.38" y="564.8" width="1.6" height="1.2" fill="#e6dc8c"/>
<rect x="253.22" y="564.8" width="1.6" height="1.2" fill="#e6dc8c"/>
<rect x="259.05" y="564.8" width="1.6" height="1.2" fill="#e6dc8c"/>
<rect x="264.89" y="564.8" width="1.6" height="1.2" fill="#e6dc8c"/>
<rect x="270.73" y="564.8" width="1.6" height="1.2" fill="#e6dc8c"/>
<rect x="276.57" y="564.8" width="1.6" height="1.2" fill="#e6dc8c"/>
<rect x="282.4" y="564.8" width="1.6" height="1.2" fill="#e6dc8c"/>
<rect x="288.24" y="564.8" width="1.6" height="1.2" fill="#e6dc8c"/>
<rect x="294.08" y="564.8" width="1.6" height="1.2" fill="#e6dc8c"/>
<rect x="299.91" y="564.8" width="1.6" height="1.2" fill="#e6dc8c"/>
<rect x="305.75" y="564.8" width="1.6" height="1.2" fill="#e6dc8c"/>
<rect x="311.59" y="564.8" width="1.6" height="1.2" fill="#e6dc8c"/>
<rect x="317.42" y="564.8" width="1.6" height="1.2" fill="#e6dc8c"/>
<rect x="323.26" y="564.8" width="1.6" height="1.2" fill="#e6dc8c"/>
<rect x="329.1" y="564.8" width="1.6" height="1.2" fill="#e6dc8c"/>
<rect x="334.94" y="564.8" width="1.6" height="1.2" fill="#e6dc8c"/>
<rect x="340.77" y="564.8" width="1.6" height="1.2" fill="#e6dc8c"/>
<rect x="346.61" y="564.8" width="1.6" height="1.2" fill="#e6dc8c"/>
<rect x="352.45" y="564.8" width="1.6" height="1.2" fill="#e6dc8c"/>
<rect x="358.28" y="564.8" width="1.6" height="1.2" fill="#e6dc8c"/>
<rect x="364.12" y="564.8" width="1.6" height="1.2" fill="#e6dc8c"/>
<rect x="369.96" y="564.8" width="1.6" height="1.2" fill="#e6dc8c"/>
<rect x="375.79" y="564.8" width="1.6" height="1.2" fill="#e6dc8c"/>
<rect x="381.63" y="564.8" width="1.6" height="1.2" fill="#e6dc8c"/>
<rect x="387.47" y="564.8" width="1.6" height="1.2" fill="#e6dc8c"/>
<rect x="393.31" y="564.8" width="1.6" height="1.2" fill="#e6dc8c"/>
<rect x="399.14" y="564.8" width="1.6" height="1.2" fill="#e6dc8c"/>
<rect x="404.98" y="564.8" width="1.6" height="1.2" fill="#e6dc8c"/>
<rect x="410.82" y="564.8" width="1.6" height="1.2" fill="#e6dc8c"/>
<rect x="416.65" y="564.8" width="1.6" height="1.2" fill="#e6dc8c"/>
<rect x="422.49" y="564.8" width="1.6" height="1.2" fill="#e6dc8c"/>
<rect x="428.33" y="564.8" width="1.6" height="1.2" fill="#e6dc8c"/>
<rect x="434.16" y="564.8" width="1.6" height="1.2" fill="#e6dc8c"/>
<rect x="440" y="564.8" width="1.6" height="1.2" fill="#e6dc8c"/>
<rect x="445.84" y="564.8" width="1.6" height="1.2" fill="#e6dc8c"/>
<rect x="451.68" y="564.8" width="1.6" height="1.2" fill="#e6dc8c"/>
<rect x="457.51" y="564.8" width="1.6" height="1.2" fill="#e6dc8c"/>
<rect x="463.35" y="564.8" width="1.6" height="1.2" fill="#e6dc8c"/>
<rect x="469.19" y="564.8" width="1.6" height="1.2" fill="#e6dc8c"/>
<rect x="475.02" y="564.8" width="1.6" height="1.2" fill="#e6dc8c"/>
<rect x="480.86" y="564.8" width="1.6" height="1.2" fill="#e6dc8c"/>
<rect x="486.7" y="564.8" width="1.6" height="1.2" fill="#e6dc8c"/>
<rect x="492.53" y="564.8" width="1.6" height="1.2" fill="#e6dc8c"/>
<rect x="498.37" y="564.8" width="1.6" height="1.2" fill="#e6dc8c"/>
<rect x="504.21" y="564.8" width="1.6" height="1.2" fill="#e6dc8c"/>
<rect x="510.05" y="564.8" width="1.6" height="1.2" fill="#e6dc8c"/>
<rect x="515.88" y="564.8" width="1.6" height="1.2" fill="#e6dc8c"/>
<rect x="521.72" y="564.8" width="1.6" height="1.2" fill="#e6dc8c"/>
<rect x="527.56" y="564.8" width="1.6" height="1.2" fill="#e6dc8c"/>
<rect x="533.39" y="564.8" width="1.6" height="1.2" fill="#e6dc8c"/>
<rect x="539.23" y="564.8" width="1.6" height="1.2" fill="#e6dc8c"/>
<rect x="545.07" y="564.8" width="1.6" height="1.2" fill="#e6dc8c"/>
<rect x="550.9" y="564.8" width="1.6" height="1.2" fill="#e6dc8c"/>
<rect x="556.74" y="564.8" width="1.6" height="1.2" fill="#e6dc8c"/>
<rect x="562.58" y="564.8" width="1.6" height="1.2" fill="#e6dc8c"/>
<text class="lb" text-anchor="end" x="86.2" y="593.7">Consensus</text>
<path d="M93.5 597.4 L93.5 576.9 L99.34 576.9 L99.34 576.9 L105.17 576.9 L105.17 576.9 L111.01 576.9 L111.01 576.9 L116.85 576.9 L116.85 576.9 L122.69 576.9 L122.69 576.9 L128.52 576.9 L128.52 576.9 L134.36 576.9 L134.36 576.9 L140.2 576.9 L140.2 576.9 L146.03 576.9 L146.03 576.9 L151.87 576.9 L151.87 576.9 L157.71 576.9 L157.71 576.9 L163.54 576.9 L163.54 576.9 L169.38 576.9 L169.38 576.9 L175.22 576.9 L175.22 576.9 L181.05 576.9 L181.06 576.9 L186.89 576.9 L186.89 576.9 L192.73 576.9 L192.73 576.9 L198.57 576.9 L198.57 576.9 L204.4 576.9 L204.4 576.9 L210.24 576.9 L210.24 576.9 L216.08 576.9 L216.08 576.9 L221.91 576.9 L221.91 576.9 L227.75 576.9 L227.75 576.9 L233.59 576.9 L233.59 576.9 L239.42 576.9 L239.42 576.9 L245.26 576.9 L245.26 576.9 L251.1 576.9 L251.1 576.9 L256.94 576.9 L256.94 576.9 L262.77 576.9 L262.77 576.9 L268.61 576.9 L268.61 576.9 L274.45 576.9 L274.45 576.9 L280.28 576.9 L280.28 576.9 L286.12 576.9 L286.12 576.9 L291.96 576.9 L291.96 576.9 L297.79 576.9 L297.79 576.9 L303.63 576.9 L303.63 576.9 L309.47 576.9 L309.47 576.9 L315.31 576.9 L315.31 576.9 L321.14 576.9 L321.14 576.9 L326.98 576.9 L326.98 576.9 L332.82 576.9 L332.82 576.9 L338.65 576.9 L338.65 576.9 L344.49 576.9 L344.49 576.9 L350.33 576.9 L350.33 576.9 L356.16 576.9 L356.16 576.9 L362 576.9 L362 576.9 L367.84 576.9 L367.84 576.9 L373.68 576.9 L373.68 576.9 L379.51 576.9 L379.51 576.9 L385.35 576.9 L385.35 576.9 L391.19 576.9 L391.19 576.9 L397.02 576.9 L397.02 576.9 L402.86 576.9 L402.86 576.9 L408.7 576.9 L408.7 576.9 L414.53 576.9 L414.53 576.9 L420.37 576.9 L420.37 576.9 L426.21 576.9 L426.21 576.9 L432.05 576.9 L432.05 576.9 L437.88 576.9 L437.88 576.9 L443.72 576.9 L443.72 576.9 L449.56 576.9 L449.56 576.9 L455.39 576.9 L455.39 576.9 L461.23 576.9 L461.23 576.9 L467.07 576.9 L467.07 576.9 L472.9 576.9 L472.9 576.9 L478.74 576.9 L478.74 576.9 L484.58 576.9 L484.58 576.9 L490.42 576.9 L490.42 576.9 L496.25 576.9 L496.25 576.9 L502.09 576.9 L502.09 576.9 L507.93 576.9 L507.93 576.9 L513.76 576.9 L513.76 576.9 L519.6 576.9 L519.6 576.9 L525.44 576.9 L525.44 576.9 L531.27 576.9 L531.27 576.9 L537.11 576.9 L537.11 576.9 L542.95 576.9 L542.95 576.9 L548.79 576.9 L548.79 576.9 L554.62 576.9 L554.62 576.9 L560.46 576.9 L560.46 576.9 L566.3 576.9 L566.3 597.4 Z" fill="#141414"/>
<text class="cs" text-anchor="middle" x="96.42 102.26 108.09 113.93 119.77 125.6 131.44 137.28 143.11 148.95 154.79 160.63 166.46 172.3 178.14 183.97 189.81 195.65 201.48 207.32 213.16 219 224.83 230.67 236.51 242.34 248.18 254.02 259.85 265.69 271.53 277.37 283.2 289.04 294.88 300.71 306.55 312.39 318.22 324.06 329.9 335.74 341.57 347.41 353.25 359.08 364.92 370.76 376.59 382.43 388.27 394.11 399.94 405.78 411.62 417.45 423.29 429.13 434.96 440.8 446.64 452.48 458.31 464.15 469.99 475.82 481.66 487.5 493.33 499.17 505.01 510.85 516.68 522.52 528.36 534.19 540.03 545.87 551.7 557.54 563.38" y="604.3">FVESSKLKRHQLVHTGEKPFQCTFEGCGKRFSLDFNLRTHVRIHTGDRPYVCPFDGCNKKFAQSTNLKSHILTHAKAKNNQ</text>
</svg>
<svg width="784" height="767" viewBox="0 0 784 767" style="position:absolute;left:0;top:0">
<g style="font-family:'Liberation Sans',sans-serif;font-weight:bold;fill:#1e1e1e;stroke:#1e1e1e;stroke-width:0.2">
<text x="573.6" y="470.6" style="font-size:9.6px">AA</text>
<text x="595.2" y="470.6" style="font-size:9.6px">Homology</text>
<g style="font-size:7.4px">
<text x="574.4" y="481">414</text>
<text x="574.4" y="490.6">414</text>
<text x="574.4" y="500.2">411</text>
<text x="574.4" y="509.8">415</text>
<text x="574.4" y="519.4">372</text>
<text x="574.4" y="529">420</text>
<text x="574.4" y="538.6">357</text>
</g>
<g style="font-size:8px" text-anchor="end">
<text x="632.4" y="481">100%</text>
<text x="632.4" y="490.6">98.56%</text>
<text x="632.4" y="500.2">98.07%</text>
<text x="632.4" y="509.8">97.84%</text>
<text x="632.4" y="519.4">82.37%</text>
<text x="632.4" y="529">84.76%</text>
<text x="632.4" y="538.6">75.87%</text>
</g>
<text x="662.6" y="476.8" style="font-size:9.6px">Color</text>
<text x="699.4" y="471.3" style="font-size:9.6px">Category of</text>
<text x="699.4" y="482.4" style="font-size:9.6px">amino acids</text>
</g>
<g>
<rect x="658" y="489.7" width="34.4" height="8.6" fill="#8fb2df"/>
<rect x="658" y="502.8" width="34.4" height="8.6" fill="#e2432d"/>
<rect x="658" y="515.9" width="34.4" height="8.6" fill="#944d94"/>
<rect x="658" y="529" width="34.4" height="8.6" fill="#4aa84c"/>
<rect x="658" y="542.1" width="34.4" height="8.6" fill="#e08a85"/>
<rect x="658" y="555.2" width="34.4" height="8.6" fill="#e0955a"/>
<rect x="658" y="568.3" width="34.4" height="8.6" fill="#c9c93a"/>
<rect x="658" y="581.4" width="34.4" height="8.6" fill="#35a6a0"/>
<rect x="658.4" y="594.9" width="33.6" height="7.8" fill="#fff" stroke="#7a7a7a" stroke-width="0.8"/>
</g>
<g style="font-family:'Liberation Sans',sans-serif;font-size:7.7px;fill:#20203a" text-anchor="middle">
<text x="675.2" y="496.1">blue</text>
<text x="675.2" y="509.2">red</text>
<text x="675.2" y="522.3">magenta</text>
<text x="675.2" y="535.4">green</text>
<text x="675.2" y="548.5">pink</text>
<text x="675.2" y="561.6">orange</text>
<text x="675.2" y="574.7">yellow</text>
<text x="675.2" y="587.8">cyan</text>
<text x="675.2" y="600.9">white</text>
</g>
<g style="font-family:'Liberation Sans',sans-serif;font-weight:bold;font-size:8.4px;fill:#1e1e1e;stroke:#1e1e1e;stroke-width:0.2">
<text x="699.6" y="496.9">hydrophobic</text>
<text x="699.6" y="510">positive charge</text>
<text x="699.6" y="523.1">negative charge</text>
<text x="699.6" y="536.2">polar</text>
<text x="699.6" y="549.3">cysteines</text>
<text x="699.6" y="562.4">glycines</text>
<text x="699.6" y="575.5">prolines</text>
<text x="699.6" y="588.6">aromatic</text>
<text x="699.6" y="601.7">unconserved</text>
</g>
<!-- B section -->
<text x="2.2" y="651.9" style="font:bold 16px 'Liberation Sans',sans-serif;fill:#111">B</text>
<g>
<rect x="39.5" y="678" width="60.8" height="32.4" fill="#fff"/>
<rect x="100.3" y="678" width="20.1" height="32.4" fill="#b68a5f"/>
<rect x="120.4" y="678" width="104" height="32.4" fill="#e9592b"/>
<rect x="224.4" y="678" width="51.1" height="32.4" fill="#3db36b"/>
<rect x="275.5" y="678" width="110.9" height="32.4" fill="#371b80"/>
<rect x="386.4" y="678" width="135.9" height="32.4" fill="#f4e43a"/>
<rect x="39.5" y="678" width="482.8" height="32.4" fill="none" stroke="#1a1a1a" stroke-width="1.2"/>
<g stroke="#1a1a1a" stroke-width="1.1">
<line x1="100.3" y1="678" x2="100.3" y2="710.4"/>
<line x1="120.4" y1="678" x2="120.4" y2="710.4"/>
<line x1="224.4" y1="678" x2="224.4" y2="710.4"/>
<line x1="275.5" y1="678" x2="275.5" y2="710.4"/>
<line x1="386.4" y1="678" x2="386.4" y2="710.4"/>
<line x1="110.2" y1="710.4" x2="110.2" y2="741"/>
<line x1="250.5" y1="710.4" x2="250.5" y2="740.2"/>
</g>
<g stroke="#222" stroke-width="1.5">
<line x1="41.6" y1="670.8" x2="217.6" y2="670.8"/>
<line x1="250.7" y1="670.8" x2="275.5" y2="670.8"/>
<line x1="389" y1="670.8" x2="520.3" y2="670.8"/>
</g>
</g>
<g style="font-family:'Liberation Sans',sans-serif;font-weight:bold;font-size:9.8px;fill:#262626;stroke:#262626;stroke-width:0.2" text-anchor="middle">
<text x="128.3" y="651.7">Activation</text>
<text x="128.3" y="663.6">domain</text>
<text x="261.4" y="651.7">Repression</text>
<text x="262.7" y="663.6">domain I</text>
<text x="455.3" y="651.7">Repression</text>
<text x="455.3" y="663.6">domain II</text>
<text x="110.2" y="753">Histidine</text>
<text x="110.2" y="764.8">cluster</text>
<text x="248.7" y="752.3">Gly/Ala- &amp; Gly/Lys-</text>
<text x="248.4" y="763">rich region</text>
<text x="172.4" y="690" style="fill:#fff;stroke:#fff">Acidic</text>
<text x="172.4" y="701.8" style="fill:#fff;stroke:#fff">region</text>
<text x="331" y="690" style="fill:#fff;stroke:#fff">Spacer</text>
<text x="331" y="701.8" style="fill:#fff;stroke:#fff">region</text>
<text x="456.5" y="691.8">Zinc fingers</text>
<text x="456.5" y="703.6">region</text>
</g>
<g style="font-family:'Liberation Sans',sans-serif;font-weight:bold;font-size:9.4px;fill:#262626;stroke:#262626;stroke-width:0.2" text-anchor="middle">
<text x="39.8" y="721.4">1</text>
<text x="98.2" y="721.4">55</text>
<text x="120.6" y="721.4">71</text>
<text x="225.7" y="721.4">160</text>
<text x="276.2" y="721.4">204</text>
<text x="384.5" y="721.4">299</text>
<text x="521.6" y="721.4">414</text>
</g>
</svg>

</body></html>
